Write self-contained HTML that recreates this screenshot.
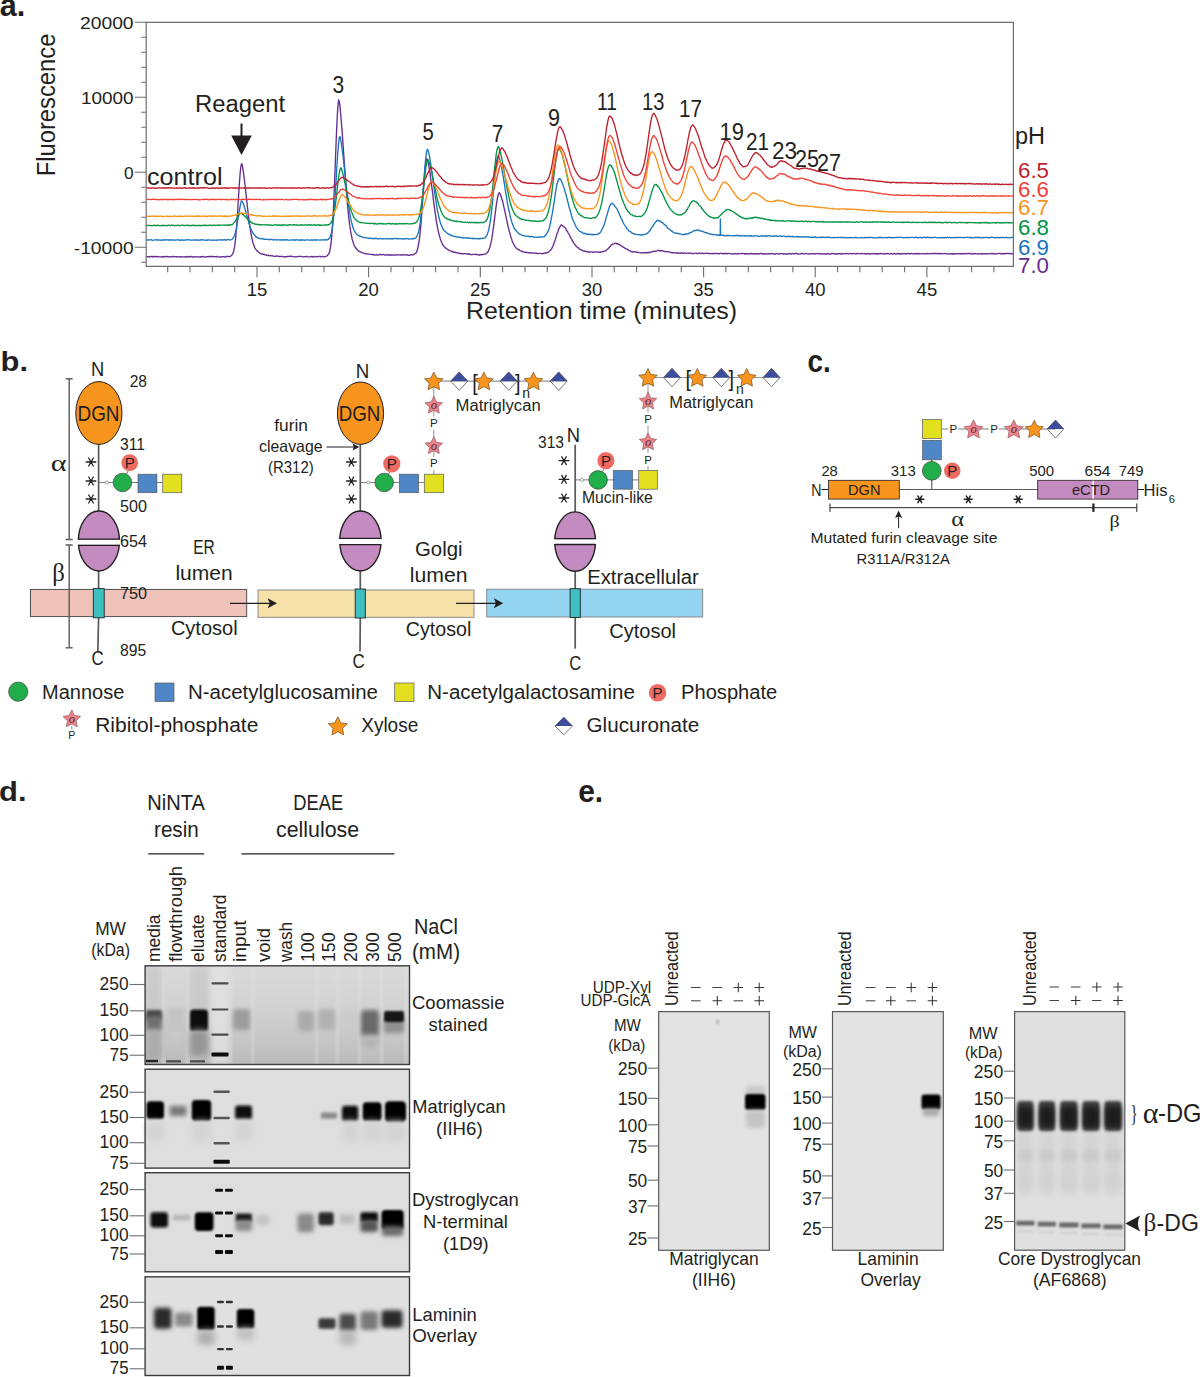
<!DOCTYPE html>
<html><head><meta charset="utf-8"><title>Figure</title>
<style>
html,body{margin:0;padding:0;background:#fff;}
body{width:1200px;height:1377px;overflow:hidden;}
svg{display:block;font-family:"Liberation Sans",sans-serif;}
</style></head><body>
<svg width="1200" height="1377" viewBox="0 0 1200 1377">
<path d="M146.2 22.3H1013.4V266.3H146.2Z" fill="none" stroke="#6d6e71" stroke-width="1.2"/>
<path d="M141.2 262.3H146.2 M134.7 247.3H146.2 M141.2 232.3H146.2 M141.2 217.3H146.2 M141.2 202.3H146.2 M141.2 187.3H146.2 M134.7 172.3H146.2 M141.2 157.3H146.2 M141.2 142.3H146.2 M141.2 127.3H146.2 M141.2 112.3H146.2 M134.7 97.3H146.2 M141.2 82.3H146.2 M141.2 67.3H146.2 M141.2 52.3H146.2 M141.2 37.3H146.2 M134.7 22.3H146.2 M167.7 266.3V272.3 M190 266.3V272.3 M212.3 266.3V272.3 M234.7 266.3V272.3 M257 266.3V277.3 M279.3 266.3V272.3 M301.7 266.3V272.3 M324 266.3V272.3 M346.3 266.3V272.3 M368.6 266.3V277.3 M391 266.3V272.3 M413.3 266.3V272.3 M435.6 266.3V272.3 M458 266.3V272.3 M480.3 266.3V277.3 M502.6 266.3V272.3 M525 266.3V272.3 M547.3 266.3V272.3 M569.6 266.3V272.3 M592 266.3V277.3 M614.3 266.3V272.3 M636.6 266.3V272.3 M658.9 266.3V272.3 M681.3 266.3V272.3 M703.6 266.3V277.3 M725.9 266.3V272.3 M748.3 266.3V272.3 M770.6 266.3V272.3 M792.9 266.3V272.3 M815.2 266.3V277.3 M837.6 266.3V272.3 M859.9 266.3V272.3 M882.2 266.3V272.3 M904.6 266.3V272.3 M926.9 266.3V277.3 M949.2 266.3V272.3 M971.6 266.3V272.3 M993.9 266.3V272.3" stroke="#6d6e71" stroke-width="1.1" fill="none"/>
<text x="80.0" y="28.5" font-size="17.3" fill="#231f20" textLength="53.6" lengthAdjust="spacingAndGlyphs">20000</text>
<text x="81.0" y="103.5" font-size="17.3" fill="#231f20" textLength="52.6" lengthAdjust="spacingAndGlyphs">10000</text>
<text x="124.0" y="178.5" font-size="17.3" fill="#231f20" textLength="9.6" lengthAdjust="spacingAndGlyphs">0</text>
<text x="73.8" y="253.5" font-size="17.3" fill="#231f20" textLength="59.8" lengthAdjust="spacingAndGlyphs">-10000</text>
<text x="246.7" y="295.5" font-size="17.8" fill="#231f20" textLength="20.6" lengthAdjust="spacingAndGlyphs">15</text>
<text x="358.3" y="295.5" font-size="17.8" fill="#231f20" textLength="20.6" lengthAdjust="spacingAndGlyphs">20</text>
<text x="470" y="295.5" font-size="17.8" fill="#231f20" textLength="20.6" lengthAdjust="spacingAndGlyphs">25</text>
<text x="581.7" y="295.5" font-size="17.8" fill="#231f20" textLength="20.6" lengthAdjust="spacingAndGlyphs">30</text>
<text x="693.3" y="295.5" font-size="17.8" fill="#231f20" textLength="20.6" lengthAdjust="spacingAndGlyphs">35</text>
<text x="805" y="295.5" font-size="17.8" fill="#231f20" textLength="20.6" lengthAdjust="spacingAndGlyphs">40</text>
<text x="916.6" y="295.5" font-size="17.8" fill="#231f20" textLength="20.6" lengthAdjust="spacingAndGlyphs">45</text>
<text x="466" y="318.8" font-size="23.5" fill="#231f20" textLength="271" lengthAdjust="spacingAndGlyphs">Retention time (minutes)</text>
<text transform="translate(55.3 176.3) rotate(-90)" font-size="25" fill="#231f20" textLength="142.7" lengthAdjust="spacingAndGlyphs">Fluorescence</text>
<path d="M146.6 256.7 L147.4 256.6 L148.2 256.9 L149.0 256.5 L149.8 256.8 L150.6 256.7 L151.4 256.5 L152.2 256.8 L153.0 256.5 L153.8 256.8 L154.6 256.5 L155.4 256.5 L156.2 256.7 L157.0 257.0 L157.8 256.5 L158.6 256.6 L159.4 256.9 L160.2 257.1 L161.0 256.9 L161.8 256.7 L162.6 257.1 L163.4 256.5 L164.2 257.0 L165.0 256.6 L165.8 256.5 L166.6 256.5 L167.4 256.7 L168.2 257.0 L169.0 256.6 L169.8 256.8 L170.6 256.9 L171.4 256.7 L172.2 256.8 L173.0 256.5 L173.8 256.5 L174.6 256.6 L175.4 256.9 L176.2 256.7 L177.0 256.7 L177.8 256.8 L178.6 256.8 L179.4 256.6 L180.2 257.0 L181.0 256.9 L181.8 256.6 L182.6 256.8 L183.4 256.8 L184.2 257.0 L185.0 256.9 L185.8 256.6 L186.6 257.1 L187.4 256.5 L188.2 256.7 L189.0 257.0 L189.8 256.5 L190.6 256.8 L191.4 256.4 L192.2 256.9 L193.0 257.0 L193.8 256.8 L194.6 257.0 L195.4 256.6 L196.2 256.9 L197.0 256.8 L197.8 256.8 L198.6 256.7 L199.4 257.0 L200.2 257.1 L201.0 256.7 L201.8 256.9 L202.6 256.4 L203.4 256.9 L204.2 256.9 L205.0 257.1 L205.8 257.0 L206.6 256.6 L207.4 256.7 L208.2 256.9 L209.0 256.4 L209.8 256.7 L210.6 256.5 L211.4 256.5 L212.2 256.4 L213.0 256.9 L213.8 256.5 L214.6 256.6 L215.4 256.7 L216.2 257.0 L217.0 256.4 L217.8 256.7 L218.6 256.8 L219.4 257.0 L220.2 257.0 L221.0 257.0 L221.8 256.6 L222.6 256.7 L223.4 256.6 L224.2 257.0 L225.0 257.0 L225.8 256.5 L226.6 256.5 L227.4 256.5 L228.2 256.5 L229.0 256.6 L229.8 256.6 L230.6 256.1 L231.4 255.5 L232.2 254.8 L233.0 253.2 L233.8 250.7 L234.6 246.8 L235.4 240.5 L236.2 232.0 L237.0 221.5 L237.8 209.2 L238.6 195.5 L239.4 183.3 L240.2 172.6 L241.0 165.7 L241.8 163.6 L242.6 167.2 L243.4 172.2 L244.2 177.9 L245.0 185.0 L245.8 191.8 L246.6 199.2 L247.4 206.7 L248.2 213.7 L249.0 220.4 L249.8 226.1 L250.6 231.2 L251.4 235.8 L252.2 239.5 L253.0 242.7 L253.8 244.9 L254.6 247.5 L255.4 248.9 L256.2 249.8 L257.0 250.8 L257.8 251.6 L258.6 252.3 L259.4 252.6 L260.2 253.5 L261.0 254.0 L261.8 253.9 L262.6 254.2 L263.4 254.2 L264.2 254.4 L265.0 254.8 L265.8 254.9 L266.6 255.4 L267.4 255.1 L268.2 255.1 L269.0 255.9 L269.8 255.7 L270.6 255.5 L271.4 255.9 L272.2 255.6 L273.0 256.0 L273.8 256.4 L274.6 256.4 L275.4 256.3 L276.2 256.0 L277.0 256.1 L277.8 256.0 L278.6 256.5 L279.4 256.4 L280.2 256.6 L281.0 256.3 L281.8 256.2 L282.6 256.7 L283.4 256.8 L284.2 256.7 L285.0 256.7 L285.8 256.7 L286.6 256.7 L287.4 256.3 L288.2 256.5 L289.0 256.4 L289.8 256.2 L290.6 256.2 L291.4 256.4 L292.2 256.4 L293.0 256.7 L293.8 256.9 L294.6 256.5 L295.4 256.9 L296.2 256.9 L297.0 256.9 L297.8 256.5 L298.6 256.4 L299.4 256.4 L300.2 256.4 L301.0 256.4 L301.8 256.7 L302.6 256.9 L303.4 256.8 L304.2 256.6 L305.0 256.7 L305.8 256.8 L306.6 256.3 L307.4 256.7 L308.2 256.9 L309.0 256.8 L309.8 256.8 L310.6 256.6 L311.4 256.4 L312.2 256.8 L313.0 256.5 L313.8 256.8 L314.6 256.9 L315.4 256.5 L316.2 256.5 L317.0 256.9 L317.8 256.8 L318.6 256.4 L319.4 256.3 L320.2 256.4 L321.0 256.9 L321.8 256.8 L322.6 256.3 L323.4 256.8 L324.2 256.9 L325.0 256.6 L325.8 256.3 L326.6 256.2 L327.4 255.5 L328.2 254.5 L329.0 253.6 L329.8 250.7 L330.6 246.3 L331.4 239.9 L332.2 230.1 L333.0 217.6 L333.8 201.3 L334.6 181.7 L335.4 160.9 L336.2 140.0 L337.0 121.4 L337.8 107.6 L338.6 99.8 L339.4 101.9 L340.2 108.7 L341.0 117.8 L341.8 127.1 L342.6 138.0 L343.4 149.5 L344.2 161.4 L345.0 172.6 L345.8 184.1 L346.6 194.2 L347.4 203.8 L348.2 212.3 L349.0 219.3 L349.8 225.9 L350.6 231.0 L351.4 235.3 L352.2 239.4 L353.0 241.8 L353.8 244.2 L354.6 246.2 L355.4 247.5 L356.2 248.5 L357.0 249.5 L357.8 250.3 L358.6 251.1 L359.4 251.1 L360.2 251.9 L361.0 252.0 L361.8 252.4 L362.6 253.0 L363.4 253.1 L364.2 253.3 L365.0 253.6 L365.8 253.9 L366.6 253.8 L367.4 254.0 L368.2 254.1 L369.0 254.2 L369.8 254.4 L370.6 254.3 L371.4 254.4 L372.2 254.5 L373.0 254.8 L373.8 254.7 L374.6 254.9 L375.4 255.0 L376.2 254.5 L377.0 254.8 L377.8 255.1 L378.6 255.0 L379.4 254.5 L380.2 254.5 L381.0 254.8 L381.8 254.5 L382.6 254.6 L383.4 254.5 L384.2 255.0 L385.0 255.1 L385.8 255.1 L386.6 254.6 L387.4 255.0 L388.2 255.0 L389.0 254.6 L389.8 255.2 L390.6 255.2 L391.4 254.7 L392.2 255.2 L393.0 254.9 L393.8 254.9 L394.6 255.3 L395.4 255.2 L396.2 254.7 L397.0 254.9 L397.8 255.0 L398.6 254.9 L399.4 254.8 L400.2 254.8 L401.0 255.1 L401.8 254.6 L402.6 255.0 L403.4 254.9 L404.2 254.6 L405.0 254.9 L405.8 255.1 L406.6 255.0 L407.4 254.7 L408.2 255.3 L409.0 255.2 L409.8 255.3 L410.6 254.7 L411.4 254.8 L412.2 254.6 L413.0 255.0 L413.8 254.4 L414.6 253.9 L415.4 253.5 L416.2 252.8 L417.0 251.0 L417.8 247.9 L418.6 244.1 L419.4 239.3 L420.2 232.2 L421.0 223.6 L421.8 213.0 L422.6 201.7 L423.4 190.4 L424.2 179.0 L425.0 169.1 L425.8 162.6 L426.6 158.6 L427.4 159.6 L428.2 162.4 L429.0 167.2 L429.8 171.6 L430.6 177.8 L431.4 183.6 L432.2 189.9 L433.0 196.5 L433.8 203.1 L434.6 208.8 L435.4 214.5 L436.2 220.1 L437.0 224.7 L437.8 228.9 L438.6 232.6 L439.4 235.7 L440.2 238.5 L441.0 240.8 L441.8 242.7 L442.6 244.6 L443.4 245.5 L444.2 246.7 L445.0 247.4 L445.8 248.2 L446.6 248.6 L447.4 249.3 L448.2 249.6 L449.0 250.5 L449.8 250.7 L450.6 250.8 L451.4 251.3 L452.2 251.9 L453.0 251.5 L453.8 252.2 L454.6 252.2 L455.4 252.4 L456.2 252.8 L457.0 252.7 L457.8 252.9 L458.6 253.2 L459.4 253.6 L460.2 253.2 L461.0 253.7 L461.8 253.7 L462.6 253.8 L463.4 253.7 L464.2 253.7 L465.0 253.6 L465.8 253.7 L466.6 253.8 L467.4 254.3 L468.2 254.0 L469.0 254.0 L469.8 254.0 L470.6 254.6 L471.4 254.7 L472.2 254.6 L473.0 254.3 L473.8 254.3 L474.6 254.4 L475.4 254.5 L476.2 254.3 L477.0 254.6 L477.8 254.5 L478.6 255.0 L479.4 255.0 L480.2 254.7 L481.0 254.5 L481.8 255.0 L482.6 254.5 L483.4 254.4 L484.2 254.1 L485.0 254.1 L485.8 253.9 L486.6 253.4 L487.4 252.4 L488.2 251.5 L489.0 249.5 L489.8 247.4 L490.6 244.4 L491.4 240.9 L492.2 236.1 L493.0 230.7 L493.8 224.9 L494.6 218.4 L495.4 212.1 L496.2 205.9 L497.0 200.6 L497.8 196.3 L498.6 193.6 L499.4 192.7 L500.2 194.0 L501.0 196.0 L501.8 199.0 L502.6 201.3 L503.4 204.9 L504.2 208.4 L505.0 211.6 L505.8 215.9 L506.6 219.7 L507.4 223.2 L508.2 226.8 L509.0 230.2 L509.8 232.8 L510.6 235.9 L511.4 238.4 L512.2 240.9 L513.0 242.8 L513.8 244.5 L514.6 245.7 L515.4 247.1 L516.2 248.0 L517.0 248.8 L517.8 249.2 L518.6 249.6 L519.4 250.1 L520.2 250.7 L521.0 250.8 L521.8 251.6 L522.6 251.7 L523.4 251.9 L524.2 252.1 L525.0 252.3 L525.8 252.3 L526.6 252.1 L527.4 252.7 L528.2 252.8 L529.0 252.7 L529.8 252.8 L530.6 253.0 L531.4 252.7 L532.2 253.2 L533.0 252.9 L533.8 252.9 L534.6 253.1 L535.4 253.4 L536.2 253.1 L537.0 253.5 L537.8 253.7 L538.6 253.4 L539.4 253.3 L540.2 253.4 L541.0 253.6 L541.8 253.6 L542.6 253.5 L543.4 253.5 L544.2 253.0 L545.0 253.0 L545.8 253.0 L546.6 253.1 L547.4 252.5 L548.2 252.4 L549.0 251.4 L549.8 250.8 L550.6 250.0 L551.4 249.1 L552.2 247.7 L553.0 246.0 L553.8 243.7 L554.6 241.6 L555.4 239.2 L556.2 236.6 L557.0 233.8 L557.8 231.9 L558.6 229.2 L559.4 227.8 L560.2 226.4 L561.0 225.0 L561.8 225.2 L562.6 225.8 L563.4 226.5 L564.2 226.9 L565.0 227.7 L565.8 228.7 L566.6 230.5 L567.4 231.3 L568.2 233.0 L569.0 234.2 L569.8 235.9 L570.6 237.7 L571.4 238.6 L572.2 240.5 L573.0 241.6 L573.8 243.2 L574.6 244.2 L575.4 245.0 L576.2 246.4 L577.0 247.0 L577.8 247.5 L578.6 248.1 L579.4 249.0 L580.2 249.5 L581.0 249.8 L581.8 250.1 L582.6 250.5 L583.4 250.8 L584.2 251.3 L585.0 250.9 L585.8 251.6 L586.6 251.8 L587.4 251.4 L588.2 252.0 L589.0 251.9 L589.8 252.1 L590.6 251.8 L591.4 251.9 L592.2 251.9 L593.0 252.4 L593.8 252.1 L594.6 252.0 L595.4 252.1 L596.2 252.0 L597.0 251.8 L597.8 251.9 L598.6 252.4 L599.4 252.0 L600.2 252.4 L601.0 251.9 L601.8 251.8 L602.6 251.8 L603.4 251.3 L604.2 251.1 L605.0 251.2 L605.8 250.6 L606.6 250.0 L607.4 249.2 L608.2 248.6 L609.0 247.8 L609.8 246.7 L610.6 246.0 L611.4 244.7 L612.2 244.5 L613.0 243.8 L613.8 243.6 L614.6 243.3 L615.4 243.1 L616.2 243.1 L617.0 244.0 L617.8 243.7 L618.6 244.3 L619.4 244.6 L620.2 245.0 L621.0 245.8 L621.8 246.5 L622.6 246.5 L623.4 247.3 L624.2 247.6 L625.0 248.3 L625.8 248.7 L626.6 249.0 L627.4 249.4 L628.2 249.9 L629.0 250.7 L629.8 250.8 L630.6 250.9 L631.4 251.7 L632.2 252.0 L633.0 251.8 L633.8 251.7 L634.6 251.9 L635.4 252.0 L636.2 252.2 L637.0 252.2 L637.8 252.3 L638.6 252.4 L639.4 252.7 L640.2 252.9 L641.0 252.9 L641.8 252.7 L642.6 252.7 L643.4 252.8 L644.2 252.7 L645.0 252.7 L645.8 252.4 L646.6 252.6 L647.4 253.0 L648.2 252.3 L649.0 252.5 L649.8 252.5 L650.6 252.5 L651.4 251.9 L652.2 251.7 L653.0 251.5 L653.8 251.4 L654.6 251.2 L655.4 251.4 L656.2 251.1 L657.0 251.0 L657.8 250.3 L658.6 250.3 L659.4 250.8 L660.2 251.0 L661.0 250.7 L661.8 250.9 L662.6 250.6 L663.4 251.0 L664.2 251.5 L665.0 251.5 L665.8 251.7 L666.6 251.9 L667.4 251.6 L668.2 251.6 L669.0 251.8 L669.8 252.2 L670.6 252.4 L671.4 252.7 L672.2 252.7 L673.0 252.7 L673.8 252.9 L674.6 252.8 L675.4 252.9 L676.2 252.6 L677.0 253.2 L677.8 252.8 L678.6 253.4 L679.4 253.2 L680.2 253.0 L681.0 252.9 L681.8 253.0 L682.6 253.3 L683.4 253.3 L684.2 252.9 L685.0 252.9 L685.8 253.3 L686.6 253.3 L687.4 253.2 L688.2 253.1 L689.0 253.3 L689.8 252.9 L690.6 253.2 L691.4 253.3 L692.2 253.6 L693.0 253.4 L693.8 253.6 L694.6 253.3 L695.4 253.1 L696.2 253.2 L697.0 253.7 L697.8 253.5 L698.6 253.2 L699.4 253.0 L700.2 253.4 L701.0 253.5 L701.8 253.3 L702.6 253.2 L703.4 253.5 L704.2 253.7 L705.0 253.2 L705.8 253.1 L706.6 253.3 L707.4 253.4 L708.2 253.6 L709.0 253.2 L709.8 253.7 L710.6 253.6 L711.4 253.5 L712.2 253.3 L713.0 253.8 L713.8 253.4 L714.6 253.7 L715.4 253.3 L716.2 253.3 L717.0 253.7 L717.8 253.4 L718.6 253.9 L719.4 253.6 L720.2 253.3 L721.0 253.4 L721.8 253.5 L722.6 253.7 L723.4 253.9 L724.2 253.4 L725.0 253.5 L725.8 253.4 L726.6 254.0 L727.4 253.4 L728.2 253.3 L729.0 253.3 L729.8 253.6 L730.6 253.9 L731.4 253.9 L732.2 253.8 L733.0 254.0 L733.8 254.0 L734.6 253.6 L735.4 253.5 L736.2 254.0 L737.0 253.9 L737.8 253.4 L738.6 253.8 L739.4 253.6 L740.2 253.6 L741.0 253.6 L741.8 253.5 L742.6 253.4 L743.4 253.6 L744.2 253.6 L745.0 254.1 L745.8 253.5 L746.6 254.1 L747.4 253.6 L748.2 253.7 L749.0 254.0 L749.8 254.0 L750.6 253.7 L751.4 253.5 L752.2 253.8 L753.0 253.7 L753.8 254.1 L754.6 253.6 L755.4 253.7 L756.2 254.1 L757.0 253.5 L757.8 253.7 L758.6 254.0 L759.4 254.0 L760.2 253.5 L761.0 253.5 L761.8 253.5 L762.6 254.1 L763.4 253.6 L764.2 254.0 L765.0 254.1 L765.8 253.7 L766.6 253.6 L767.4 254.1 L768.2 253.9 L769.0 253.6 L769.8 254.0 L770.6 253.7 L771.4 253.6 L772.2 253.5 L773.0 254.0 L773.8 254.1 L774.6 253.9 L775.4 254.1 L776.2 253.5 L777.0 253.6 L777.8 253.8 L778.6 254.1 L779.4 254.1 L780.2 253.7 L781.0 253.6 L781.8 253.7 L782.6 253.8 L783.4 254.1 L784.2 253.6 L785.0 254.0 L785.8 254.0 L786.6 254.0 L787.4 254.0 L788.2 253.9 L789.0 253.7 L789.8 253.7 L790.6 253.7 L791.4 254.0 L792.2 253.5 L793.0 253.6 L793.8 254.0 L794.6 253.6 L795.4 253.5 L796.2 253.5 L797.0 253.8 L797.8 253.7 L798.6 254.1 L799.4 254.1 L800.2 254.1 L801.0 253.6 L801.8 253.5 L802.6 253.5 L803.4 253.8 L804.2 253.9 L805.0 253.8 L805.8 253.6 L806.6 253.7 L807.4 253.9 L808.2 253.9 L809.0 254.0 L809.8 254.0 L810.6 253.9 L811.4 253.5 L812.2 254.0 L813.0 253.6 L813.8 253.8 L814.6 253.7 L815.4 254.0 L816.2 253.6 L817.0 253.6 L817.8 253.6 L818.6 253.5 L819.4 254.1 L820.2 253.8 L821.0 253.7 L821.8 253.7 L822.6 254.1 L823.4 253.8 L824.2 253.6 L825.0 254.0 L825.8 253.9 L826.6 254.1 L827.4 253.5 L828.2 253.8 L829.0 254.0 L829.8 254.0 L830.6 254.1 L831.4 253.5 L832.2 253.6 L833.0 253.5 L833.8 253.6 L834.6 254.1 L835.4 253.8 L836.2 254.1 L837.0 253.7 L837.8 254.0 L838.6 253.7 L839.4 253.6 L840.2 254.0 L841.0 254.1 L841.8 253.5 L842.6 253.8 L843.4 253.9 L844.2 253.6 L845.0 253.7 L845.8 253.5 L846.6 253.6 L847.4 253.6 L848.2 253.8 L849.0 253.9 L849.8 253.6 L850.6 253.4 L851.4 253.6 L852.2 253.9 L853.0 253.5 L853.8 253.6 L854.6 253.6 L855.4 254.0 L856.2 253.8 L857.0 253.5 L857.8 253.5 L858.6 253.7 L859.4 253.8 L860.2 253.9 L861.0 253.5 L861.8 253.5 L862.6 253.9 L863.4 253.7 L864.2 253.6 L865.0 253.6 L865.8 254.1 L866.6 253.6 L867.4 253.8 L868.2 253.7 L869.0 253.7 L869.8 254.0 L870.6 254.1 L871.4 253.7 L872.2 253.5 L873.0 253.9 L873.8 253.6 L874.6 253.4 L875.4 254.0 L876.2 253.7 L877.0 254.0 L877.8 253.7 L878.6 254.0 L879.4 253.7 L880.2 253.5 L881.0 253.4 L881.8 253.8 L882.6 253.9 L883.4 254.0 L884.2 253.5 L885.0 253.8 L885.8 253.7 L886.6 253.8 L887.4 253.5 L888.2 253.6 L889.0 253.8 L889.8 254.0 L890.6 253.5 L891.4 253.7 L892.2 254.0 L893.0 254.1 L893.8 253.5 L894.6 253.5 L895.4 254.1 L896.2 254.1 L897.0 253.7 L897.8 253.4 L898.6 254.0 L899.4 253.7 L900.2 254.0 L901.0 253.8 L901.8 254.0 L902.6 253.5 L903.4 253.9 L904.2 253.5 L905.0 253.7 L905.8 254.0 L906.6 254.0 L907.4 253.5 L908.2 253.5 L909.0 253.7 L909.8 253.7 L910.6 253.7 L911.4 253.5 L912.2 253.6 L913.0 253.9 L913.8 254.0 L914.6 253.4 L915.4 253.8 L916.2 253.9 L917.0 253.4 L917.8 254.0 L918.6 253.5 L919.4 253.8 L920.2 253.8 L921.0 253.8 L921.8 253.6 L922.6 253.7 L923.4 253.8 L924.2 253.7 L925.0 253.8 L925.8 253.7 L926.6 253.7 L927.4 253.4 L928.2 253.8 L929.0 253.7 L929.8 253.5 L930.6 253.9 L931.4 253.9 L932.2 253.7 L933.0 253.5 L933.8 253.7 L934.6 253.4 L935.4 253.5 L936.2 253.7 L937.0 253.4 L937.8 253.7 L938.6 253.7 L939.4 253.4 L940.2 253.8 L941.0 253.4 L941.8 253.9 L942.6 253.9 L943.4 253.7 L944.2 253.4 L945.0 253.7 L945.8 253.6 L946.6 254.0 L947.4 253.5 L948.2 254.0 L949.0 254.1 L949.8 253.9 L950.6 253.9 L951.4 253.5 L952.2 254.1 L953.0 253.7 L953.8 254.0 L954.6 254.0 L955.4 253.5 L956.2 253.9 L957.0 254.0 L957.8 253.4 L958.6 253.6 L959.4 253.9 L960.2 253.5 L961.0 254.0 L961.8 253.6 L962.6 253.9 L963.4 253.5 L964.2 253.7 L965.0 254.0 L965.8 253.5 L966.6 253.5 L967.4 253.7 L968.2 253.6 L969.0 253.4 L969.8 253.5 L970.6 253.5 L971.4 254.0 L972.2 253.8 L973.0 254.0 L973.8 253.5 L974.6 253.9 L975.4 253.4 L976.2 253.7 L977.0 253.8 L977.8 253.6 L978.6 254.0 L979.4 253.7 L980.2 253.8 L981.0 254.0 L981.8 253.4 L982.6 254.0 L983.4 253.8 L984.2 253.6 L985.0 253.9 L985.8 253.5 L986.6 254.0 L987.4 253.8 L988.2 253.6 L989.0 253.9 L989.8 253.7 L990.6 253.5 L991.4 253.9 L992.2 253.4 L993.0 253.9 L993.8 253.5 L994.6 253.8 L995.4 254.0 L996.2 253.8 L997.0 253.8 L997.8 253.6 L998.6 253.4 L999.4 253.4 L1000.2 253.5 L1001.0 253.8 L1001.8 253.7 L1002.6 253.7 L1003.4 254.0 L1004.2 253.4 L1005.0 253.5 L1005.8 253.8 L1006.6 253.4 L1007.4 253.4 L1008.2 253.6 L1009.0 253.4 L1009.8 253.6 L1010.6 253.5 L1011.4 253.8 L1012.2 253.8 L1013.0 253.5" fill="none" stroke="#662d91" stroke-width="1.35" stroke-linejoin="round"/>
<path d="M146.6 240.1 L147.4 240.0 L148.2 239.7 L149.0 240.3 L149.8 239.8 L150.6 239.8 L151.4 239.7 L152.2 240.1 L153.0 240.3 L153.8 240.2 L154.6 239.9 L155.4 239.8 L156.2 239.7 L157.0 240.1 L157.8 240.0 L158.6 239.9 L159.4 240.1 L160.2 240.0 L161.0 240.3 L161.8 240.2 L162.6 239.8 L163.4 240.3 L164.2 239.7 L165.0 240.0 L165.8 239.9 L166.6 239.8 L167.4 239.7 L168.2 240.2 L169.0 239.7 L169.8 240.0 L170.6 240.3 L171.4 239.7 L172.2 239.8 L173.0 240.1 L173.8 240.0 L174.6 240.1 L175.4 240.2 L176.2 239.8 L177.0 239.9 L177.8 239.9 L178.6 239.7 L179.4 240.3 L180.2 240.2 L181.0 240.2 L181.8 239.7 L182.6 240.2 L183.4 240.2 L184.2 240.0 L185.0 240.2 L185.8 240.0 L186.6 239.8 L187.4 239.7 L188.2 239.8 L189.0 239.7 L189.8 239.9 L190.6 240.2 L191.4 240.1 L192.2 240.2 L193.0 240.1 L193.8 239.8 L194.6 240.0 L195.4 240.0 L196.2 240.2 L197.0 240.0 L197.8 239.8 L198.6 240.1 L199.4 240.3 L200.2 239.8 L201.0 240.3 L201.8 239.7 L202.6 239.8 L203.4 239.8 L204.2 240.2 L205.0 240.3 L205.8 240.2 L206.6 239.9 L207.4 240.3 L208.2 239.9 L209.0 239.8 L209.8 240.3 L210.6 240.1 L211.4 240.1 L212.2 240.1 L213.0 240.3 L213.8 240.0 L214.6 240.2 L215.4 240.1 L216.2 240.3 L217.0 240.0 L217.8 240.2 L218.6 240.0 L219.4 239.9 L220.2 239.8 L221.0 240.1 L221.8 239.7 L222.6 240.3 L223.4 239.8 L224.2 239.7 L225.0 239.7 L225.8 240.3 L226.6 239.9 L227.4 239.7 L228.2 239.6 L229.0 239.6 L229.8 240.0 L230.6 239.8 L231.4 239.6 L232.2 239.2 L233.0 238.0 L233.8 237.1 L234.6 235.2 L235.4 233.0 L236.2 229.6 L237.0 225.4 L237.8 219.9 L238.6 215.3 L239.4 210.2 L240.2 205.9 L241.0 202.2 L241.8 200.9 L242.6 201.9 L243.4 203.7 L244.2 206.5 L245.0 209.1 L245.8 211.8 L246.6 214.9 L247.4 217.8 L248.2 220.4 L249.0 223.1 L249.8 225.6 L250.6 228.4 L251.4 230.0 L252.2 231.8 L253.0 233.3 L253.8 234.2 L254.6 235.3 L255.4 236.1 L256.2 237.0 L257.0 237.3 L257.8 237.6 L258.6 238.4 L259.4 238.3 L260.2 238.8 L261.0 238.8 L261.8 238.5 L262.6 238.9 L263.4 239.0 L264.2 239.3 L265.0 239.1 L265.8 239.4 L266.6 239.4 L267.4 239.2 L268.2 239.7 L269.0 239.2 L269.8 239.8 L270.6 239.4 L271.4 239.3 L272.2 239.5 L273.0 239.9 L273.8 240.1 L274.6 239.4 L275.4 239.8 L276.2 239.8 L277.0 240.0 L277.8 239.6 L278.6 239.9 L279.4 239.8 L280.2 240.1 L281.0 239.7 L281.8 240.2 L282.6 239.8 L283.4 239.7 L284.2 240.1 L285.0 239.9 L285.8 239.7 L286.6 240.0 L287.4 239.7 L288.2 240.2 L289.0 240.1 L289.8 240.2 L290.6 240.1 L291.4 239.9 L292.2 239.9 L293.0 239.9 L293.8 240.3 L294.6 239.7 L295.4 240.3 L296.2 239.7 L297.0 239.8 L297.8 239.8 L298.6 240.3 L299.4 240.0 L300.2 239.9 L301.0 240.3 L301.8 239.8 L302.6 240.0 L303.4 240.0 L304.2 240.2 L305.0 240.2 L305.8 240.1 L306.6 239.9 L307.4 239.9 L308.2 239.8 L309.0 240.2 L309.8 240.1 L310.6 240.2 L311.4 239.8 L312.2 240.0 L313.0 240.2 L313.8 240.1 L314.6 239.7 L315.4 240.0 L316.2 240.3 L317.0 239.8 L317.8 239.8 L318.6 239.9 L319.4 240.1 L320.2 240.2 L321.0 239.8 L321.8 239.8 L322.6 239.8 L323.4 239.9 L324.2 240.0 L325.0 239.7 L325.8 239.8 L326.6 239.6 L327.4 240.0 L328.2 239.5 L329.0 238.5 L329.8 238.0 L330.6 235.6 L331.4 232.9 L332.2 229.1 L333.0 222.8 L333.8 214.6 L334.6 204.1 L335.4 191.7 L336.2 178.7 L337.0 164.8 L337.8 152.6 L338.6 143.0 L339.4 137.0 L340.2 136.8 L341.0 141.4 L341.8 146.6 L342.6 152.6 L343.4 159.6 L344.2 166.7 L345.0 174.1 L345.8 182.0 L346.6 189.2 L347.4 196.4 L348.2 202.9 L349.0 208.4 L349.8 213.6 L350.6 218.2 L351.4 221.7 L352.2 224.7 L353.0 227.6 L353.8 229.8 L354.6 231.3 L355.4 232.6 L356.2 233.8 L357.0 234.5 L357.8 235.1 L358.6 235.5 L359.4 235.9 L360.2 236.4 L361.0 236.4 L361.8 236.9 L362.6 237.3 L363.4 237.5 L364.2 237.6 L365.0 237.5 L365.8 237.7 L366.6 237.9 L367.4 238.1 L368.2 238.0 L369.0 238.3 L369.8 238.5 L370.6 238.1 L371.4 238.5 L372.2 238.6 L373.0 238.4 L373.8 238.5 L374.6 238.8 L375.4 238.2 L376.2 238.6 L377.0 238.4 L377.8 238.8 L378.6 238.9 L379.4 238.6 L380.2 238.4 L381.0 238.7 L381.8 238.7 L382.6 238.8 L383.4 238.7 L384.2 238.8 L385.0 238.9 L385.8 238.7 L386.6 238.6 L387.4 239.0 L388.2 238.5 L389.0 238.9 L389.8 238.7 L390.6 238.9 L391.4 238.5 L392.2 239.1 L393.0 238.7 L393.8 238.4 L394.6 238.6 L395.4 238.7 L396.2 238.4 L397.0 238.7 L397.8 238.7 L398.6 238.9 L399.4 238.7 L400.2 238.6 L401.0 238.6 L401.8 239.0 L402.6 239.1 L403.4 238.8 L404.2 238.6 L405.0 239.0 L405.8 238.7 L406.6 238.6 L407.4 238.6 L408.2 239.0 L409.0 239.0 L409.8 238.9 L410.6 238.8 L411.4 238.8 L412.2 238.6 L413.0 239.0 L413.8 238.5 L414.6 238.5 L415.4 238.2 L416.2 237.5 L417.0 236.1 L417.8 234.2 L418.6 231.7 L419.4 227.6 L420.2 222.8 L421.0 215.7 L421.8 207.7 L422.6 197.5 L423.4 186.9 L424.2 176.0 L425.0 166.0 L425.8 157.3 L426.6 151.3 L427.4 149.2 L428.2 150.7 L429.0 154.0 L429.8 158.2 L430.6 163.1 L431.4 168.4 L432.2 174.2 L433.0 180.2 L433.8 186.0 L434.6 192.3 L435.4 197.8 L436.2 202.5 L437.0 207.9 L437.8 212.3 L438.6 216.0 L439.4 218.9 L440.2 222.2 L441.0 224.5 L441.8 226.0 L442.6 227.7 L443.4 229.7 L444.2 230.7 L445.0 231.3 L445.8 232.0 L446.6 232.7 L447.4 233.3 L448.2 234.1 L449.0 234.2 L449.8 234.5 L450.6 235.3 L451.4 235.5 L452.2 235.4 L453.0 236.1 L453.8 236.1 L454.6 236.5 L455.4 236.6 L456.2 236.9 L457.0 237.0 L457.8 237.2 L458.6 236.9 L459.4 237.4 L460.2 237.4 L461.0 237.7 L461.8 237.5 L462.6 238.0 L463.4 237.8 L464.2 237.7 L465.0 237.8 L465.8 237.8 L466.6 238.1 L467.4 237.8 L468.2 238.2 L469.0 238.0 L469.8 238.3 L470.6 238.4 L471.4 238.4 L472.2 238.7 L473.0 238.1 L473.8 238.8 L474.6 238.5 L475.4 238.6 L476.2 238.7 L477.0 238.8 L477.8 238.5 L478.6 238.6 L479.4 239.0 L480.2 238.3 L481.0 238.7 L481.8 238.6 L482.6 238.1 L483.4 238.3 L484.2 238.1 L485.0 237.8 L485.8 236.6 L486.6 235.9 L487.4 233.9 L488.2 231.5 L489.0 228.6 L489.8 223.9 L490.6 219.1 L491.4 212.6 L492.2 205.0 L493.0 197.2 L493.8 188.1 L494.6 179.5 L495.4 171.5 L496.2 164.7 L497.0 159.1 L497.8 156.2 L498.6 155.9 L499.4 158.3 L500.2 161.4 L501.0 164.5 L501.8 168.9 L502.6 173.1 L503.4 177.9 L504.2 182.7 L505.0 187.9 L505.8 193.3 L506.6 197.9 L507.4 202.7 L508.2 206.8 L509.0 210.8 L509.8 214.4 L510.6 217.9 L511.4 220.8 L512.2 223.4 L513.0 225.1 L513.8 227.4 L514.6 229.0 L515.4 230.1 L516.2 230.8 L517.0 231.8 L517.8 232.4 L518.6 233.1 L519.4 234.1 L520.2 234.3 L521.0 234.7 L521.8 235.1 L522.6 235.4 L523.4 235.5 L524.2 235.7 L525.0 235.9 L525.8 236.1 L526.6 236.1 L527.4 236.3 L528.2 236.1 L529.0 236.6 L529.8 236.5 L530.6 236.8 L531.4 236.5 L532.2 236.6 L533.0 236.6 L533.8 237.2 L534.6 237.3 L535.4 237.2 L536.2 237.0 L537.0 237.4 L537.8 237.4 L538.6 237.2 L539.4 237.0 L540.2 237.0 L541.0 237.1 L541.8 236.9 L542.6 236.8 L543.4 236.8 L544.2 236.6 L545.0 235.5 L545.8 235.1 L546.6 233.8 L547.4 232.5 L548.2 231.2 L549.0 228.8 L549.8 226.2 L550.6 222.4 L551.4 218.2 L552.2 213.9 L553.0 209.1 L553.8 204.1 L554.6 198.8 L555.4 193.3 L556.2 188.5 L557.0 184.2 L557.8 181.5 L558.6 179.2 L559.4 178.4 L560.2 179.0 L561.0 180.1 L561.8 182.1 L562.6 183.6 L563.4 186.4 L564.2 188.3 L565.0 191.5 L565.8 193.9 L566.6 196.9 L567.4 200.5 L568.2 203.3 L569.0 206.7 L569.8 209.3 L570.6 212.0 L571.4 215.2 L572.2 217.7 L573.0 220.0 L573.8 222.0 L574.6 223.4 L575.4 225.5 L576.2 227.0 L577.0 228.1 L577.8 229.5 L578.6 229.9 L579.4 231.2 L580.2 231.7 L581.0 231.8 L581.8 232.2 L582.6 233.0 L583.4 233.5 L584.2 233.2 L585.0 233.6 L585.8 234.1 L586.6 233.8 L587.4 234.4 L588.2 234.3 L589.0 234.0 L589.8 234.3 L590.6 234.6 L591.4 234.5 L592.2 234.7 L593.0 234.4 L593.8 234.9 L594.6 234.5 L595.4 234.7 L596.2 234.6 L597.0 234.3 L597.8 234.0 L598.6 233.9 L599.4 233.4 L600.2 232.6 L601.0 231.4 L601.8 229.9 L602.6 228.2 L603.4 226.9 L604.2 224.5 L605.0 222.0 L605.8 218.9 L606.6 216.3 L607.4 213.6 L608.2 210.8 L609.0 208.1 L609.8 205.8 L610.6 204.4 L611.4 203.8 L612.2 203.3 L613.0 204.0 L613.8 204.7 L614.6 205.8 L615.4 206.8 L616.2 207.8 L617.0 209.0 L617.8 210.8 L618.6 212.6 L619.4 214.4 L620.2 216.3 L621.0 218.1 L621.8 219.2 L622.6 221.4 L623.4 223.0 L624.2 224.5 L625.0 225.7 L625.8 226.7 L626.6 228.3 L627.4 229.3 L628.2 230.1 L629.0 231.1 L629.8 231.4 L630.6 231.8 L631.4 232.6 L632.2 233.2 L633.0 233.2 L633.8 233.9 L634.6 234.2 L635.4 234.0 L636.2 234.4 L637.0 234.6 L637.8 234.6 L638.6 234.5 L639.4 234.6 L640.2 235.0 L641.0 235.0 L641.8 234.8 L642.6 234.5 L643.4 234.9 L644.2 234.7 L645.0 234.1 L645.8 234.1 L646.6 233.9 L647.4 233.4 L648.2 232.5 L649.0 231.6 L649.8 230.8 L650.6 229.4 L651.4 228.2 L652.2 226.9 L653.0 225.9 L653.8 224.4 L654.6 223.3 L655.4 222.2 L656.2 221.4 L657.0 220.6 L657.8 220.3 L658.6 221.0 L659.4 220.8 L660.2 221.0 L661.0 221.8 L661.8 222.5 L662.6 222.6 L663.4 223.6 L664.2 224.2 L665.0 225.1 L665.8 225.5 L666.6 226.3 L667.4 227.7 L668.2 228.4 L669.0 228.8 L669.8 229.6 L670.6 230.0 L671.4 231.0 L672.2 231.3 L673.0 232.1 L673.8 232.4 L674.6 232.8 L675.4 233.3 L676.2 233.1 L677.0 233.2 L677.8 233.5 L678.6 233.7 L679.4 233.7 L680.2 233.8 L681.0 234.3 L681.8 234.6 L682.6 234.3 L683.4 234.7 L684.2 234.6 L685.0 234.0 L685.8 234.3 L686.6 234.0 L687.4 233.6 L688.2 233.9 L689.0 233.1 L689.8 233.0 L690.6 232.6 L691.4 232.4 L692.2 231.8 L693.0 231.2 L693.8 230.9 L694.6 230.3 L695.4 230.7 L696.2 230.5 L697.0 230.0 L697.8 229.9 L698.6 230.2 L699.4 230.4 L700.2 231.0 L701.0 231.2 L701.8 231.4 L702.6 231.1 L703.4 231.9 L704.2 232.1 L705.0 232.4 L705.8 232.9 L706.6 232.5 L707.4 232.9 L708.2 233.6 L709.0 233.9 L709.8 234.0 L710.6 233.9 L711.4 234.3 L712.2 234.6 L713.0 234.3 L713.8 234.6 L714.6 234.6 L715.4 234.6 L716.2 235.0 L717.0 234.8 L717.8 235.0 L718.6 234.9 L719.4 235.4 L720.2 234.9 L720.4 219.0 L720.6 234.9 L721.0 235.5 L721.8 235.1 L722.6 235.1 L723.4 235.7 L724.2 235.2 L725.0 235.8 L725.8 235.7 L726.6 235.8 L727.4 235.3 L728.2 235.5 L729.0 235.3 L729.8 235.9 L730.6 235.8 L731.4 235.7 L732.2 235.6 L733.0 235.5 L733.8 235.9 L734.6 235.7 L735.4 235.8 L736.2 235.4 L737.0 235.5 L737.8 235.4 L738.6 235.9 L739.4 235.8 L740.2 235.5 L741.0 236.0 L741.8 235.6 L742.6 235.8 L743.4 235.6 L744.2 235.7 L745.0 236.1 L745.8 235.8 L746.6 235.6 L747.4 235.9 L748.2 235.8 L749.0 236.2 L749.8 235.7 L750.6 236.3 L751.4 235.6 L752.2 236.2 L753.0 236.1 L753.8 235.8 L754.6 236.0 L755.4 235.8 L756.2 235.8 L757.0 235.8 L757.8 235.9 L758.6 236.3 L759.4 236.3 L760.2 236.3 L761.0 235.7 L761.8 235.8 L762.6 236.3 L763.4 235.7 L764.2 236.2 L765.0 235.9 L765.8 236.4 L766.6 235.7 L767.4 236.2 L768.2 235.9 L769.0 235.8 L769.8 235.7 L770.6 236.3 L771.4 236.1 L772.2 235.9 L773.0 236.1 L773.8 236.4 L774.6 235.9 L775.4 236.2 L776.2 235.9 L777.0 236.0 L777.8 236.4 L778.6 236.4 L779.4 236.0 L780.2 236.0 L781.0 236.0 L781.8 236.4 L782.6 236.3 L783.4 236.2 L784.2 236.1 L785.0 236.4 L785.8 236.5 L786.6 236.6 L787.4 236.5 L788.2 236.2 L789.0 236.2 L789.8 236.7 L790.6 236.5 L791.4 236.7 L792.2 236.3 L793.0 236.8 L793.8 236.5 L794.6 236.9 L795.4 236.9 L796.2 236.7 L797.0 236.4 L797.8 237.0 L798.6 236.7 L799.4 237.0 L800.2 236.6 L801.0 236.6 L801.8 237.1 L802.6 236.8 L803.4 236.7 L804.2 236.8 L805.0 237.0 L805.8 236.6 L806.6 237.0 L807.4 237.0 L808.2 237.1 L809.0 236.8 L809.8 237.2 L810.6 237.3 L811.4 237.4 L812.2 237.0 L813.0 237.3 L813.8 237.1 L814.6 237.4 L815.4 236.9 L816.2 237.5 L817.0 237.6 L817.8 237.3 L818.6 237.3 L819.4 237.4 L820.2 237.4 L821.0 237.0 L821.8 237.7 L822.6 237.2 L823.4 237.2 L824.2 237.2 L825.0 237.3 L825.8 237.7 L826.6 237.2 L827.4 237.2 L828.2 237.6 L829.0 237.3 L829.8 237.2 L830.6 237.6 L831.4 237.6 L832.2 237.6 L833.0 237.7 L833.8 237.3 L834.6 237.8 L835.4 237.7 L836.2 237.3 L837.0 237.3 L837.8 237.6 L838.6 237.6 L839.4 237.4 L840.2 237.3 L841.0 237.5 L841.8 237.3 L842.6 237.7 L843.4 237.9 L844.2 237.4 L845.0 237.7 L845.8 237.8 L846.6 237.4 L847.4 237.8 L848.2 237.9 L849.0 237.5 L849.8 237.5 L850.6 237.8 L851.4 237.6 L852.2 237.5 L853.0 237.9 L853.8 237.8 L854.6 237.5 L855.4 237.4 L856.2 237.5 L857.0 237.6 L857.8 237.9 L858.6 237.8 L859.4 237.9 L860.2 237.8 L861.0 237.8 L861.8 237.3 L862.6 237.6 L863.4 237.9 L864.2 237.9 L865.0 237.4 L865.8 237.5 L866.6 237.7 L867.4 237.5 L868.2 237.6 L869.0 237.3 L869.8 237.5 L870.6 237.6 L871.4 237.3 L872.2 237.3 L873.0 237.9 L873.8 237.8 L874.6 237.9 L875.4 237.7 L876.2 237.8 L877.0 237.9 L877.8 237.9 L878.6 237.3 L879.4 237.7 L880.2 237.4 L881.0 237.7 L881.8 237.4 L882.6 237.6 L883.4 237.9 L884.2 237.7 L885.0 237.4 L885.8 237.6 L886.6 237.5 L887.4 237.9 L888.2 237.4 L889.0 237.4 L889.8 237.7 L890.6 237.3 L891.4 237.6 L892.2 237.9 L893.0 237.6 L893.8 237.4 L894.6 237.6 L895.4 237.6 L896.2 237.3 L897.0 237.3 L897.8 237.3 L898.6 237.4 L899.4 237.5 L900.2 237.4 L901.0 237.4 L901.8 237.3 L902.6 237.6 L903.4 237.8 L904.2 237.6 L905.0 237.6 L905.8 237.7 L906.6 237.4 L907.4 237.7 L908.2 237.5 L909.0 237.6 L909.8 237.6 L910.6 237.5 L911.4 237.4 L912.2 237.4 L913.0 237.4 L913.8 237.6 L914.6 237.5 L915.4 237.6 L916.2 237.2 L917.0 237.5 L917.8 237.8 L918.6 237.4 L919.4 237.6 L920.2 237.5 L921.0 237.4 L921.8 237.9 L922.6 237.4 L923.4 237.7 L924.2 237.3 L925.0 237.2 L925.8 237.8 L926.6 237.5 L927.4 237.2 L928.2 237.5 L929.0 237.5 L929.8 237.7 L930.6 237.3 L931.4 237.4 L932.2 237.9 L933.0 237.7 L933.8 237.3 L934.6 237.4 L935.4 237.4 L936.2 237.7 L937.0 237.6 L937.8 237.8 L938.6 237.8 L939.4 237.6 L940.2 237.7 L941.0 237.7 L941.8 237.7 L942.6 237.5 L943.4 237.7 L944.2 237.7 L945.0 237.8 L945.8 237.3 L946.6 237.8 L947.4 237.2 L948.2 237.7 L949.0 237.6 L949.8 237.5 L950.6 237.9 L951.4 237.6 L952.2 237.5 L953.0 237.7 L953.8 237.8 L954.6 237.6 L955.4 237.4 L956.2 237.5 L957.0 237.5 L957.8 237.7 L958.6 237.4 L959.4 237.4 L960.2 237.6 L961.0 237.4 L961.8 237.4 L962.6 237.7 L963.4 237.8 L964.2 237.5 L965.0 237.5 L965.8 237.3 L966.6 237.4 L967.4 237.3 L968.2 237.6 L969.0 237.6 L969.8 237.2 L970.6 237.8 L971.4 237.4 L972.2 237.8 L973.0 237.8 L973.8 237.8 L974.6 237.3 L975.4 237.5 L976.2 237.8 L977.0 237.2 L977.8 237.2 L978.6 237.6 L979.4 237.5 L980.2 237.8 L981.0 237.7 L981.8 237.5 L982.6 237.9 L983.4 237.5 L984.2 237.5 L985.0 237.6 L985.8 237.4 L986.6 237.4 L987.4 237.6 L988.2 237.4 L989.0 237.8 L989.8 237.6 L990.6 237.5 L991.4 237.2 L992.2 237.4 L993.0 237.4 L993.8 237.5 L994.6 237.6 L995.4 237.8 L996.2 237.8 L997.0 237.5 L997.8 237.5 L998.6 237.6 L999.4 237.8 L1000.2 237.4 L1001.0 237.5 L1001.8 237.7 L1002.6 237.3 L1003.4 237.4 L1004.2 237.8 L1005.0 237.7 L1005.8 237.5 L1006.6 237.2 L1007.4 237.8 L1008.2 237.6 L1009.0 237.7 L1009.8 237.8 L1010.6 237.8 L1011.4 237.4 L1012.2 237.3 L1013.0 237.4" fill="none" stroke="#1c75bc" stroke-width="1.35" stroke-linejoin="round"/>
<path d="M146.6 225.5 L147.4 225.5 L148.2 225.3 L149.0 225.3 L149.8 225.6 L150.6 225.6 L151.4 225.4 L152.2 225.8 L153.0 225.6 L153.8 225.2 L154.6 225.4 L155.4 225.7 L156.2 225.4 L157.0 225.6 L157.8 225.1 L158.6 225.4 L159.4 225.7 L160.2 225.6 L161.0 225.6 L161.8 225.3 L162.6 225.5 L163.4 225.5 L164.2 225.3 L165.0 225.6 L165.8 225.5 L166.6 225.8 L167.4 225.5 L168.2 225.4 L169.0 225.2 L169.8 225.2 L170.6 225.7 L171.4 225.2 L172.2 225.2 L173.0 225.2 L173.8 225.5 L174.6 225.7 L175.4 225.5 L176.2 225.7 L177.0 225.2 L177.8 225.1 L178.6 225.6 L179.4 225.3 L180.2 225.6 L181.0 225.4 L181.8 225.2 L182.6 225.3 L183.4 225.2 L184.2 225.7 L185.0 225.5 L185.8 225.3 L186.6 225.4 L187.4 225.4 L188.2 225.1 L189.0 225.7 L189.8 225.5 L190.6 225.7 L191.4 225.4 L192.2 225.5 L193.0 225.2 L193.8 225.1 L194.6 225.7 L195.4 225.7 L196.2 225.3 L197.0 225.7 L197.8 225.6 L198.6 225.3 L199.4 225.5 L200.2 225.7 L201.0 225.4 L201.8 225.7 L202.6 225.2 L203.4 225.3 L204.2 225.5 L205.0 225.2 L205.8 225.2 L206.6 225.6 L207.4 225.4 L208.2 225.6 L209.0 225.2 L209.8 225.1 L210.6 225.3 L211.4 225.1 L212.2 225.7 L213.0 225.2 L213.8 225.4 L214.6 225.1 L215.4 225.4 L216.2 225.3 L217.0 225.3 L217.8 225.0 L218.6 225.1 L219.4 225.6 L220.2 225.2 L221.0 225.1 L221.8 225.1 L222.6 225.2 L223.4 225.1 L224.2 225.0 L225.0 225.4 L225.8 225.2 L226.6 225.0 L227.4 225.4 L228.2 224.9 L229.0 225.0 L229.8 225.3 L230.6 224.7 L231.4 224.7 L232.2 224.6 L233.0 224.0 L233.8 222.8 L234.6 222.0 L235.4 221.1 L236.2 219.5 L237.0 218.5 L237.8 216.5 L238.6 215.6 L239.4 214.2 L240.2 213.3 L241.0 213.2 L241.8 213.4 L242.6 214.3 L243.4 214.7 L244.2 215.8 L245.0 216.4 L245.8 217.1 L246.6 217.9 L247.4 219.0 L248.2 219.6 L249.0 220.8 L249.8 221.0 L250.6 221.9 L251.4 222.5 L252.2 222.8 L253.0 223.5 L253.8 223.6 L254.6 224.0 L255.4 224.2 L256.2 224.2 L257.0 224.4 L257.8 224.3 L258.6 224.4 L259.4 225.0 L260.2 224.7 L261.0 224.9 L261.8 224.6 L262.6 224.9 L263.4 224.8 L264.2 224.9 L265.0 224.8 L265.8 224.7 L266.6 224.9 L267.4 224.8 L268.2 224.7 L269.0 225.2 L269.8 224.9 L270.6 225.0 L271.4 225.3 L272.2 225.2 L273.0 225.3 L273.8 225.3 L274.6 224.8 L275.4 224.9 L276.2 224.7 L277.0 225.2 L277.8 225.2 L278.6 225.0 L279.4 225.0 L280.2 225.2 L281.0 225.2 L281.8 224.9 L282.6 225.3 L283.4 225.0 L284.2 225.2 L285.0 224.8 L285.8 224.8 L286.6 225.3 L287.4 225.2 L288.2 225.2 L289.0 224.7 L289.8 224.7 L290.6 224.8 L291.4 224.8 L292.2 224.9 L293.0 225.0 L293.8 224.7 L294.6 224.9 L295.4 225.1 L296.2 224.8 L297.0 225.3 L297.8 225.1 L298.6 225.2 L299.4 224.9 L300.2 225.0 L301.0 225.2 L301.8 224.9 L302.6 224.7 L303.4 225.3 L304.2 225.2 L305.0 224.9 L305.8 224.7 L306.6 225.3 L307.4 225.1 L308.2 224.7 L309.0 224.8 L309.8 224.7 L310.6 225.2 L311.4 224.8 L312.2 225.3 L313.0 225.2 L313.8 224.7 L314.6 225.1 L315.4 224.9 L316.2 225.2 L317.0 225.2 L317.8 224.9 L318.6 224.7 L319.4 225.3 L320.2 225.0 L321.0 225.3 L321.8 225.1 L322.6 225.2 L323.4 225.2 L324.2 225.1 L325.0 225.0 L325.8 224.7 L326.6 225.1 L327.4 224.8 L328.2 224.7 L329.0 224.8 L329.8 223.8 L330.6 223.6 L331.4 221.9 L332.2 220.7 L333.0 218.3 L333.8 214.4 L334.6 210.2 L335.4 205.0 L336.2 198.3 L337.0 191.3 L337.8 184.1 L338.6 177.5 L339.4 172.4 L340.2 169.0 L341.0 167.7 L341.8 170.0 L342.6 172.6 L343.4 176.1 L344.2 179.6 L345.0 183.1 L345.8 187.1 L346.6 191.3 L347.4 195.2 L348.2 199.3 L349.0 202.5 L349.8 205.7 L350.6 209.1 L351.4 211.1 L352.2 213.6 L353.0 215.4 L353.8 217.3 L354.6 218.3 L355.4 219.5 L356.2 220.0 L357.0 221.0 L357.8 221.4 L358.6 221.8 L359.4 222.3 L360.2 222.6 L361.0 222.3 L361.8 222.6 L362.6 222.8 L363.4 222.9 L364.2 222.9 L365.0 223.1 L365.8 223.1 L366.6 223.5 L367.4 223.4 L368.2 223.2 L369.0 223.4 L369.8 223.5 L370.6 223.5 L371.4 223.4 L372.2 223.4 L373.0 223.3 L373.8 224.0 L374.6 223.9 L375.4 223.4 L376.2 223.9 L377.0 224.1 L377.8 223.8 L378.6 223.5 L379.4 223.7 L380.2 223.7 L381.0 223.5 L381.8 223.8 L382.6 223.4 L383.4 224.0 L384.2 223.8 L385.0 223.8 L385.8 224.0 L386.6 223.9 L387.4 223.6 L388.2 223.6 L389.0 223.5 L389.8 223.4 L390.6 224.0 L391.4 224.0 L392.2 223.6 L393.0 223.5 L393.8 223.9 L394.6 224.0 L395.4 224.1 L396.2 223.5 L397.0 224.0 L397.8 224.0 L398.6 223.9 L399.4 223.6 L400.2 223.5 L401.0 224.0 L401.8 223.6 L402.6 223.6 L403.4 223.8 L404.2 223.6 L405.0 224.0 L405.8 223.5 L406.6 223.4 L407.4 223.7 L408.2 223.8 L409.0 223.9 L409.8 223.8 L410.6 223.9 L411.4 223.9 L412.2 223.6 L413.0 223.5 L413.8 223.2 L414.6 223.1 L415.4 223.0 L416.2 222.1 L417.0 221.6 L417.8 220.0 L418.6 218.3 L419.4 216.0 L420.2 211.8 L421.0 207.3 L421.8 202.0 L422.6 195.3 L423.4 188.5 L424.2 180.6 L425.0 174.1 L425.8 167.9 L426.6 163.1 L427.4 160.0 L428.2 159.7 L429.0 162.0 L429.8 164.4 L430.6 167.3 L431.4 170.7 L432.2 174.5 L433.0 178.6 L433.8 182.8 L434.6 186.9 L435.4 190.3 L436.2 194.2 L437.0 197.9 L437.8 201.3 L438.6 204.1 L439.4 206.6 L440.2 208.8 L441.0 211.0 L441.8 212.7 L442.6 214.5 L443.4 215.7 L444.2 216.6 L445.0 217.5 L445.8 218.2 L446.6 218.5 L447.4 219.1 L448.2 219.0 L449.0 219.7 L449.8 220.0 L450.6 220.0 L451.4 220.4 L452.2 220.9 L453.0 220.8 L453.8 221.0 L454.6 220.9 L455.4 221.1 L456.2 221.6 L457.0 221.1 L457.8 221.3 L458.6 221.8 L459.4 221.7 L460.2 221.5 L461.0 222.0 L461.8 221.9 L462.6 222.1 L463.4 222.1 L464.2 222.2 L465.0 222.3 L465.8 222.2 L466.6 222.1 L467.4 222.2 L468.2 222.7 L469.0 222.5 L469.8 222.2 L470.6 222.8 L471.4 222.4 L472.2 222.3 L473.0 222.6 L473.8 222.5 L474.6 222.7 L475.4 222.7 L476.2 222.5 L477.0 222.8 L477.8 222.4 L478.6 222.7 L479.4 222.8 L480.2 222.4 L481.0 222.6 L481.8 222.3 L482.6 222.5 L483.4 222.6 L484.2 222.1 L485.0 221.8 L485.8 221.1 L486.6 219.6 L487.4 218.7 L488.2 216.3 L489.0 213.0 L489.8 209.7 L490.6 204.5 L491.4 198.5 L492.2 192.3 L493.0 184.5 L493.8 176.7 L494.6 168.3 L495.4 161.3 L496.2 154.5 L497.0 149.8 L497.8 147.1 L498.6 146.6 L499.4 149.1 L500.2 151.5 L501.0 154.8 L501.8 158.7 L502.6 162.6 L503.4 167.3 L504.2 171.6 L505.0 176.4 L505.8 180.8 L506.6 185.5 L507.4 189.8 L508.2 193.3 L509.0 197.4 L509.8 200.5 L510.6 203.8 L511.4 206.3 L512.2 208.7 L513.0 210.2 L513.8 212.1 L514.6 213.7 L515.4 215.0 L516.2 215.9 L517.0 216.2 L517.8 217.2 L518.6 217.4 L519.4 218.2 L520.2 218.8 L521.0 218.6 L521.8 219.5 L522.6 219.5 L523.4 219.4 L524.2 219.6 L525.0 219.9 L525.8 220.3 L526.6 220.3 L527.4 220.1 L528.2 220.1 L529.0 220.3 L529.8 220.9 L530.6 220.6 L531.4 220.9 L532.2 220.8 L533.0 221.1 L533.8 221.0 L534.6 220.9 L535.4 221.4 L536.2 221.2 L537.0 221.3 L537.8 221.4 L538.6 221.5 L539.4 220.9 L540.2 221.1 L541.0 220.8 L541.8 220.9 L542.6 221.0 L543.4 220.6 L544.2 219.5 L545.0 218.9 L545.8 218.2 L546.6 216.7 L547.4 214.6 L548.2 212.2 L549.0 208.8 L549.8 205.4 L550.6 200.5 L551.4 195.6 L552.2 189.5 L553.0 182.8 L553.8 176.4 L554.6 169.7 L555.4 164.0 L556.2 158.3 L557.0 153.5 L557.8 150.4 L558.6 148.8 L559.4 149.1 L560.2 150.2 L561.0 151.7 L561.8 153.8 L562.6 156.1 L563.4 159.5 L564.2 162.6 L565.0 165.9 L565.8 169.9 L566.6 174.1 L567.4 177.3 L568.2 181.3 L569.0 185.4 L569.8 188.7 L570.6 192.2 L571.4 195.5 L572.2 198.3 L573.0 201.3 L573.8 203.7 L574.6 206.2 L575.4 208.2 L576.2 209.2 L577.0 211.0 L577.8 212.4 L578.6 213.6 L579.4 214.4 L580.2 215.0 L581.0 215.7 L581.8 216.0 L582.6 216.4 L583.4 217.1 L584.2 217.4 L585.0 217.7 L585.8 217.7 L586.6 217.6 L587.4 218.1 L588.2 218.2 L589.0 218.1 L589.8 218.3 L590.6 218.1 L591.4 218.3 L592.2 218.2 L593.0 217.9 L593.8 217.9 L594.6 217.7 L595.4 217.8 L596.2 216.8 L597.0 215.9 L597.8 214.7 L598.6 213.2 L599.4 211.3 L600.2 208.7 L601.0 205.6 L601.8 202.7 L602.6 198.3 L603.4 193.8 L604.2 189.1 L605.0 184.0 L605.8 179.0 L606.6 174.4 L607.4 170.7 L608.2 167.6 L609.0 165.8 L609.8 164.7 L610.6 165.4 L611.4 165.9 L612.2 167.6 L613.0 169.0 L613.8 170.7 L614.6 173.0 L615.4 175.8 L616.2 178.8 L617.0 181.2 L617.8 184.4 L618.6 187.1 L619.4 190.2 L620.2 192.5 L621.0 195.5 L621.8 198.3 L622.6 200.2 L623.4 202.4 L624.2 204.2 L625.0 206.1 L625.8 207.8 L626.6 209.5 L627.4 210.4 L628.2 211.6 L629.0 212.4 L629.8 213.4 L630.6 214.3 L631.4 214.7 L632.2 214.8 L633.0 215.6 L633.8 216.0 L634.6 216.0 L635.4 215.9 L636.2 216.6 L637.0 216.7 L637.8 216.4 L638.6 216.3 L639.4 216.3 L640.2 216.5 L641.0 216.5 L641.8 216.0 L642.6 215.7 L643.4 214.6 L644.2 213.8 L645.0 212.9 L645.8 211.3 L646.6 209.4 L647.4 207.4 L648.2 204.7 L649.0 201.8 L649.8 199.2 L650.6 195.9 L651.4 193.4 L652.2 190.5 L653.0 188.2 L653.8 186.4 L654.6 184.9 L655.4 184.5 L656.2 184.4 L657.0 185.6 L657.8 186.1 L658.6 187.4 L659.4 187.9 L660.2 189.7 L661.0 191.2 L661.8 192.6 L662.6 194.1 L663.4 195.9 L664.2 197.6 L665.0 199.8 L665.8 201.0 L666.6 203.1 L667.4 204.3 L668.2 205.8 L669.0 207.2 L669.8 208.4 L670.6 209.5 L671.4 210.4 L672.2 211.1 L673.0 212.1 L673.8 212.4 L674.6 213.3 L675.4 213.8 L676.2 214.2 L677.0 214.2 L677.8 214.7 L678.6 215.0 L679.4 214.8 L680.2 214.7 L681.0 214.8 L681.8 214.9 L682.6 214.0 L683.4 213.4 L684.2 213.1 L685.0 212.4 L685.8 211.6 L686.6 210.1 L687.4 209.3 L688.2 207.4 L689.0 206.3 L689.8 204.5 L690.6 203.2 L691.4 202.1 L692.2 201.3 L693.0 201.0 L693.8 200.9 L694.6 200.9 L695.4 201.9 L696.2 202.1 L697.0 202.6 L697.8 203.4 L698.6 204.6 L699.4 205.7 L700.2 206.1 L701.0 207.0 L701.8 208.6 L702.6 209.2 L703.4 210.8 L704.2 211.4 L705.0 212.4 L705.8 213.1 L706.6 214.3 L707.4 214.8 L708.2 215.4 L709.0 216.4 L709.8 216.4 L710.6 217.2 L711.4 217.1 L712.2 217.8 L713.0 217.9 L713.8 218.3 L714.6 217.8 L715.4 218.2 L716.2 217.9 L717.0 218.0 L717.8 217.7 L718.6 217.0 L719.4 216.2 L720.2 215.5 L721.0 214.8 L721.8 214.1 L722.6 213.1 L723.4 212.2 L724.2 211.7 L725.0 210.9 L725.8 210.1 L726.6 210.1 L727.4 209.4 L728.2 209.6 L729.0 209.5 L729.8 210.2 L730.6 210.5 L731.4 210.5 L732.2 211.3 L733.0 211.8 L733.8 212.0 L734.6 212.6 L735.4 213.3 L736.2 214.1 L737.0 214.2 L737.8 215.1 L738.6 215.6 L739.4 216.1 L740.2 216.6 L741.0 217.3 L741.8 217.2 L742.6 218.1 L743.4 218.0 L744.2 218.5 L745.0 218.8 L745.8 218.4 L746.6 218.9 L747.4 219.0 L748.2 218.5 L749.0 218.2 L749.8 218.1 L750.6 218.6 L751.4 217.7 L752.2 218.2 L753.0 217.5 L753.8 217.8 L754.6 217.2 L755.4 217.2 L756.2 217.6 L757.0 217.3 L757.8 217.5 L758.6 218.1 L759.4 218.0 L760.2 218.3 L761.0 218.5 L761.8 218.0 L762.6 218.4 L763.4 218.9 L764.2 219.0 L765.0 218.8 L765.8 219.3 L766.6 219.3 L767.4 219.6 L768.2 219.5 L769.0 219.6 L769.8 220.4 L770.6 220.0 L771.4 220.6 L772.2 220.1 L773.0 220.5 L773.8 220.3 L774.6 220.6 L775.4 220.5 L776.2 220.9 L777.0 220.5 L777.8 221.0 L778.6 220.9 L779.4 220.6 L780.2 220.8 L781.0 220.9 L781.8 221.2 L782.6 220.8 L783.4 220.7 L784.2 221.3 L785.0 221.2 L785.8 221.1 L786.6 220.8 L787.4 220.8 L788.2 220.9 L789.0 220.7 L789.8 220.7 L790.6 221.1 L791.4 221.0 L792.2 221.1 L793.0 221.0 L793.8 220.8 L794.6 221.3 L795.4 221.3 L796.2 221.2 L797.0 221.2 L797.8 221.3 L798.6 221.6 L799.4 221.5 L800.2 221.4 L801.0 221.2 L801.8 221.2 L802.6 221.3 L803.4 221.7 L804.2 221.3 L805.0 221.3 L805.8 221.3 L806.6 221.2 L807.4 221.8 L808.2 221.1 L809.0 221.5 L809.8 221.8 L810.6 221.3 L811.4 221.6 L812.2 221.5 L813.0 221.4 L813.8 221.4 L814.6 221.3 L815.4 221.9 L816.2 221.8 L817.0 222.0 L817.8 221.4 L818.6 221.8 L819.4 221.6 L820.2 221.8 L821.0 221.8 L821.8 221.6 L822.6 222.1 L823.4 221.5 L824.2 222.0 L825.0 222.1 L825.8 221.9 L826.6 221.9 L827.4 222.2 L828.2 221.7 L829.0 222.0 L829.8 222.1 L830.6 221.8 L831.4 222.1 L832.2 221.9 L833.0 222.0 L833.8 222.0 L834.6 222.1 L835.4 221.9 L836.2 222.1 L837.0 222.0 L837.8 221.8 L838.6 222.1 L839.4 221.8 L840.2 222.3 L841.0 222.0 L841.8 222.2 L842.6 222.0 L843.4 222.0 L844.2 221.8 L845.0 221.8 L845.8 222.3 L846.6 222.0 L847.4 222.0 L848.2 222.0 L849.0 222.2 L849.8 221.8 L850.6 221.8 L851.4 222.2 L852.2 222.0 L853.0 222.1 L853.8 222.2 L854.6 222.3 L855.4 222.3 L856.2 221.7 L857.0 221.9 L857.8 222.3 L858.6 222.2 L859.4 221.8 L860.2 221.8 L861.0 221.9 L861.8 221.8 L862.6 221.9 L863.4 222.3 L864.2 222.1 L865.0 222.0 L865.8 221.8 L866.6 222.0 L867.4 222.4 L868.2 222.2 L869.0 222.0 L869.8 222.0 L870.6 222.3 L871.4 222.3 L872.2 221.8 L873.0 222.2 L873.8 222.0 L874.6 222.1 L875.4 221.9 L876.2 222.0 L877.0 222.0 L877.8 222.0 L878.6 221.8 L879.4 221.9 L880.2 222.2 L881.0 221.8 L881.8 221.9 L882.6 222.3 L883.4 222.0 L884.2 222.0 L885.0 222.0 L885.8 222.4 L886.6 221.9 L887.4 222.2 L888.2 222.4 L889.0 221.9 L889.8 222.1 L890.6 222.4 L891.4 222.3 L892.2 222.1 L893.0 221.9 L893.8 222.1 L894.6 222.1 L895.4 222.3 L896.2 222.1 L897.0 222.1 L897.8 222.3 L898.6 222.4 L899.4 222.1 L900.2 222.1 L901.0 222.3 L901.8 222.5 L902.6 222.0 L903.4 222.6 L904.2 222.4 L905.0 222.2 L905.8 222.4 L906.6 222.1 L907.4 222.0 L908.2 222.5 L909.0 222.2 L909.8 222.3 L910.6 222.3 L911.4 222.6 L912.2 222.5 L913.0 222.0 L913.8 222.4 L914.6 222.3 L915.4 222.3 L916.2 222.6 L917.0 222.3 L917.8 222.3 L918.6 222.6 L919.4 222.3 L920.2 222.4 L921.0 222.4 L921.8 222.6 L922.6 222.5 L923.4 222.5 L924.2 222.3 L925.0 222.1 L925.8 222.5 L926.6 222.4 L927.4 222.6 L928.2 222.6 L929.0 222.2 L929.8 222.2 L930.6 222.1 L931.4 222.7 L932.2 222.2 L933.0 222.2 L933.8 222.6 L934.6 222.5 L935.4 222.2 L936.2 222.6 L937.0 222.6 L937.8 222.5 L938.6 222.2 L939.4 222.6 L940.2 222.4 L941.0 222.6 L941.8 222.9 L942.6 222.7 L943.4 222.8 L944.2 222.3 L945.0 222.4 L945.8 222.5 L946.6 222.2 L947.4 222.9 L948.2 222.4 L949.0 222.4 L949.8 222.4 L950.6 222.4 L951.4 222.8 L952.2 222.6 L953.0 222.6 L953.8 222.5 L954.6 222.3 L955.4 222.5 L956.2 222.9 L957.0 222.8 L957.8 222.9 L958.6 222.4 L959.4 222.4 L960.2 222.3 L961.0 222.7 L961.8 222.5 L962.6 222.6 L963.4 222.6 L964.2 222.7 L965.0 222.6 L965.8 222.9 L966.6 222.4 L967.4 223.0 L968.2 222.7 L969.0 222.4 L969.8 222.5 L970.6 222.7 L971.4 222.6 L972.2 222.7 L973.0 222.6 L973.8 222.5 L974.6 222.9 L975.4 222.6 L976.2 222.9 L977.0 222.9 L977.8 222.8 L978.6 222.7 L979.4 223.0 L980.2 222.7 L981.0 223.0 L981.8 222.4 L982.6 222.7 L983.4 222.8 L984.2 222.4 L985.0 223.0 L985.8 222.4 L986.6 222.8 L987.4 222.5 L988.2 223.1 L989.0 222.8 L989.8 223.0 L990.6 222.8 L991.4 222.9 L992.2 222.9 L993.0 222.6 L993.8 222.6 L994.6 223.0 L995.4 222.5 L996.2 223.1 L997.0 222.6 L997.8 222.5 L998.6 222.5 L999.4 223.0 L1000.2 223.1 L1001.0 222.7 L1001.8 222.9 L1002.6 222.6 L1003.4 223.1 L1004.2 222.9 L1005.0 222.6 L1005.8 222.5 L1006.6 222.9 L1007.4 222.5 L1008.2 223.0 L1009.0 222.7 L1009.8 222.6 L1010.6 222.9 L1011.4 222.7 L1012.2 222.8 L1013.0 222.6" fill="none" stroke="#009444" stroke-width="1.35" stroke-linejoin="round"/>
<path d="M146.6 216.6 L147.4 216.2 L148.2 216.5 L149.0 216.1 L149.8 216.5 L150.6 216.6 L151.4 216.2 L152.2 216.0 L153.0 216.2 L153.8 216.4 L154.6 216.1 L155.4 216.3 L156.2 216.0 L157.0 216.3 L157.8 216.5 L158.6 216.2 L159.4 216.4 L160.2 216.0 L161.0 216.5 L161.8 216.0 L162.6 216.6 L163.4 216.6 L164.2 216.6 L165.0 216.3 L165.8 216.1 L166.6 216.2 L167.4 216.5 L168.2 216.3 L169.0 216.6 L169.8 216.0 L170.6 216.3 L171.4 216.5 L172.2 216.4 L173.0 216.3 L173.8 216.0 L174.6 216.0 L175.4 216.1 L176.2 216.6 L177.0 216.5 L177.8 216.1 L178.6 216.6 L179.4 215.9 L180.2 216.3 L181.0 216.6 L181.8 216.2 L182.6 216.6 L183.4 216.4 L184.2 216.0 L185.0 216.1 L185.8 216.2 L186.6 216.1 L187.4 216.4 L188.2 216.0 L189.0 216.5 L189.8 216.1 L190.6 216.0 L191.4 216.3 L192.2 216.0 L193.0 216.3 L193.8 216.5 L194.6 216.3 L195.4 216.2 L196.2 215.9 L197.0 216.3 L197.8 216.0 L198.6 216.3 L199.4 216.0 L200.2 216.3 L201.0 216.1 L201.8 216.1 L202.6 216.3 L203.4 216.0 L204.2 216.0 L205.0 216.5 L205.8 216.1 L206.6 216.5 L207.4 216.5 L208.2 216.2 L209.0 216.0 L209.8 215.9 L210.6 216.5 L211.4 215.9 L212.2 216.2 L213.0 216.2 L213.8 215.9 L214.6 216.2 L215.4 216.0 L216.2 216.2 L217.0 216.2 L217.8 216.1 L218.6 216.0 L219.4 216.1 L220.2 216.0 L221.0 215.9 L221.8 216.0 L222.6 216.4 L223.4 216.2 L224.2 216.5 L225.0 215.8 L225.8 216.5 L226.6 216.2 L227.4 216.4 L228.2 216.2 L229.0 216.3 L229.8 215.9 L230.6 216.2 L231.4 215.8 L232.2 215.7 L233.0 215.5 L233.8 215.6 L234.6 215.4 L235.4 215.0 L236.2 215.2 L237.0 214.3 L237.8 214.3 L238.6 213.7 L239.4 213.7 L240.2 213.6 L241.0 213.4 L241.8 212.8 L242.6 213.0 L243.4 213.3 L244.2 213.6 L245.0 213.1 L245.8 213.6 L246.6 213.9 L247.4 214.1 L248.2 214.0 L249.0 214.5 L249.8 214.5 L250.6 215.0 L251.4 214.6 L252.2 215.4 L253.0 215.2 L253.8 215.4 L254.6 215.3 L255.4 215.5 L256.2 215.9 L257.0 215.9 L257.8 215.6 L258.6 215.8 L259.4 215.7 L260.2 215.8 L261.0 215.8 L261.8 215.9 L262.6 216.4 L263.4 216.4 L264.2 216.3 L265.0 216.1 L265.8 216.1 L266.6 216.3 L267.4 216.4 L268.2 216.3 L269.0 216.2 L269.8 215.9 L270.6 216.2 L271.4 216.3 L272.2 216.3 L273.0 215.8 L273.8 216.2 L274.6 216.0 L275.4 215.8 L276.2 216.4 L277.0 216.2 L277.8 216.2 L278.6 215.8 L279.4 216.3 L280.2 216.4 L281.0 216.3 L281.8 216.2 L282.6 216.3 L283.4 216.3 L284.2 216.1 L285.0 216.0 L285.8 216.3 L286.6 216.2 L287.4 216.3 L288.2 215.9 L289.0 216.4 L289.8 216.1 L290.6 216.3 L291.4 215.8 L292.2 216.4 L293.0 216.2 L293.8 215.9 L294.6 216.3 L295.4 215.8 L296.2 215.8 L297.0 216.0 L297.8 215.8 L298.6 216.0 L299.4 216.3 L300.2 216.2 L301.0 216.2 L301.8 215.9 L302.6 216.2 L303.4 216.2 L304.2 216.1 L305.0 216.3 L305.8 216.2 L306.6 215.9 L307.4 215.7 L308.2 216.1 L309.0 216.2 L309.8 215.9 L310.6 216.1 L311.4 216.2 L312.2 216.2 L313.0 215.7 L313.8 216.0 L314.6 215.7 L315.4 215.7 L316.2 216.2 L317.0 215.9 L317.8 216.1 L318.6 216.0 L319.4 215.9 L320.2 215.8 L321.0 215.9 L321.8 216.2 L322.6 216.1 L323.4 215.9 L324.2 215.7 L325.0 215.8 L325.8 216.1 L326.6 215.9 L327.4 216.1 L328.2 216.1 L329.0 215.5 L329.8 215.8 L330.6 215.1 L331.4 215.3 L332.2 214.4 L333.0 213.7 L333.8 213.3 L334.6 211.6 L335.4 209.9 L336.2 208.5 L337.0 206.2 L337.8 204.1 L338.6 201.4 L339.4 199.2 L340.2 197.5 L341.0 195.6 L341.8 195.0 L342.6 194.3 L343.4 195.5 L344.2 196.0 L345.0 197.3 L345.8 198.0 L346.6 199.4 L347.4 201.2 L348.2 202.1 L349.0 203.7 L349.8 204.6 L350.6 205.9 L351.4 206.9 L352.2 208.3 L353.0 209.5 L353.8 210.2 L354.6 210.9 L355.4 212.0 L356.2 212.6 L357.0 212.9 L357.8 213.0 L358.6 213.7 L359.4 213.9 L360.2 214.5 L361.0 214.2 L361.8 214.6 L362.6 214.7 L363.4 214.6 L364.2 214.8 L365.0 215.0 L365.8 215.2 L366.6 214.9 L367.4 214.9 L368.2 215.3 L369.0 214.7 L369.8 215.2 L370.6 215.1 L371.4 215.1 L372.2 215.0 L373.0 215.2 L373.8 215.3 L374.6 215.2 L375.4 215.2 L376.2 214.7 L377.0 214.9 L377.8 214.8 L378.6 215.3 L379.4 215.3 L380.2 214.8 L381.0 215.1 L381.8 215.0 L382.6 214.7 L383.4 214.9 L384.2 215.2 L385.0 215.1 L385.8 214.8 L386.6 215.2 L387.4 214.8 L388.2 215.0 L389.0 214.9 L389.8 215.3 L390.6 215.1 L391.4 215.2 L392.2 215.1 L393.0 214.9 L393.8 215.3 L394.6 215.1 L395.4 215.1 L396.2 214.8 L397.0 214.7 L397.8 215.0 L398.6 215.2 L399.4 215.2 L400.2 214.8 L401.0 214.7 L401.8 214.9 L402.6 215.2 L403.4 214.7 L404.2 215.1 L405.0 214.7 L405.8 214.7 L406.6 214.6 L407.4 214.7 L408.2 214.8 L409.0 215.2 L409.8 215.1 L410.6 214.6 L411.4 214.6 L412.2 215.1 L413.0 214.5 L413.8 214.6 L414.6 214.6 L415.4 214.3 L416.2 214.3 L417.0 214.3 L417.8 214.1 L418.6 214.2 L419.4 213.3 L420.2 212.6 L421.0 212.2 L421.8 210.8 L422.6 209.6 L423.4 207.6 L424.2 205.4 L425.0 202.5 L425.8 199.4 L426.6 196.7 L427.4 193.2 L428.2 190.1 L429.0 187.2 L429.8 184.7 L430.6 182.5 L431.4 181.5 L432.2 181.8 L433.0 182.5 L433.8 183.4 L434.6 185.1 L435.4 186.4 L436.2 188.5 L437.0 189.9 L437.8 192.4 L438.6 194.2 L439.4 196.0 L440.2 198.4 L441.0 199.8 L441.8 201.5 L442.6 202.9 L443.4 204.7 L444.2 206.2 L445.0 207.3 L445.8 208.1 L446.6 209.2 L447.4 209.4 L448.2 210.1 L449.0 210.9 L449.8 211.5 L450.6 211.6 L451.4 212.0 L452.2 212.2 L453.0 212.2 L453.8 212.7 L454.6 212.7 L455.4 212.5 L456.2 212.7 L457.0 213.0 L457.8 212.8 L458.6 212.8 L459.4 213.3 L460.2 213.1 L461.0 213.1 L461.8 213.3 L462.6 213.5 L463.4 213.0 L464.2 213.2 L465.0 213.0 L465.8 213.3 L466.6 213.4 L467.4 213.7 L468.2 213.6 L469.0 213.5 L469.8 213.4 L470.6 213.6 L471.4 213.4 L472.2 213.8 L473.0 213.8 L473.8 213.8 L474.6 213.3 L475.4 213.7 L476.2 213.7 L477.0 213.6 L477.8 213.8 L478.6 213.8 L479.4 213.7 L480.2 213.7 L481.0 213.6 L481.8 213.7 L482.6 213.1 L483.4 213.4 L484.2 213.2 L485.0 212.8 L485.8 212.2 L486.6 211.4 L487.4 210.8 L488.2 209.8 L489.0 207.7 L489.8 205.5 L490.6 202.7 L491.4 199.2 L492.2 195.7 L493.0 191.3 L493.8 186.3 L494.6 180.8 L495.4 175.9 L496.2 170.7 L497.0 167.1 L497.8 163.6 L498.6 161.3 L499.4 161.0 L500.2 161.9 L501.0 163.6 L501.8 165.4 L502.6 167.9 L503.4 170.5 L504.2 173.3 L505.0 175.6 L505.8 179.1 L506.6 181.5 L507.4 184.5 L508.2 187.7 L509.0 190.2 L509.8 192.7 L510.6 195.3 L511.4 197.2 L512.2 199.6 L513.0 200.9 L513.8 202.9 L514.6 204.2 L515.4 205.1 L516.2 205.8 L517.0 207.1 L517.8 207.3 L518.6 208.2 L519.4 208.6 L520.2 208.8 L521.0 209.5 L521.8 209.8 L522.6 210.0 L523.4 210.0 L524.2 210.3 L525.0 210.5 L525.8 210.4 L526.6 210.9 L527.4 211.1 L528.2 211.1 L529.0 211.3 L529.8 210.9 L530.6 211.4 L531.4 210.8 L532.2 211.2 L533.0 211.0 L533.8 211.3 L534.6 211.5 L535.4 211.5 L536.2 211.3 L537.0 211.3 L537.8 211.2 L538.6 211.3 L539.4 211.2 L540.2 211.0 L541.0 211.2 L541.8 210.9 L542.6 210.5 L543.4 209.8 L544.2 209.4 L545.0 208.0 L545.8 206.6 L546.6 204.9 L547.4 202.6 L548.2 199.8 L549.0 195.9 L549.8 191.7 L550.6 186.7 L551.4 181.0 L552.2 175.1 L553.0 168.6 L553.8 162.8 L554.6 157.1 L555.4 152.9 L556.2 149.0 L557.0 146.3 L557.8 144.9 L558.6 145.5 L559.4 146.5 L560.2 148.4 L561.0 150.7 L561.8 152.7 L562.6 155.3 L563.4 158.4 L564.2 161.8 L565.0 165.7 L565.8 169.1 L566.6 172.5 L567.4 175.7 L568.2 179.2 L569.0 182.5 L569.8 186.0 L570.6 188.7 L571.4 191.7 L572.2 194.1 L573.0 196.2 L573.8 198.0 L574.6 199.9 L575.4 200.9 L576.2 202.2 L577.0 203.6 L577.8 204.5 L578.6 205.1 L579.4 205.8 L580.2 206.2 L581.0 207.3 L581.8 207.5 L582.6 208.0 L583.4 208.3 L584.2 208.1 L585.0 208.5 L585.8 208.4 L586.6 208.8 L587.4 208.9 L588.2 208.5 L589.0 208.5 L589.8 208.6 L590.6 208.9 L591.4 208.7 L592.2 208.3 L593.0 208.7 L593.8 208.3 L594.6 207.5 L595.4 206.3 L596.2 205.8 L597.0 204.0 L597.8 201.6 L598.6 199.1 L599.4 196.1 L600.2 192.3 L601.0 187.3 L601.8 182.1 L602.6 176.0 L603.4 169.9 L604.2 164.1 L605.0 157.7 L605.8 151.9 L606.6 147.5 L607.4 143.5 L608.2 141.2 L609.0 140.6 L609.8 141.5 L610.6 142.8 L611.4 144.6 L612.2 146.6 L613.0 148.9 L613.8 152.3 L614.6 155.0 L615.4 158.7 L616.2 162.2 L617.0 166.0 L617.8 169.7 L618.6 172.9 L619.4 176.7 L620.2 180.0 L621.0 183.0 L621.8 185.6 L622.6 188.8 L623.4 191.0 L624.2 192.8 L625.0 194.9 L625.8 197.1 L626.6 198.1 L627.4 199.4 L628.2 200.8 L629.0 201.7 L629.8 202.4 L630.6 203.1 L631.4 203.1 L632.2 203.6 L633.0 204.5 L633.8 204.6 L634.6 204.3 L635.4 204.3 L636.2 204.4 L637.0 204.7 L637.8 203.8 L638.6 203.5 L639.4 202.8 L640.2 201.3 L641.0 199.8 L641.8 197.1 L642.6 194.3 L643.4 191.0 L644.2 187.7 L645.0 182.9 L645.8 178.8 L646.6 173.7 L647.4 168.4 L648.2 164.0 L649.0 159.3 L649.8 155.9 L650.6 153.0 L651.4 151.9 L652.2 151.7 L653.0 152.4 L653.8 152.8 L654.6 154.8 L655.4 156.4 L656.2 158.7 L657.0 160.8 L657.8 163.5 L658.6 166.2 L659.4 169.1 L660.2 171.5 L661.0 174.3 L661.8 177.4 L662.6 179.9 L663.4 182.6 L664.2 184.7 L665.0 187.5 L665.8 189.0 L666.6 191.4 L667.4 193.1 L668.2 194.3 L669.0 195.3 L669.8 196.8 L670.6 197.4 L671.4 198.4 L672.2 198.8 L673.0 200.0 L673.8 200.1 L674.6 200.3 L675.4 200.3 L676.2 200.7 L677.0 200.7 L677.8 200.4 L678.6 199.3 L679.4 198.7 L680.2 197.5 L681.0 196.3 L681.8 194.0 L682.6 192.1 L683.4 189.8 L684.2 186.7 L685.0 183.0 L685.8 179.7 L686.6 176.5 L687.4 173.8 L688.2 171.0 L689.0 168.7 L689.8 167.2 L690.6 166.4 L691.4 166.6 L692.2 167.3 L693.0 168.4 L693.8 169.5 L694.6 170.9 L695.4 172.6 L696.2 174.3 L697.0 176.1 L697.8 177.6 L698.6 180.1 L699.4 182.3 L700.2 184.0 L701.0 186.3 L701.8 187.8 L702.6 190.1 L703.4 191.5 L704.2 193.3 L705.0 194.4 L705.8 195.7 L706.6 196.8 L707.4 197.8 L708.2 198.4 L709.0 199.3 L709.8 200.2 L710.6 200.2 L711.4 200.5 L712.2 200.3 L713.0 200.0 L713.8 199.5 L714.6 198.5 L715.4 197.1 L716.2 195.8 L717.0 194.4 L717.8 192.4 L718.6 190.7 L719.4 189.3 L720.2 187.5 L721.0 185.4 L721.8 184.3 L722.6 183.2 L723.4 182.5 L724.2 182.1 L725.0 182.1 L725.8 182.2 L726.6 183.3 L727.4 183.6 L728.2 184.6 L729.0 185.4 L729.8 186.6 L730.6 188.0 L731.4 188.6 L732.2 190.1 L733.0 191.4 L733.8 192.5 L734.6 193.9 L735.4 194.7 L736.2 196.1 L737.0 196.9 L737.8 198.0 L738.6 198.2 L739.4 199.0 L740.2 199.6 L741.0 200.4 L741.8 200.1 L742.6 200.4 L743.4 200.6 L744.2 200.6 L745.0 199.7 L745.8 199.4 L746.6 198.9 L747.4 198.2 L748.2 197.4 L749.0 196.5 L749.8 195.3 L750.6 194.5 L751.4 193.6 L752.2 193.5 L753.0 192.8 L753.8 192.7 L754.6 193.4 L755.4 193.4 L756.2 193.6 L757.0 194.1 L757.8 194.5 L758.6 195.1 L759.4 195.3 L760.2 195.8 L761.0 196.4 L761.8 197.0 L762.6 197.9 L763.4 198.3 L764.2 198.9 L765.0 199.7 L765.8 200.6 L766.6 200.8 L767.4 200.9 L768.2 201.5 L769.0 201.3 L769.8 201.4 L770.6 201.6 L771.4 201.6 L772.2 201.7 L773.0 201.4 L773.8 201.4 L774.6 200.7 L775.4 201.1 L776.2 200.5 L777.0 200.7 L777.8 200.0 L778.6 200.6 L779.4 200.3 L780.2 200.9 L781.0 201.0 L781.8 201.1 L782.6 201.0 L783.4 201.1 L784.2 201.5 L785.0 202.2 L785.8 202.0 L786.6 202.6 L787.4 202.9 L788.2 203.2 L789.0 203.2 L789.8 203.4 L790.6 203.6 L791.4 204.5 L792.2 204.3 L793.0 204.7 L793.8 204.9 L794.6 204.8 L795.4 204.8 L796.2 204.9 L797.0 205.6 L797.8 205.2 L798.6 205.9 L799.4 205.6 L800.2 205.9 L801.0 205.5 L801.8 206.0 L802.6 205.7 L803.4 205.8 L804.2 206.0 L805.0 205.7 L805.8 205.9 L806.6 206.3 L807.4 206.0 L808.2 206.2 L809.0 206.5 L809.8 206.2 L810.6 206.3 L811.4 206.4 L812.2 206.5 L813.0 206.6 L813.8 206.9 L814.6 206.9 L815.4 207.2 L816.2 206.7 L817.0 207.3 L817.8 207.5 L818.6 207.1 L819.4 207.1 L820.2 207.5 L821.0 207.3 L821.8 207.7 L822.6 207.9 L823.4 207.6 L824.2 207.7 L825.0 208.0 L825.8 207.9 L826.6 208.0 L827.4 208.2 L828.2 208.1 L829.0 208.1 L829.8 208.4 L830.6 208.6 L831.4 208.9 L832.2 208.7 L833.0 208.4 L833.8 208.6 L834.6 209.0 L835.4 208.9 L836.2 209.2 L837.0 209.3 L837.8 209.2 L838.6 208.7 L839.4 209.3 L840.2 209.0 L841.0 208.8 L841.8 208.8 L842.6 209.3 L843.4 208.8 L844.2 208.7 L845.0 208.9 L845.8 209.4 L846.6 209.1 L847.4 209.3 L848.2 208.9 L849.0 209.1 L849.8 209.1 L850.6 209.0 L851.4 209.4 L852.2 209.2 L853.0 209.1 L853.8 209.7 L854.6 209.4 L855.4 209.3 L856.2 209.2 L857.0 209.7 L857.8 209.6 L858.6 209.4 L859.4 209.7 L860.2 210.0 L861.0 209.9 L861.8 209.7 L862.6 210.0 L863.4 210.1 L864.2 210.2 L865.0 209.9 L865.8 210.4 L866.6 210.6 L867.4 210.5 L868.2 210.6 L869.0 210.3 L869.8 210.8 L870.6 210.3 L871.4 210.4 L872.2 210.7 L873.0 211.0 L873.8 210.5 L874.6 210.6 L875.4 210.6 L876.2 210.9 L877.0 210.8 L877.8 210.9 L878.6 211.3 L879.4 211.2 L880.2 211.5 L881.0 211.2 L881.8 211.5 L882.6 211.0 L883.4 211.8 L884.2 211.3 L885.0 211.5 L885.8 211.6 L886.6 211.9 L887.4 211.7 L888.2 212.0 L889.0 211.8 L889.8 211.6 L890.6 212.0 L891.4 211.6 L892.2 212.2 L893.0 211.9 L893.8 211.7 L894.6 212.3 L895.4 211.8 L896.2 211.9 L897.0 211.9 L897.8 212.1 L898.6 211.7 L899.4 211.9 L900.2 211.8 L901.0 212.2 L901.8 211.7 L902.6 212.1 L903.4 211.8 L904.2 212.0 L905.0 212.0 L905.8 212.2 L906.6 211.8 L907.4 211.8 L908.2 211.7 L909.0 212.3 L909.8 211.8 L910.6 211.8 L911.4 212.0 L912.2 212.1 L913.0 212.3 L913.8 211.7 L914.6 211.9 L915.4 211.8 L916.2 212.1 L917.0 212.0 L917.8 212.0 L918.6 212.3 L919.4 212.2 L920.2 212.3 L921.0 212.4 L921.8 211.9 L922.6 212.4 L923.4 212.0 L924.2 211.8 L925.0 212.4 L925.8 211.8 L926.6 211.8 L927.4 212.0 L928.2 212.0 L929.0 212.5 L929.8 212.4 L930.6 212.1 L931.4 212.2 L932.2 212.4 L933.0 212.4 L933.8 212.3 L934.6 212.2 L935.4 211.9 L936.2 212.0 L937.0 212.3 L937.8 212.3 L938.6 212.4 L939.4 212.5 L940.2 212.6 L941.0 212.0 L941.8 212.0 L942.6 212.5 L943.4 212.3 L944.2 212.0 L945.0 212.4 L945.8 212.1 L946.6 212.1 L947.4 212.2 L948.2 212.3 L949.0 212.4 L949.8 212.0 L950.6 212.5 L951.4 212.4 L952.2 212.3 L953.0 212.5 L953.8 212.6 L954.6 212.0 L955.4 212.4 L956.2 212.5 L957.0 212.6 L957.8 212.5 L958.6 212.2 L959.4 212.8 L960.2 212.6 L961.0 212.3 L961.8 212.4 L962.6 212.8 L963.4 212.3 L964.2 212.4 L965.0 212.8 L965.8 212.8 L966.6 212.3 L967.4 212.7 L968.2 212.4 L969.0 212.6 L969.8 212.7 L970.6 212.3 L971.4 212.4 L972.2 212.4 L973.0 212.4 L973.8 212.3 L974.6 212.3 L975.4 212.5 L976.2 212.5 L977.0 212.3 L977.8 212.7 L978.6 212.9 L979.4 212.7 L980.2 212.5 L981.0 212.8 L981.8 212.6 L982.6 212.4 L983.4 212.7 L984.2 212.3 L985.0 212.8 L985.8 212.4 L986.6 212.6 L987.4 213.0 L988.2 212.9 L989.0 212.9 L989.8 212.8 L990.6 212.8 L991.4 212.9 L992.2 213.1 L993.0 212.5 L993.8 212.9 L994.6 212.6 L995.4 212.6 L996.2 213.0 L997.0 212.8 L997.8 213.0 L998.6 213.0 L999.4 212.8 L1000.2 212.6 L1001.0 212.4 L1001.8 212.8 L1002.6 212.9 L1003.4 212.6 L1004.2 212.5 L1005.0 212.4 L1005.8 212.6 L1006.6 212.9 L1007.4 212.4 L1008.2 212.6 L1009.0 212.6 L1009.8 212.9 L1010.6 213.1 L1011.4 212.5 L1012.2 212.5 L1013.0 213.1" fill="none" stroke="#f7941d" stroke-width="1.35" stroke-linejoin="round"/>
<path d="M146.6 199.8 L147.4 199.3 L148.2 199.4 L149.0 199.5 L149.8 199.4 L150.6 199.4 L151.4 199.5 L152.2 199.3 L153.0 199.2 L153.8 199.2 L154.6 199.3 L155.4 199.2 L156.2 199.6 L157.0 199.6 L157.8 199.3 L158.6 199.7 L159.4 199.7 L160.2 199.4 L161.0 199.5 L161.8 199.3 L162.6 199.8 L163.4 199.5 L164.2 199.2 L165.0 199.3 L165.8 199.6 L166.6 199.4 L167.4 199.7 L168.2 199.3 L169.0 199.7 L169.8 199.7 L170.6 199.2 L171.4 199.6 L172.2 199.3 L173.0 199.6 L173.8 199.7 L174.6 199.7 L175.4 199.3 L176.2 199.2 L177.0 199.6 L177.8 199.5 L178.6 199.2 L179.4 199.3 L180.2 199.6 L181.0 199.2 L181.8 199.6 L182.6 199.3 L183.4 199.3 L184.2 199.4 L185.0 199.5 L185.8 199.7 L186.6 199.2 L187.4 199.7 L188.2 199.3 L189.0 199.4 L189.8 199.6 L190.6 199.6 L191.4 199.6 L192.2 199.8 L193.0 199.3 L193.8 199.4 L194.6 199.6 L195.4 199.3 L196.2 199.3 L197.0 199.3 L197.8 199.7 L198.6 199.7 L199.4 199.7 L200.2 199.8 L201.0 199.7 L201.8 199.4 L202.6 199.4 L203.4 199.7 L204.2 199.2 L205.0 199.6 L205.8 199.2 L206.6 199.2 L207.4 199.5 L208.2 199.3 L209.0 199.8 L209.8 199.8 L210.6 199.5 L211.4 199.3 L212.2 199.2 L213.0 199.5 L213.8 199.5 L214.6 199.4 L215.4 199.7 L216.2 199.5 L217.0 199.7 L217.8 199.2 L218.6 199.2 L219.4 199.4 L220.2 199.5 L221.0 199.3 L221.8 199.6 L222.6 199.3 L223.4 199.4 L224.2 199.5 L225.0 199.6 L225.8 199.7 L226.6 199.4 L227.4 199.5 L228.2 199.8 L229.0 199.8 L229.8 199.6 L230.6 199.2 L231.4 199.5 L232.2 199.6 L233.0 199.3 L233.8 199.2 L234.6 199.8 L235.4 199.8 L236.2 199.2 L237.0 199.5 L237.8 199.6 L238.6 199.4 L239.4 199.2 L240.2 199.7 L241.0 199.7 L241.8 199.5 L242.6 199.2 L243.4 199.4 L244.2 199.2 L245.0 199.8 L245.8 199.2 L246.6 199.4 L247.4 199.7 L248.2 199.2 L249.0 199.2 L249.8 199.2 L250.6 199.3 L251.4 199.5 L252.2 199.7 L253.0 199.3 L253.8 199.3 L254.6 199.7 L255.4 199.4 L256.2 199.4 L257.0 199.2 L257.8 199.3 L258.6 199.8 L259.4 199.2 L260.2 199.3 L261.0 199.7 L261.8 199.8 L262.6 199.8 L263.4 199.5 L264.2 199.8 L265.0 199.6 L265.8 199.4 L266.6 199.5 L267.4 199.7 L268.2 199.7 L269.0 199.2 L269.8 199.3 L270.6 199.8 L271.4 199.2 L272.2 199.7 L273.0 199.4 L273.8 199.3 L274.6 199.3 L275.4 199.5 L276.2 199.8 L277.0 199.3 L277.8 199.7 L278.6 199.4 L279.4 199.3 L280.2 199.7 L281.0 199.4 L281.8 199.3 L282.6 199.4 L283.4 199.7 L284.2 199.8 L285.0 199.6 L285.8 199.2 L286.6 199.7 L287.4 199.6 L288.2 199.8 L289.0 199.8 L289.8 199.4 L290.6 199.7 L291.4 199.7 L292.2 199.3 L293.0 199.4 L293.8 199.4 L294.6 199.4 L295.4 199.4 L296.2 199.2 L297.0 199.3 L297.8 199.8 L298.6 199.4 L299.4 199.6 L300.2 199.8 L301.0 199.7 L301.8 199.3 L302.6 199.8 L303.4 199.7 L304.2 199.8 L305.0 199.7 L305.8 199.7 L306.6 199.7 L307.4 199.3 L308.2 199.6 L309.0 199.4 L309.8 199.7 L310.6 199.2 L311.4 199.5 L312.2 199.4 L313.0 199.7 L313.8 199.4 L314.6 199.7 L315.4 199.7 L316.2 199.8 L317.0 199.2 L317.8 199.8 L318.6 199.7 L319.4 199.6 L320.2 199.6 L321.0 199.2 L321.8 199.8 L322.6 199.5 L323.4 199.5 L324.2 199.4 L325.0 199.7 L325.8 199.7 L326.6 199.7 L327.4 199.3 L328.2 199.3 L329.0 199.2 L329.8 199.1 L330.6 199.1 L331.4 198.7 L332.2 199.0 L333.0 198.3 L333.8 197.7 L334.6 197.1 L335.4 196.8 L336.2 195.5 L337.0 194.6 L337.8 193.4 L338.6 192.6 L339.4 191.6 L340.2 190.1 L341.0 189.6 L341.8 189.3 L342.6 188.9 L343.4 189.5 L344.2 189.8 L345.0 190.0 L345.8 190.9 L346.6 191.3 L347.4 191.6 L348.2 192.6 L349.0 193.4 L349.8 193.8 L350.6 194.4 L351.4 194.9 L352.2 195.8 L353.0 196.1 L353.8 196.3 L354.6 196.8 L355.4 197.1 L356.2 197.8 L357.0 197.9 L357.8 197.7 L358.6 198.4 L359.4 197.9 L360.2 198.4 L361.0 198.4 L361.8 198.7 L362.6 198.5 L363.4 198.3 L364.2 198.7 L365.0 198.9 L365.8 198.9 L366.6 198.6 L367.4 198.5 L368.2 198.8 L369.0 198.9 L369.8 198.5 L370.6 198.9 L371.4 199.0 L372.2 198.6 L373.0 198.5 L373.8 198.8 L374.6 198.9 L375.4 198.4 L376.2 198.4 L377.0 198.5 L377.8 198.7 L378.6 198.3 L379.4 198.6 L380.2 198.5 L381.0 198.7 L381.8 198.3 L382.6 198.8 L383.4 198.9 L384.2 198.6 L385.0 198.7 L385.8 198.3 L386.6 198.8 L387.4 198.5 L388.2 198.7 L389.0 198.7 L389.8 198.4 L390.6 198.8 L391.4 198.3 L392.2 198.2 L393.0 198.5 L393.8 198.8 L394.6 198.8 L395.4 198.8 L396.2 198.5 L397.0 198.8 L397.8 198.5 L398.6 198.2 L399.4 198.6 L400.2 198.7 L401.0 198.4 L401.8 198.5 L402.6 198.3 L403.4 198.3 L404.2 198.4 L405.0 198.4 L405.8 198.4 L406.6 198.1 L407.4 198.1 L408.2 198.3 L409.0 198.5 L409.8 198.5 L410.6 198.2 L411.4 198.2 L412.2 198.4 L413.0 198.1 L413.8 198.4 L414.6 198.6 L415.4 198.0 L416.2 198.3 L417.0 198.3 L417.8 198.2 L418.6 198.0 L419.4 197.8 L420.2 197.2 L421.0 197.2 L421.8 196.7 L422.6 195.4 L423.4 195.1 L424.2 193.6 L425.0 192.1 L425.8 190.7 L426.6 189.6 L427.4 188.0 L428.2 186.0 L429.0 184.8 L429.8 183.7 L430.6 183.1 L431.4 182.1 L432.2 182.3 L433.0 182.4 L433.8 182.9 L434.6 183.6 L435.4 184.5 L436.2 185.5 L437.0 186.2 L437.8 187.0 L438.6 188.1 L439.4 188.9 L440.2 189.9 L441.0 190.9 L441.8 191.9 L442.6 192.4 L443.4 193.3 L444.2 193.9 L445.0 194.8 L445.8 195.0 L446.6 195.7 L447.4 195.7 L448.2 195.8 L449.0 196.3 L449.8 196.2 L450.6 196.4 L451.4 196.5 L452.2 197.0 L453.0 197.3 L453.8 197.0 L454.6 197.0 L455.4 197.1 L456.2 197.1 L457.0 197.4 L457.8 197.2 L458.6 197.1 L459.4 197.6 L460.2 197.4 L461.0 197.0 L461.8 197.6 L462.6 197.6 L463.4 197.3 L464.2 197.5 L465.0 197.8 L465.8 197.4 L466.6 197.5 L467.4 197.4 L468.2 197.6 L469.0 197.6 L469.8 197.7 L470.6 197.9 L471.4 197.3 L472.2 197.5 L473.0 197.8 L473.8 197.8 L474.6 197.7 L475.4 197.7 L476.2 197.5 L477.0 197.9 L477.8 197.6 L478.6 197.5 L479.4 197.4 L480.2 197.3 L481.0 197.9 L481.8 197.8 L482.6 197.2 L483.4 197.4 L484.2 197.5 L485.0 197.5 L485.8 197.3 L486.6 197.6 L487.4 197.0 L488.2 196.9 L489.0 196.8 L489.8 196.1 L490.6 195.2 L491.4 194.1 L492.2 192.8 L493.0 191.2 L493.8 189.3 L494.6 186.4 L495.4 183.6 L496.2 180.4 L497.0 177.1 L497.8 174.1 L498.6 170.7 L499.4 167.7 L500.2 165.4 L501.0 164.2 L501.8 163.1 L502.6 164.0 L503.4 164.4 L504.2 165.7 L505.0 167.0 L505.8 169.1 L506.6 170.4 L507.4 172.3 L508.2 174.1 L509.0 176.2 L509.8 178.5 L510.6 180.5 L511.4 182.4 L512.2 184.2 L513.0 185.6 L513.8 187.4 L514.6 188.1 L515.4 189.9 L516.2 190.7 L517.0 191.4 L517.8 192.6 L518.6 193.4 L519.4 193.6 L520.2 193.9 L521.0 194.8 L521.8 195.1 L522.6 195.3 L523.4 195.8 L524.2 195.3 L525.0 195.4 L525.8 195.6 L526.6 195.7 L527.4 196.2 L528.2 196.3 L529.0 196.0 L529.8 196.1 L530.6 196.1 L531.4 196.5 L532.2 196.6 L533.0 196.8 L533.8 196.4 L534.6 196.8 L535.4 196.5 L536.2 196.5 L537.0 196.4 L537.8 196.3 L538.6 196.8 L539.4 196.8 L540.2 196.6 L541.0 196.2 L541.8 196.1 L542.6 196.0 L543.4 196.0 L544.2 196.0 L545.0 195.2 L545.8 195.0 L546.6 194.4 L547.4 193.0 L548.2 192.1 L549.0 190.7 L549.8 188.5 L550.6 185.9 L551.4 183.2 L552.2 179.5 L553.0 175.3 L553.8 171.1 L554.6 167.0 L555.4 162.4 L556.2 158.1 L557.0 154.0 L557.8 150.4 L558.6 148.0 L559.4 146.7 L560.2 146.7 L561.0 146.8 L561.8 148.4 L562.6 149.7 L563.4 151.2 L564.2 152.7 L565.0 155.4 L565.8 157.5 L566.6 160.2 L567.4 162.7 L568.2 165.4 L569.0 167.8 L569.8 170.7 L570.6 173.2 L571.4 175.5 L572.2 177.5 L573.0 179.3 L573.8 181.2 L574.6 182.9 L575.4 184.8 L576.2 186.1 L577.0 187.3 L577.8 188.3 L578.6 189.3 L579.4 189.8 L580.2 190.2 L581.0 191.0 L581.8 191.1 L582.6 191.7 L583.4 191.7 L584.2 192.4 L585.0 192.4 L585.8 192.4 L586.6 193.0 L587.4 192.5 L588.2 193.2 L589.0 193.1 L589.8 192.8 L590.6 193.2 L591.4 193.1 L592.2 193.3 L593.0 193.0 L593.8 192.7 L594.6 192.7 L595.4 191.7 L596.2 191.5 L597.0 190.1 L597.8 189.0 L598.6 187.3 L599.4 185.7 L600.2 182.7 L601.0 179.7 L601.8 175.6 L602.6 171.6 L603.4 166.7 L604.2 161.2 L605.0 156.2 L605.8 151.1 L606.6 146.0 L607.4 142.0 L608.2 138.4 L609.0 136.2 L609.8 135.5 L610.6 135.9 L611.4 136.9 L612.2 137.8 L613.0 139.6 L613.8 141.8 L614.6 144.1 L615.4 146.5 L616.2 149.6 L617.0 152.2 L617.8 155.5 L618.6 158.2 L619.4 160.9 L620.2 164.3 L621.0 166.6 L621.8 169.6 L622.6 171.6 L623.4 174.6 L624.2 176.3 L625.0 178.3 L625.8 179.5 L626.6 181.3 L627.4 182.4 L628.2 183.4 L629.0 184.7 L629.8 184.9 L630.6 185.9 L631.4 186.2 L632.2 187.2 L633.0 187.6 L633.8 187.3 L634.6 187.8 L635.4 188.0 L636.2 188.2 L637.0 188.2 L637.8 187.9 L638.6 188.0 L639.4 187.1 L640.2 186.4 L641.0 185.9 L641.8 184.2 L642.6 182.5 L643.4 180.6 L644.2 177.8 L645.0 174.4 L645.8 171.2 L646.6 166.7 L647.4 162.3 L648.2 157.0 L649.0 152.6 L649.8 147.5 L650.6 143.7 L651.4 140.0 L652.2 137.6 L653.0 136.0 L653.8 135.6 L654.6 136.2 L655.4 137.5 L656.2 138.6 L657.0 140.1 L657.8 142.8 L658.6 145.0 L659.4 147.4 L660.2 150.2 L661.0 152.6 L661.8 155.5 L662.6 158.6 L663.4 161.5 L664.2 164.1 L665.0 166.1 L665.8 168.8 L666.6 170.9 L667.4 172.9 L668.2 174.5 L669.0 176.2 L669.8 177.8 L670.6 179.1 L671.4 180.1 L672.2 181.1 L673.0 182.0 L673.8 182.8 L674.6 183.2 L675.4 183.3 L676.2 184.0 L677.0 183.7 L677.8 184.0 L678.6 183.6 L679.4 182.4 L680.2 181.8 L681.0 180.8 L681.8 178.7 L682.6 176.6 L683.4 173.8 L684.2 170.6 L685.0 167.2 L685.8 163.4 L686.6 159.5 L687.4 155.8 L688.2 151.9 L689.0 148.7 L689.8 145.6 L690.6 143.3 L691.4 142.4 L692.2 142.0 L693.0 142.6 L693.8 143.7 L694.6 144.8 L695.4 146.1 L696.2 148.0 L697.0 149.7 L697.8 152.3 L698.6 154.1 L699.4 156.9 L700.2 158.6 L701.0 161.0 L701.8 163.7 L702.6 165.6 L703.4 168.0 L704.2 169.7 L705.0 172.1 L705.8 173.6 L706.6 175.2 L707.4 176.7 L708.2 177.9 L709.0 178.6 L709.8 179.5 L710.6 179.5 L711.4 179.9 L712.2 180.4 L713.0 180.6 L713.8 179.8 L714.6 179.3 L715.4 178.0 L716.2 177.0 L717.0 175.7 L717.8 173.6 L718.6 171.6 L719.4 168.7 L720.2 166.4 L721.0 164.0 L721.8 162.1 L722.6 159.5 L723.4 158.4 L724.2 156.6 L725.0 156.3 L725.8 156.0 L726.6 156.2 L727.4 157.2 L728.2 157.5 L729.0 158.7 L729.8 159.3 L730.6 161.1 L731.4 162.6 L732.2 163.4 L733.0 165.4 L733.8 166.6 L734.6 168.0 L735.4 169.7 L736.2 171.4 L737.0 173.0 L737.8 174.3 L738.6 175.5 L739.4 176.3 L740.2 177.3 L741.0 177.7 L741.8 178.7 L742.6 179.0 L743.4 179.1 L744.2 179.5 L745.0 178.9 L745.8 178.3 L746.6 177.7 L747.4 176.8 L748.2 176.0 L749.0 175.0 L749.8 173.2 L750.6 172.1 L751.4 170.8 L752.2 169.6 L753.0 168.5 L753.8 167.8 L754.6 166.9 L755.4 166.8 L756.2 167.3 L757.0 167.5 L757.8 168.3 L758.6 168.5 L759.4 169.6 L760.2 169.9 L761.0 170.6 L761.8 171.7 L762.6 172.6 L763.4 173.5 L764.2 174.7 L765.0 175.2 L765.8 176.3 L766.6 177.2 L767.4 177.6 L768.2 178.2 L769.0 179.0 L769.8 179.1 L770.6 178.9 L771.4 178.9 L772.2 178.7 L773.0 178.6 L773.8 178.0 L774.6 177.8 L775.4 177.0 L776.2 176.2 L777.0 175.7 L777.8 175.3 L778.6 174.3 L779.4 173.8 L780.2 173.6 L781.0 173.5 L781.8 174.0 L782.6 174.0 L783.4 174.1 L784.2 174.2 L785.0 174.4 L785.8 174.9 L786.6 175.8 L787.4 176.1 L788.2 176.2 L789.0 177.0 L789.8 177.0 L790.6 177.7 L791.4 178.0 L792.2 178.1 L793.0 178.8 L793.8 179.0 L794.6 179.0 L795.4 178.8 L796.2 179.2 L797.0 178.9 L797.8 179.0 L798.6 178.5 L799.4 178.9 L800.2 178.2 L801.0 178.3 L801.8 178.4 L802.6 178.3 L803.4 178.4 L804.2 179.0 L805.0 179.4 L805.8 179.1 L806.6 179.3 L807.4 179.9 L808.2 179.8 L809.0 180.3 L809.8 180.8 L810.6 180.9 L811.4 181.0 L812.2 181.3 L813.0 181.9 L813.8 182.5 L814.6 182.7 L815.4 182.4 L816.2 183.0 L817.0 183.2 L817.8 183.2 L818.6 183.7 L819.4 183.7 L820.2 184.1 L821.0 183.8 L821.8 184.4 L822.6 184.4 L823.4 184.2 L824.2 184.1 L825.0 184.4 L825.8 184.3 L826.6 184.9 L827.4 185.0 L828.2 185.1 L829.0 185.6 L829.8 185.1 L830.6 185.8 L831.4 186.1 L832.2 185.8 L833.0 186.2 L833.8 186.2 L834.6 186.9 L835.4 187.2 L836.2 187.2 L837.0 187.6 L837.8 187.7 L838.6 188.1 L839.4 188.0 L840.2 188.8 L841.0 188.6 L841.8 188.5 L842.6 188.7 L843.4 189.4 L844.2 189.6 L845.0 189.6 L845.8 189.4 L846.6 190.0 L847.4 190.0 L848.2 189.7 L849.0 189.9 L849.8 190.1 L850.6 189.6 L851.4 189.7 L852.2 189.9 L853.0 190.3 L853.8 190.4 L854.6 190.0 L855.4 190.4 L856.2 190.4 L857.0 190.5 L857.8 190.4 L858.6 190.7 L859.4 190.6 L860.2 190.9 L861.0 190.7 L861.8 190.5 L862.6 190.8 L863.4 190.9 L864.2 190.9 L865.0 191.0 L865.8 191.2 L866.6 191.4 L867.4 191.3 L868.2 191.4 L869.0 191.7 L869.8 191.8 L870.6 191.9 L871.4 192.2 L872.2 191.9 L873.0 192.3 L873.8 192.3 L874.6 192.7 L875.4 192.8 L876.2 193.0 L877.0 192.9 L877.8 192.9 L878.6 193.5 L879.4 193.3 L880.2 193.3 L881.0 193.4 L881.8 193.6 L882.6 193.9 L883.4 194.1 L884.2 194.0 L885.0 194.2 L885.8 194.0 L886.6 194.2 L887.4 194.3 L888.2 194.3 L889.0 194.5 L889.8 194.8 L890.6 194.9 L891.4 194.6 L892.2 194.7 L893.0 195.1 L893.8 195.1 L894.6 195.2 L895.4 195.2 L896.2 195.2 L897.0 195.0 L897.8 194.9 L898.6 195.1 L899.4 194.9 L900.2 195.5 L901.0 195.2 L901.8 195.3 L902.6 195.5 L903.4 195.4 L904.2 195.0 L905.0 195.1 L905.8 195.0 L906.6 195.4 L907.4 195.4 L908.2 195.2 L909.0 195.2 L909.8 195.1 L910.6 195.3 L911.4 195.5 L912.2 195.6 L913.0 195.6 L913.8 195.6 L914.6 195.3 L915.4 195.3 L916.2 195.3 L917.0 195.7 L917.8 195.2 L918.6 195.2 L919.4 195.3 L920.2 195.8 L921.0 195.8 L921.8 195.4 L922.6 195.8 L923.4 195.8 L924.2 195.5 L925.0 195.4 L925.8 195.8 L926.6 195.6 L927.4 195.4 L928.2 196.0 L929.0 195.7 L929.8 195.6 L930.6 195.8 L931.4 195.6 L932.2 195.4 L933.0 195.7 L933.8 195.7 L934.6 195.5 L935.4 195.7 L936.2 196.0 L937.0 195.7 L937.8 196.0 L938.6 196.0 L939.4 195.7 L940.2 195.6 L941.0 196.1 L941.8 196.0 L942.6 195.8 L943.4 195.8 L944.2 196.2 L945.0 196.3 L945.8 195.8 L946.6 196.0 L947.4 196.0 L948.2 195.9 L949.0 195.7 L949.8 195.9 L950.6 196.1 L951.4 196.1 L952.2 196.0 L953.0 195.7 L953.8 195.8 L954.6 195.9 L955.4 195.9 L956.2 195.9 L957.0 196.3 L957.8 195.7 L958.6 196.3 L959.4 195.8 L960.2 196.2 L961.0 195.8 L961.8 196.1 L962.6 195.9 L963.4 195.7 L964.2 196.2 L965.0 196.2 L965.8 195.8 L966.6 196.2 L967.4 196.0 L968.2 196.3 L969.0 195.7 L969.8 195.9 L970.6 195.8 L971.4 196.1 L972.2 196.2 L973.0 196.2 L973.8 196.0 L974.6 195.9 L975.4 196.2 L976.2 195.7 L977.0 195.8 L977.8 196.2 L978.6 196.0 L979.4 196.3 L980.2 195.7 L981.0 196.0 L981.8 195.8 L982.6 195.7 L983.4 195.7 L984.2 195.7 L985.0 195.9 L985.8 196.0 L986.6 196.0 L987.4 195.9 L988.2 196.1 L989.0 196.0 L989.8 196.3 L990.6 195.8 L991.4 196.0 L992.2 196.0 L993.0 195.9 L993.8 196.3 L994.6 195.8 L995.4 196.3 L996.2 195.9 L997.0 195.9 L997.8 196.1 L998.6 196.0 L999.4 195.8 L1000.2 195.7 L1001.0 196.3 L1001.8 195.9 L1002.6 195.7 L1003.4 196.1 L1004.2 196.0 L1005.0 195.9 L1005.8 195.9 L1006.6 196.2 L1007.4 195.9 L1008.2 195.9 L1009.0 196.3 L1009.8 195.9 L1010.6 195.9 L1011.4 195.8 L1012.2 196.1 L1013.0 196.1" fill="none" stroke="#ef4136" stroke-width="1.35" stroke-linejoin="round"/>
<path d="M146.6 188.0 L147.4 187.9 L148.2 187.8 L149.0 188.2 L149.8 188.0 L150.6 188.2 L151.4 187.9 L152.2 188.2 L153.0 187.7 L153.8 187.8 L154.6 188.3 L155.4 188.1 L156.2 188.1 L157.0 188.0 L157.8 188.0 L158.6 187.8 L159.4 187.8 L160.2 188.1 L161.0 188.1 L161.8 187.8 L162.6 188.1 L163.4 187.7 L164.2 188.1 L165.0 187.8 L165.8 188.0 L166.6 187.9 L167.4 188.0 L168.2 187.7 L169.0 188.0 L169.8 188.1 L170.6 187.7 L171.4 187.9 L172.2 188.1 L173.0 188.0 L173.8 188.1 L174.6 188.2 L175.4 188.1 L176.2 187.8 L177.0 188.0 L177.8 188.2 L178.6 188.0 L179.4 188.2 L180.2 187.9 L181.0 188.0 L181.8 188.3 L182.6 188.2 L183.4 188.1 L184.2 187.7 L185.0 188.1 L185.8 187.7 L186.6 188.3 L187.4 188.3 L188.2 188.2 L189.0 187.8 L189.8 188.2 L190.6 187.8 L191.4 188.2 L192.2 188.0 L193.0 187.7 L193.8 188.3 L194.6 188.0 L195.4 188.2 L196.2 188.1 L197.0 188.0 L197.8 188.3 L198.6 187.8 L199.4 188.3 L200.2 187.9 L201.0 187.7 L201.8 187.9 L202.6 187.7 L203.4 187.7 L204.2 188.1 L205.0 187.7 L205.8 187.8 L206.6 187.9 L207.4 187.8 L208.2 188.3 L209.0 188.3 L209.8 188.3 L210.6 188.3 L211.4 188.0 L212.2 188.2 L213.0 187.8 L213.8 188.3 L214.6 188.2 L215.4 188.2 L216.2 187.8 L217.0 187.7 L217.8 188.3 L218.6 188.0 L219.4 188.1 L220.2 188.3 L221.0 187.8 L221.8 188.1 L222.6 188.0 L223.4 188.2 L224.2 188.0 L225.0 187.8 L225.8 188.3 L226.6 187.8 L227.4 188.2 L228.2 188.2 L229.0 187.8 L229.8 188.1 L230.6 187.9 L231.4 187.8 L232.2 187.8 L233.0 188.3 L233.8 187.9 L234.6 188.0 L235.4 188.0 L236.2 187.7 L237.0 188.2 L237.8 188.2 L238.6 188.3 L239.4 187.9 L240.2 187.8 L241.0 187.9 L241.8 188.2 L242.6 188.1 L243.4 187.9 L244.2 188.0 L245.0 187.8 L245.8 188.3 L246.6 188.0 L247.4 188.0 L248.2 188.2 L249.0 187.8 L249.8 188.2 L250.6 187.9 L251.4 188.2 L252.2 187.7 L253.0 187.8 L253.8 188.1 L254.6 188.0 L255.4 187.9 L256.2 188.1 L257.0 187.8 L257.8 188.0 L258.6 187.7 L259.4 188.2 L260.2 187.8 L261.0 188.2 L261.8 188.0 L262.6 188.1 L263.4 188.1 L264.2 187.7 L265.0 188.2 L265.8 187.9 L266.6 188.3 L267.4 188.2 L268.2 188.1 L269.0 188.2 L269.8 188.0 L270.6 188.1 L271.4 188.3 L272.2 187.8 L273.0 187.7 L273.8 187.9 L274.6 188.0 L275.4 187.8 L276.2 187.8 L277.0 188.3 L277.8 187.9 L278.6 187.8 L279.4 187.8 L280.2 188.1 L281.0 187.8 L281.8 188.0 L282.6 188.0 L283.4 188.0 L284.2 188.0 L285.0 188.2 L285.8 187.7 L286.6 188.3 L287.4 187.8 L288.2 187.7 L289.0 188.2 L289.8 188.0 L290.6 188.0 L291.4 187.8 L292.2 188.2 L293.0 187.9 L293.8 188.2 L294.6 187.8 L295.4 188.1 L296.2 188.1 L297.0 187.9 L297.8 188.0 L298.6 187.7 L299.4 188.1 L300.2 188.1 L301.0 187.8 L301.8 188.0 L302.6 188.2 L303.4 187.7 L304.2 188.2 L305.0 188.3 L305.8 187.7 L306.6 187.8 L307.4 187.7 L308.2 187.8 L309.0 187.7 L309.8 188.0 L310.6 187.8 L311.4 187.9 L312.2 188.0 L313.0 187.9 L313.8 188.2 L314.6 188.2 L315.4 187.7 L316.2 187.8 L317.0 187.7 L317.8 187.9 L318.6 187.7 L319.4 188.1 L320.2 188.2 L321.0 188.3 L321.8 187.8 L322.6 187.7 L323.4 188.2 L324.2 187.9 L325.0 188.3 L325.8 187.9 L326.6 187.9 L327.4 187.7 L328.2 188.3 L329.0 187.9 L329.8 187.8 L330.6 187.7 L331.4 187.7 L332.2 187.5 L333.0 187.0 L333.8 186.3 L334.6 185.8 L335.4 185.4 L336.2 184.1 L337.0 183.2 L337.8 182.0 L338.6 180.8 L339.4 179.8 L340.2 178.5 L341.0 178.0 L341.8 177.7 L342.6 177.1 L343.4 177.6 L344.2 178.4 L345.0 178.9 L345.8 178.8 L346.6 179.8 L347.4 180.4 L348.2 181.1 L349.0 181.5 L349.8 181.9 L350.6 182.6 L351.4 183.5 L352.2 184.0 L353.0 184.1 L353.8 184.9 L354.6 185.3 L355.4 185.6 L356.2 185.5 L357.0 186.0 L357.8 186.1 L358.6 186.5 L359.4 186.4 L360.2 186.4 L361.0 186.8 L361.8 186.6 L362.6 187.0 L363.4 186.7 L364.2 186.9 L365.0 187.1 L365.8 186.6 L366.6 187.0 L367.4 186.5 L368.2 187.1 L369.0 186.5 L369.8 186.9 L370.6 186.7 L371.4 186.5 L372.2 186.7 L373.0 186.7 L373.8 186.6 L374.6 186.4 L375.4 186.7 L376.2 186.5 L377.0 187.0 L377.8 186.5 L378.6 186.6 L379.4 186.4 L380.2 186.9 L381.0 186.4 L381.8 186.7 L382.6 186.8 L383.4 186.5 L384.2 186.7 L385.0 186.4 L385.8 186.2 L386.6 186.2 L387.4 186.5 L388.2 186.8 L389.0 186.3 L389.8 186.4 L390.6 186.7 L391.4 186.3 L392.2 186.2 L393.0 186.5 L393.8 186.4 L394.6 186.8 L395.4 186.8 L396.2 186.3 L397.0 186.5 L397.8 186.4 L398.6 186.1 L399.4 186.4 L400.2 186.7 L401.0 186.3 L401.8 186.5 L402.6 186.5 L403.4 186.1 L404.2 186.7 L405.0 186.1 L405.8 186.2 L406.6 186.5 L407.4 186.0 L408.2 186.2 L409.0 186.0 L409.8 186.2 L410.6 185.9 L411.4 186.0 L412.2 186.0 L413.0 185.9 L413.8 185.9 L414.6 185.9 L415.4 186.1 L416.2 185.8 L417.0 186.2 L417.8 185.8 L418.6 185.5 L419.4 185.2 L420.2 185.3 L421.0 184.2 L421.8 184.1 L422.6 182.8 L423.4 182.4 L424.2 180.8 L425.0 179.5 L425.8 178.0 L426.6 175.8 L427.4 173.9 L428.2 172.6 L429.0 170.9 L429.8 169.6 L430.6 168.3 L431.4 167.8 L432.2 167.6 L433.0 168.2 L433.8 168.7 L434.6 169.7 L435.4 170.3 L436.2 171.3 L437.0 172.5 L437.8 173.2 L438.6 174.8 L439.4 175.6 L440.2 176.5 L441.0 177.4 L441.8 178.6 L442.6 179.5 L443.4 180.4 L444.2 180.9 L445.0 181.5 L445.8 182.4 L446.6 182.4 L447.4 183.3 L448.2 183.5 L449.0 183.8 L449.8 184.0 L450.6 183.7 L451.4 184.3 L452.2 184.2 L453.0 184.0 L453.8 184.7 L454.6 184.5 L455.4 184.7 L456.2 184.5 L457.0 184.2 L457.8 184.8 L458.6 184.4 L459.4 184.5 L460.2 184.7 L461.0 184.4 L461.8 184.7 L462.6 184.9 L463.4 184.4 L464.2 184.8 L465.0 184.5 L465.8 184.7 L466.6 184.9 L467.4 184.9 L468.2 184.5 L469.0 184.6 L469.8 185.1 L470.6 184.8 L471.4 184.8 L472.2 184.8 L473.0 185.0 L473.8 185.0 L474.6 185.0 L475.4 184.8 L476.2 184.9 L477.0 184.9 L477.8 184.7 L478.6 185.2 L479.4 185.2 L480.2 185.0 L481.0 185.2 L481.8 184.8 L482.6 185.1 L483.4 184.6 L484.2 184.9 L485.0 184.9 L485.8 184.9 L486.6 184.7 L487.4 184.6 L488.2 183.9 L489.0 183.8 L489.8 183.1 L490.6 182.1 L491.4 181.1 L492.2 179.9 L493.0 178.1 L493.8 175.9 L494.6 173.0 L495.4 169.6 L496.2 166.2 L497.0 162.9 L497.8 159.0 L498.6 155.6 L499.4 152.4 L500.2 150.0 L501.0 148.8 L501.8 147.7 L502.6 148.6 L503.4 149.3 L504.2 150.9 L505.0 152.0 L505.8 153.7 L506.6 155.6 L507.4 157.3 L508.2 159.7 L509.0 161.8 L509.8 163.7 L510.6 166.3 L511.4 168.0 L512.2 169.6 L513.0 172.1 L513.8 173.2 L514.6 174.6 L515.4 175.8 L516.2 177.0 L517.0 178.4 L517.8 179.2 L518.6 179.9 L519.4 180.3 L520.2 180.8 L521.0 181.7 L521.8 181.7 L522.6 182.4 L523.4 182.6 L524.2 182.2 L525.0 182.9 L525.8 182.5 L526.6 183.1 L527.4 183.2 L528.2 183.2 L529.0 183.2 L529.8 183.5 L530.6 183.1 L531.4 183.4 L532.2 183.2 L533.0 183.4 L533.8 183.2 L534.6 183.6 L535.4 183.6 L536.2 183.7 L537.0 183.6 L537.8 183.6 L538.6 183.8 L539.4 183.7 L540.2 183.5 L541.0 183.3 L541.8 183.6 L542.6 183.1 L543.4 182.8 L544.2 182.7 L545.0 182.5 L545.8 182.2 L546.6 181.2 L547.4 180.1 L548.2 178.9 L549.0 177.0 L549.8 174.4 L550.6 171.6 L551.4 168.3 L552.2 164.0 L553.0 159.4 L553.8 154.9 L554.6 149.9 L555.4 144.4 L556.2 139.7 L557.0 135.4 L557.8 131.2 L558.6 128.4 L559.4 127.1 L560.2 126.7 L561.0 127.9 L561.8 129.1 L562.6 130.2 L563.4 132.4 L564.2 134.4 L565.0 136.6 L565.8 139.9 L566.6 142.2 L567.4 145.0 L568.2 148.3 L569.0 151.0 L569.8 154.2 L570.6 157.0 L571.4 160.1 L572.2 162.3 L573.0 164.9 L573.8 167.0 L574.6 168.9 L575.4 170.4 L576.2 172.0 L577.0 173.4 L577.8 174.6 L578.6 175.7 L579.4 176.5 L580.2 177.1 L581.0 177.9 L581.8 178.7 L582.6 178.5 L583.4 179.0 L584.2 179.0 L585.0 179.3 L585.8 179.5 L586.6 179.9 L587.4 180.3 L588.2 180.4 L589.0 180.6 L589.8 180.6 L590.6 180.5 L591.4 180.5 L592.2 180.0 L593.0 180.2 L593.8 179.9 L594.6 179.8 L595.4 178.9 L596.2 178.5 L597.0 177.4 L597.8 176.1 L598.6 174.2 L599.4 171.6 L600.2 169.1 L601.0 165.5 L601.8 161.2 L602.6 155.9 L603.4 150.9 L604.2 145.3 L605.0 139.5 L605.8 133.5 L606.6 127.6 L607.4 123.5 L608.2 119.5 L609.0 116.7 L609.8 116.0 L610.6 116.4 L611.4 117.5 L612.2 118.5 L613.0 120.7 L613.8 122.8 L614.6 125.4 L615.4 128.7 L616.2 131.7 L617.0 134.8 L617.8 138.3 L618.6 142.0 L619.4 145.1 L620.2 148.6 L621.0 151.5 L621.8 154.7 L622.6 156.8 L623.4 159.7 L624.2 162.0 L625.0 164.2 L625.8 166.3 L626.6 167.7 L627.4 169.0 L628.2 170.3 L629.0 171.3 L629.8 172.3 L630.6 173.2 L631.4 173.2 L632.2 173.9 L633.0 174.7 L633.8 174.5 L634.6 175.2 L635.4 174.9 L636.2 175.4 L637.0 175.5 L637.8 175.0 L638.6 174.8 L639.4 174.2 L640.2 173.8 L641.0 172.5 L641.8 171.1 L642.6 168.9 L643.4 166.5 L644.2 163.7 L645.0 159.7 L645.8 155.5 L646.6 150.0 L647.4 144.8 L648.2 139.0 L649.0 133.2 L649.8 128.1 L650.6 122.7 L651.4 118.8 L652.2 115.9 L653.0 114.2 L653.8 113.2 L654.6 114.2 L655.4 115.5 L656.2 117.5 L657.0 119.0 L657.8 121.9 L658.6 124.3 L659.4 127.3 L660.2 130.7 L661.0 133.3 L661.8 136.8 L662.6 139.9 L663.4 143.1 L664.2 146.3 L665.0 149.5 L665.8 152.2 L666.6 154.5 L667.4 157.3 L668.2 159.3 L669.0 160.9 L669.8 163.1 L670.6 164.6 L671.4 165.4 L672.2 167.0 L673.0 167.9 L673.8 168.2 L674.6 168.7 L675.4 169.8 L676.2 170.1 L677.0 169.8 L677.8 170.2 L678.6 170.0 L679.4 169.5 L680.2 168.9 L681.0 167.9 L681.8 165.9 L682.6 164.3 L683.4 161.9 L684.2 158.5 L685.0 155.4 L685.8 151.5 L686.6 147.5 L687.4 143.0 L688.2 138.5 L689.0 134.4 L689.8 131.0 L690.6 127.8 L691.4 126.3 L692.2 125.3 L693.0 125.0 L693.8 126.1 L694.6 127.2 L695.4 128.3 L696.2 130.5 L697.0 132.5 L697.8 134.5 L698.6 136.7 L699.4 139.4 L700.2 142.3 L701.0 144.7 L701.8 147.6 L702.6 149.7 L703.4 152.1 L704.2 154.6 L705.0 157.2 L705.8 158.7 L706.6 160.4 L707.4 162.6 L708.2 163.5 L709.0 165.2 L709.8 165.8 L710.6 166.8 L711.4 167.7 L712.2 168.2 L713.0 168.0 L713.8 167.8 L714.6 167.1 L715.4 166.5 L716.2 165.3 L717.0 164.2 L717.8 162.3 L718.6 160.2 L719.4 157.6 L720.2 155.1 L721.0 151.9 L721.8 149.3 L722.6 146.6 L723.4 144.3 L724.2 142.6 L725.0 140.8 L725.8 140.1 L726.6 140.0 L727.4 140.8 L728.2 141.3 L729.0 142.1 L729.8 143.1 L730.6 144.7 L731.4 146.2 L732.2 147.4 L733.0 149.2 L733.8 151.1 L734.6 152.5 L735.4 154.3 L736.2 155.9 L737.0 157.9 L737.8 159.7 L738.6 160.7 L739.4 162.3 L740.2 163.9 L741.0 164.6 L741.8 165.4 L742.6 166.4 L743.4 166.9 L744.2 166.7 L745.0 166.5 L745.8 166.5 L746.6 166.0 L747.4 165.3 L748.2 164.0 L749.0 162.5 L749.8 161.2 L750.6 159.4 L751.4 158.0 L752.2 156.4 L753.0 155.4 L753.8 154.2 L754.6 153.4 L755.4 152.6 L756.2 152.9 L757.0 152.7 L757.8 153.6 L758.6 154.0 L759.4 154.8 L760.2 155.3 L761.0 156.6 L761.8 156.9 L762.6 158.5 L763.4 159.6 L764.2 160.4 L765.0 161.7 L765.8 162.3 L766.6 163.7 L767.4 164.4 L768.2 165.2 L769.0 165.7 L769.8 166.7 L770.6 167.0 L771.4 166.8 L772.2 167.4 L773.0 166.8 L773.8 166.6 L774.6 166.1 L775.4 165.6 L776.2 165.1 L777.0 164.4 L777.8 163.4 L778.6 162.4 L779.4 161.6 L780.2 161.0 L781.0 161.0 L781.8 160.9 L782.6 161.0 L783.4 161.6 L784.2 161.4 L785.0 161.8 L785.8 162.2 L786.6 162.5 L787.4 163.6 L788.2 163.9 L789.0 164.5 L789.8 165.0 L790.6 165.5 L791.4 166.1 L792.2 166.8 L793.0 167.2 L793.8 168.1 L794.6 168.2 L795.4 168.2 L796.2 168.4 L797.0 168.6 L797.8 168.9 L798.6 169.2 L799.4 169.2 L800.2 168.7 L801.0 168.9 L801.8 168.5 L802.6 168.4 L803.4 168.3 L804.2 167.9 L805.0 167.9 L805.8 168.3 L806.6 168.4 L807.4 168.3 L808.2 168.9 L809.0 169.0 L809.8 168.8 L810.6 168.9 L811.4 169.5 L812.2 169.8 L813.0 169.7 L813.8 169.8 L814.6 170.4 L815.4 170.3 L816.2 171.1 L817.0 171.2 L817.8 171.2 L818.6 171.5 L819.4 171.6 L820.2 171.7 L821.0 171.8 L821.8 172.4 L822.6 172.3 L823.4 172.6 L824.2 172.5 L825.0 173.1 L825.8 173.1 L826.6 173.4 L827.4 173.4 L828.2 173.8 L829.0 173.8 L829.8 174.6 L830.6 174.7 L831.4 174.9 L832.2 175.3 L833.0 175.2 L833.8 175.7 L834.6 175.9 L835.4 176.6 L836.2 176.3 L837.0 176.9 L837.8 177.4 L838.6 177.6 L839.4 177.8 L840.2 177.7 L841.0 177.8 L841.8 178.3 L842.6 178.2 L843.4 178.6 L844.2 178.4 L845.0 178.7 L845.8 178.5 L846.6 178.7 L847.4 178.8 L848.2 178.4 L849.0 178.9 L849.8 178.2 L850.6 178.9 L851.4 178.3 L852.2 178.7 L853.0 178.7 L853.8 179.0 L854.6 178.7 L855.4 178.7 L856.2 179.1 L857.0 179.0 L857.8 179.2 L858.6 179.1 L859.4 178.9 L860.2 179.5 L861.0 179.2 L861.8 179.4 L862.6 179.2 L863.4 179.4 L864.2 179.8 L865.0 179.9 L865.8 179.9 L866.6 179.9 L867.4 180.2 L868.2 180.2 L869.0 180.0 L869.8 180.3 L870.6 180.4 L871.4 180.6 L872.2 180.4 L873.0 180.5 L873.8 180.6 L874.6 180.6 L875.4 180.8 L876.2 181.2 L877.0 181.2 L877.8 181.0 L878.6 181.4 L879.4 181.1 L880.2 181.6 L881.0 181.3 L881.8 181.3 L882.6 181.5 L883.4 181.8 L884.2 181.7 L885.0 182.2 L885.8 182.3 L886.6 181.9 L887.4 182.3 L888.2 182.3 L889.0 182.3 L889.8 182.1 L890.6 182.7 L891.4 182.7 L892.2 182.1 L893.0 182.4 L893.8 182.4 L894.6 182.4 L895.4 182.6 L896.2 182.9 L897.0 182.3 L897.8 182.9 L898.6 182.6 L899.4 182.4 L900.2 183.0 L901.0 182.5 L901.8 182.5 L902.6 182.4 L903.4 182.6 L904.2 182.4 L905.0 182.5 L905.8 182.6 L906.6 182.8 L907.4 182.7 L908.2 182.6 L909.0 182.8 L909.8 183.0 L910.6 182.9 L911.4 182.7 L912.2 183.1 L913.0 183.0 L913.8 182.9 L914.6 182.8 L915.4 182.8 L916.2 182.6 L917.0 183.2 L917.8 183.0 L918.6 182.7 L919.4 183.3 L920.2 183.3 L921.0 182.7 L921.8 183.2 L922.6 182.9 L923.4 183.1 L924.2 183.3 L925.0 183.0 L925.8 183.1 L926.6 183.3 L927.4 182.9 L928.2 183.3 L929.0 183.1 L929.8 183.6 L930.6 183.0 L931.4 183.4 L932.2 182.9 L933.0 183.1 L933.8 183.0 L934.6 183.1 L935.4 183.4 L936.2 183.1 L937.0 183.6 L937.8 183.1 L938.6 183.5 L939.4 183.7 L940.2 183.2 L941.0 183.2 L941.8 183.6 L942.6 183.4 L943.4 183.8 L944.2 183.4 L945.0 183.4 L945.8 183.8 L946.6 183.4 L947.4 183.8 L948.2 183.8 L949.0 183.3 L949.8 183.5 L950.6 183.8 L951.4 183.2 L952.2 183.7 L953.0 183.7 L953.8 183.7 L954.6 183.6 L955.4 183.2 L956.2 183.8 L957.0 183.3 L957.8 183.7 L958.6 183.7 L959.4 183.4 L960.2 183.7 L961.0 183.5 L961.8 183.8 L962.6 183.3 L963.4 183.9 L964.2 183.5 L965.0 183.8 L965.8 183.6 L966.6 183.9 L967.4 183.5 L968.2 183.7 L969.0 183.4 L969.8 183.7 L970.6 183.4 L971.4 184.0 L972.2 183.9 L973.0 183.7 L973.8 184.1 L974.6 184.1 L975.4 184.1 L976.2 183.5 L977.0 184.0 L977.8 184.0 L978.6 184.0 L979.4 183.6 L980.2 184.2 L981.0 183.9 L981.8 184.0 L982.6 184.2 L983.4 183.8 L984.2 183.7 L985.0 184.3 L985.8 183.9 L986.6 183.7 L987.4 183.8 L988.2 184.4 L989.0 184.3 L989.8 183.9 L990.6 183.9 L991.4 184.4 L992.2 184.3 L993.0 184.2 L993.8 183.9 L994.6 184.2 L995.4 184.5 L996.2 183.9 L997.0 184.2 L997.8 184.0 L998.6 184.6 L999.4 184.0 L1000.2 184.6 L1001.0 184.6 L1001.8 184.5 L1002.6 184.0 L1003.4 184.5 L1004.2 184.3 L1005.0 184.4 L1005.8 184.1 L1006.6 184.4 L1007.4 184.6 L1008.2 184.1 L1009.0 184.7 L1009.8 184.3 L1010.6 184.2 L1011.4 184.2 L1012.2 184.4 L1013.0 184.5" fill="none" stroke="#be1e2d" stroke-width="1.35" stroke-linejoin="round"/>
<text x="-0.3" y="16.3" font-size="31" font-weight="bold" fill="#231f20" textLength="25.5" lengthAdjust="spacingAndGlyphs">a.</text>
<text x="195" y="111.8" font-size="23.5" fill="#231f20" textLength="90" lengthAdjust="spacingAndGlyphs">Reagent</text>
<path d="M241.5 123.5V140" stroke="#231f20" stroke-width="2"/>
<path d="M231.2 135.5L251.8 135.5L241.5 155Z" fill="#231f20"/>
<text x="147" y="185" font-size="23.5" fill="#231f20" textLength="75.5" lengthAdjust="spacingAndGlyphs">control</text>
<text x="332.5" y="92.5" font-size="23.5" fill="#231f20" textLength="11.7" lengthAdjust="spacingAndGlyphs">3</text>
<text x="422.5" y="140" font-size="23.5" fill="#231f20" textLength="11.3" lengthAdjust="spacingAndGlyphs">5</text>
<text x="491.7" y="142" font-size="23.5" fill="#231f20" textLength="11.6" lengthAdjust="spacingAndGlyphs">7</text>
<text x="548" y="126.4" font-size="23.5" fill="#231f20" textLength="12.0" lengthAdjust="spacingAndGlyphs">9</text>
<text x="597" y="110" font-size="23.5" fill="#231f20" textLength="20.0" lengthAdjust="spacingAndGlyphs">11</text>
<text x="642" y="110" font-size="23.5" fill="#231f20" textLength="22.4" lengthAdjust="spacingAndGlyphs">13</text>
<text x="679" y="117" font-size="23.5" fill="#231f20" textLength="23.0" lengthAdjust="spacingAndGlyphs">17</text>
<text x="719.6" y="140" font-size="23.5" fill="#231f20" textLength="24.4" lengthAdjust="spacingAndGlyphs">19</text>
<text x="746" y="150" font-size="23.5" fill="#231f20" textLength="23.0" lengthAdjust="spacingAndGlyphs">21</text>
<text x="772" y="159" font-size="23.5" fill="#231f20" textLength="25.0" lengthAdjust="spacingAndGlyphs">23</text>
<text x="795" y="167" font-size="23.5" fill="#231f20" textLength="24.0" lengthAdjust="spacingAndGlyphs">25</text>
<text x="817" y="171" font-size="23.5" fill="#231f20" textLength="24.0" lengthAdjust="spacingAndGlyphs">27</text>
<text x="1015" y="144" font-size="23.5" fill="#231f20" textLength="30" lengthAdjust="spacingAndGlyphs">pH</text>
<text x="1018" y="177.7" font-size="22.5" fill="#be1e2d" textLength="31" lengthAdjust="spacingAndGlyphs">6.5</text>
<text x="1018" y="197" font-size="22.5" fill="#ef4136" textLength="31" lengthAdjust="spacingAndGlyphs">6.6</text>
<text x="1018" y="215.3" font-size="22.5" fill="#f7941d" textLength="31" lengthAdjust="spacingAndGlyphs">6.7</text>
<text x="1018" y="234.5" font-size="22.5" fill="#009444" textLength="31" lengthAdjust="spacingAndGlyphs">6.8</text>
<text x="1018" y="254.6" font-size="22.5" fill="#1c75bc" textLength="31" lengthAdjust="spacingAndGlyphs">6.9</text>
<text x="1018" y="273" font-size="22.5" fill="#662d91" textLength="31" lengthAdjust="spacingAndGlyphs">7.0</text>
<text x="0.6" y="371.4" font-size="28" font-weight="bold" fill="#231f20" textLength="27.5" lengthAdjust="spacingAndGlyphs">b.</text>
<rect x="30.5" y="589.4" width="216.2" height="27.2" fill="#efc3b9" stroke="#414042" stroke-width="0.9"/>
<rect x="258" y="590" width="216" height="27.3" fill="#f6e2a9" stroke="#808285" stroke-width="0.9"/>
<rect x="486.7" y="589.2" width="216" height="27.8" fill="#93d4f0" stroke="#808285" stroke-width="0.9"/>
<path d="M230.0 603.3L271.0 603.3" stroke="#231f20" stroke-width="1.3" fill="none"/><path d="M277.0 603.3L267.7 598.3L269.7 603.3L267.7 608.3Z" fill="#231f20"/>
<path d="M456.0 603.3L497.2 603.3" stroke="#231f20" stroke-width="1.3" fill="none"/><path d="M503.2 603.3L493.9 598.3L495.9 603.3L493.9 608.3Z" fill="#231f20"/>
<path d="M98.6 444.0L98.6 511.5" stroke="#58595b" stroke-width="1.7" fill="none"/>
<path d="M98.6 571.0L98.6 589.0" stroke="#58595b" stroke-width="1.7" fill="none"/>
<path d="M98.6 617.8L97.8 651.5" stroke="#58595b" stroke-width="1.7" fill="none"/>
<ellipse cx="98.9" cy="413" rx="23.1" ry="31.4" fill="#f7941d" stroke="#231f20" stroke-width="1"/>
<text x="77.5" y="421.0" font-size="21.5" fill="#231f20" textLength="42.0" lengthAdjust="spacingAndGlyphs">DGN</text>
<text x="91.0" y="375.8" font-size="19.5" fill="#231f20" textLength="13.2" lengthAdjust="spacingAndGlyphs">N</text>
<text x="129.7" y="387.2" font-size="16.5" fill="#231f20" textLength="17.3" lengthAdjust="spacingAndGlyphs">28</text>
<text x="120.0" y="449.5" font-size="16.5" fill="#231f20" textLength="25.0" lengthAdjust="spacingAndGlyphs">311</text>
<text x="120.0" y="511.8" font-size="16.5" fill="#231f20" textLength="27.0" lengthAdjust="spacingAndGlyphs">500</text>
<text x="120.0" y="546.6" font-size="16.5" fill="#231f20" textLength="27.0" lengthAdjust="spacingAndGlyphs">654</text>
<text x="120.0" y="599.0" font-size="16.5" fill="#231f20" textLength="27.0" lengthAdjust="spacingAndGlyphs">750</text>
<text x="120.0" y="656.0" font-size="16.5" fill="#231f20" textLength="26.2" lengthAdjust="spacingAndGlyphs">895</text>
<text x="91.5" y="665.0" font-size="19.5" fill="#231f20" textLength="12.2" lengthAdjust="spacingAndGlyphs">C</text>
<path d="M86.17 462.00L95.83 462.00 M88.70 458.02L93.30 465.98 M93.30 458.02L88.70 465.98" stroke="#231f20" stroke-width="1.3" stroke-linecap="round"/>
<path d="M86.17 481.00L95.83 481.00 M88.70 477.02L93.30 484.98 M93.30 477.02L88.70 484.98" stroke="#231f20" stroke-width="1.3" stroke-linecap="round"/>
<path d="M86.17 499.00L95.83 499.00 M88.70 495.02L93.30 502.98 M93.30 495.02L88.70 502.98" stroke="#231f20" stroke-width="1.3" stroke-linecap="round"/>
<path d="M98.6 482.5L122.0 482.5" stroke="#6d6e71" stroke-width="0.9" fill="none"/>
<circle cx="106.8" cy="482.5" r="1.6" fill="#fff" stroke="#6d6e71" stroke-width="0.6"/>
<path d="M122.5 482.5L172.0 482.5" stroke="#6d6e71" stroke-width="0.9" fill="none"/>
<path d="M124.5 478.0L129.7 468.0" stroke="#6d6e71" stroke-width="0.9" fill="none"/>
<rect x="138.0" y="474.2" width="18.9" height="18.5" fill="#4f86c6" stroke="#58595b" stroke-width="0.7"/>
<rect x="162.7" y="474.2" width="19.1" height="18.5" fill="#e3e022" stroke="#58595b" stroke-width="0.7"/>
<circle cx="122.5" cy="482.5" r="9.3" fill="#20ad4a" stroke="#414042" stroke-width="0.7"/>
<circle cx="129.7" cy="462.7" r="8.4" fill="#ef6a61"/><text x="129.7" y="468.0" font-size="15" text-anchor="middle" fill="#231f20">P</text>
<clipPath id="pc98a"><rect x="76.3" y="509.0" width="45.2" height="30.8"/></clipPath><clipPath id="pc98b"><rect x="76.3" y="544.8" width="45.2" height="28.2"/></clipPath><ellipse cx="98.9" cy="541.0" rx="20.6" ry="30.0" fill="#c38bbf" stroke="#231f20" stroke-width="1.4" clip-path="url(#pc98a)"/><ellipse cx="98.9" cy="541.0" rx="20.6" ry="30.0" fill="#c38bbf" stroke="#231f20" stroke-width="1.4" clip-path="url(#pc98b)"/><path d="M78.5 539.2L119.3 539.2" stroke="#231f20" stroke-width="1.3" fill="none"/><path d="M78.5 545.4L119.3 545.4" stroke="#231f20" stroke-width="1.3" fill="none"/>
<rect x="93.3" y="588.6" width="10.9" height="29.2" fill="#3ebfc2" stroke="#231f20" stroke-width="0.9"/>
<path d="M69.2 378.8L69.2 539.5" stroke="#58595b" stroke-width="1.4" fill="none"/>
<path d="M65.6 378.8L72.7 378.8" stroke="#58595b" stroke-width="1.4" fill="none"/>
<path d="M65.6 539.5L72.7 539.5" stroke="#58595b" stroke-width="1.5" fill="none"/>
<path d="M69.2 545.0L69.2 647.8" stroke="#58595b" stroke-width="1.4" fill="none"/>
<path d="M65.6 545.0L72.7 545.0" stroke="#58595b" stroke-width="1.5" fill="none"/>
<path d="M65.6 647.8L72.7 647.8" stroke="#58595b" stroke-width="1.4" fill="none"/>
<text x="50.8" y="470.8" font-size="24" fill="#231f20" font-family="Liberation Serif" textLength="15.8" lengthAdjust="spacingAndGlyphs">α</text>
<text x="52.2" y="580.7" font-size="25.5" fill="#231f20" font-family="Liberation Serif" textLength="12.6" lengthAdjust="spacingAndGlyphs">β</text>
<text x="193.2" y="553.7" font-size="19.5" fill="#231f20" textLength="21.6" lengthAdjust="spacingAndGlyphs">ER</text>
<text x="175.4" y="580.4" font-size="19.5" fill="#231f20" textLength="57.2" lengthAdjust="spacingAndGlyphs">lumen</text>
<text x="170.9" y="634.5" font-size="19.5" fill="#231f20" textLength="66.8" lengthAdjust="spacingAndGlyphs">Cytosol</text>
<path d="M360.3 444.0L360.3 511.5" stroke="#58595b" stroke-width="1.7" fill="none"/>
<path d="M360.3 571.0L360.3 590.0" stroke="#58595b" stroke-width="1.7" fill="none"/>
<path d="M360.3 617.3L360.0 651.5" stroke="#58595b" stroke-width="1.7" fill="none"/>
<ellipse cx="360.5" cy="413.2" rx="23.1" ry="31.2" fill="#f7941d" stroke="#231f20" stroke-width="1"/>
<text x="338.7" y="421.0" font-size="21.5" fill="#231f20" textLength="41.6" lengthAdjust="spacingAndGlyphs">DGN</text>
<text x="355.7" y="377.8" font-size="19.5" fill="#231f20" textLength="13.5" lengthAdjust="spacingAndGlyphs">N</text>
<text x="352.4" y="668.0" font-size="19.5" fill="#231f20" textLength="12.2" lengthAdjust="spacingAndGlyphs">C</text>
<text x="274.3" y="431.2" font-size="16.5" fill="#231f20" textLength="33.7" lengthAdjust="spacingAndGlyphs">furin</text>
<text x="259.0" y="452.0" font-size="16.5" fill="#231f20" textLength="63.6" lengthAdjust="spacingAndGlyphs">cleavage</text>
<text x="268.0" y="472.5" font-size="16.5" fill="#231f20" textLength="45.7" lengthAdjust="spacingAndGlyphs">(R312)</text>
<path d="M326.4 447.0L354.0 447.0" stroke="#231f20" stroke-width="1" fill="none"/>
<path d="M359.3 447L352.5 443.6L353.8 447L352.5 450.4Z" fill="#231f20"/>
<path d="M346.57 462.00L356.23 462.00 M349.10 458.02L353.70 465.98 M353.70 458.02L349.10 465.98" stroke="#231f20" stroke-width="1.3" stroke-linecap="round"/>
<path d="M346.57 481.00L356.23 481.00 M349.10 477.02L353.70 484.98 M353.70 477.02L349.10 484.98" stroke="#231f20" stroke-width="1.3" stroke-linecap="round"/>
<path d="M346.57 499.00L356.23 499.00 M349.10 495.02L353.70 502.98 M353.70 495.02L349.10 502.98" stroke="#231f20" stroke-width="1.3" stroke-linecap="round"/>
<path d="M360.3 482.5L384.0 482.5" stroke="#6d6e71" stroke-width="0.9" fill="none"/>
<circle cx="368.4" cy="482.5" r="1.6" fill="#fff" stroke="#6d6e71" stroke-width="0.6"/>
<path d="M384.2 482.5L434.0 482.5" stroke="#6d6e71" stroke-width="0.9" fill="none"/>
<path d="M386.5 478.0L391.8 468.0" stroke="#6d6e71" stroke-width="0.9" fill="none"/>
<path d="M433.8 474.2L433.8 381.0" stroke="#939598" stroke-width="1.0" fill="none"/>
<rect x="399.4" y="474.2" width="19.1" height="18.5" fill="#4f86c6" stroke="#58595b" stroke-width="0.7"/>
<rect x="424.3" y="474.2" width="19.1" height="18.5" fill="#e3e022" stroke="#58595b" stroke-width="0.7"/>
<circle cx="384.2" cy="482.5" r="9.3" fill="#20ad4a" stroke="#414042" stroke-width="0.7"/>
<circle cx="391.8" cy="463.8" r="8.6" fill="#ef6a61"/><text x="391.8" y="469.1" font-size="15" text-anchor="middle" fill="#231f20">P</text>
<rect x="429" y="457" width="9.6" height="13" fill="#fff"/>
<text x="433.8" y="467.2" font-size="11.5" text-anchor="middle" fill="#231f20">P</text>
<polygon points="433.80,436.74 436.53,442.28 442.64,443.17 438.22,447.48 439.27,453.57 433.80,450.69 428.33,453.57 429.38,447.48 424.96,443.17 431.07,442.28" fill="#e8838b" stroke="#8a4b52" stroke-width="0.6" stroke-linejoin="miter"/><text x="433.8" y="449.5" font-size="12.5" font-style="italic" text-anchor="middle" fill="#5b2a2e" font-family="Liberation Serif">o</text>
<rect x="429" y="416.5" width="9.6" height="13" fill="#fff"/>
<text x="433.8" y="427.0" font-size="11.5" text-anchor="middle" fill="#231f20">P</text>
<polygon points="433.80,396.34 436.53,401.88 442.64,402.77 438.22,407.08 439.27,413.17 433.80,410.29 428.33,413.17 429.38,407.08 424.96,402.77 431.07,401.88" fill="#e8838b" stroke="#8a4b52" stroke-width="0.6" stroke-linejoin="miter"/><text x="433.8" y="409.1" font-size="12.5" font-style="italic" text-anchor="middle" fill="#5b2a2e" font-family="Liberation Serif">o</text>
<path d="M433.8 381.1L567.0 381.1" stroke="#939598" stroke-width="1.2" fill="none"/>
<polygon points="433.80,372.08 436.68,377.92 443.12,378.86 438.46,383.40 439.56,389.81 433.80,386.78 428.04,389.81 429.14,383.40 424.48,378.86 430.92,377.92" fill="#f7941d" stroke="#5a3a10" stroke-width="0.6" stroke-linejoin="miter"/>
<path d="M450.7 381.1L459.2 371.9L467.7 381.1Z" fill="#3c4da0"/><path d="M450.7 381.1L459.2 371.9L467.7 381.1L459.2 390.3Z" fill="none" stroke="#414042" stroke-width="0.7"/>
<text x="472.2" y="389.6" font-size="22" fill="#231f20" textLength="5.5" lengthAdjust="spacingAndGlyphs">[</text>
<polygon points="483.90,372.08 486.78,377.92 493.22,378.86 488.56,383.40 489.66,389.81 483.90,386.78 478.14,389.81 479.24,383.40 474.58,378.86 481.02,377.92" fill="#f7941d" stroke="#5a3a10" stroke-width="0.6" stroke-linejoin="miter"/>
<path d="M500.2 381.1L508.7 371.9L517.2 381.1Z" fill="#3c4da0"/><path d="M500.2 381.1L508.7 371.9L517.2 381.1L508.7 390.3Z" fill="none" stroke="#414042" stroke-width="0.7"/>
<text x="515.1" y="389.6" font-size="22" fill="#231f20" textLength="5.5" lengthAdjust="spacingAndGlyphs">]</text>
<text x="522.2" y="397.6" font-size="14" fill="#231f20">n</text>
<polygon points="533.40,372.08 536.28,377.92 542.72,378.86 538.06,383.40 539.16,389.81 533.40,386.78 527.64,389.81 528.74,383.40 524.08,378.86 530.52,377.92" fill="#f7941d" stroke="#5a3a10" stroke-width="0.6" stroke-linejoin="miter"/>
<path d="M550.2 381.1L558.7 371.9L567.2 381.1Z" fill="#3c4da0"/><path d="M550.2 381.1L558.7 371.9L567.2 381.1L558.7 390.3Z" fill="none" stroke="#414042" stroke-width="0.7"/>
<text x="455.5" y="411.3" font-size="17.3" fill="#231f20" textLength="85.2" lengthAdjust="spacingAndGlyphs">Matriglycan</text>
<clipPath id="pc360a"><rect x="337.7" y="509.0" width="45.4" height="30.0"/></clipPath><clipPath id="pc360b"><rect x="337.7" y="544.0" width="45.4" height="29.0"/></clipPath><ellipse cx="360.4" cy="541.0" rx="20.7" ry="30.0" fill="#c38bbf" stroke="#231f20" stroke-width="1.4" clip-path="url(#pc360a)"/><ellipse cx="360.4" cy="541.0" rx="20.7" ry="30.0" fill="#c38bbf" stroke="#231f20" stroke-width="1.4" clip-path="url(#pc360b)"/><path d="M339.9 538.4L380.9 538.4" stroke="#231f20" stroke-width="1.3" fill="none"/><path d="M339.9 544.6L380.9 544.6" stroke="#231f20" stroke-width="1.3" fill="none"/>
<rect x="355.2" y="589" width="10.1" height="29" fill="#3ebfc2" stroke="#231f20" stroke-width="0.9"/>
<text x="415.0" y="555.5" font-size="19.5" fill="#231f20" textLength="47.5" lengthAdjust="spacingAndGlyphs">Golgi</text>
<text x="409.8" y="581.7" font-size="19.5" fill="#231f20" textLength="57.8" lengthAdjust="spacingAndGlyphs">lumen</text>
<text x="405.8" y="636.0" font-size="19.5" fill="#231f20" textLength="65.6" lengthAdjust="spacingAndGlyphs">Cytosol</text>
<path d="M575.2 444.7L575.2 512.0" stroke="#58595b" stroke-width="1.7" fill="none"/>
<path d="M575.2 571.3L575.2 589.0" stroke="#58595b" stroke-width="1.7" fill="none"/>
<path d="M575.2 617.5L575.2 648.7" stroke="#58595b" stroke-width="1.7" fill="none"/>
<text x="566.7" y="442.0" font-size="19.5" fill="#231f20" textLength="13.3" lengthAdjust="spacingAndGlyphs">N</text>
<text x="538.0" y="447.9" font-size="16.5" fill="#231f20" textLength="26.0" lengthAdjust="spacingAndGlyphs">313</text>
<text x="569.3" y="670.0" font-size="19.5" fill="#231f20" textLength="12.0" lengthAdjust="spacingAndGlyphs">C</text>
<path d="M559.17 460.70L568.83 460.70 M561.70 456.72L566.30 464.68 M566.30 456.72L561.70 464.68" stroke="#231f20" stroke-width="1.3" stroke-linecap="round"/>
<path d="M559.17 479.30L568.83 479.30 M561.70 475.32L566.30 483.28 M566.30 475.32L561.70 483.28" stroke="#231f20" stroke-width="1.3" stroke-linecap="round"/>
<path d="M559.17 498.00L568.83 498.00 M561.70 494.02L566.30 501.98 M566.30 494.02L561.70 501.98" stroke="#231f20" stroke-width="1.3" stroke-linecap="round"/>
<path d="M575.2 479.9L598.0 479.9" stroke="#6d6e71" stroke-width="0.9" fill="none"/>
<circle cx="582.1" cy="479.9" r="1.6" fill="#fff" stroke="#6d6e71" stroke-width="0.6"/>
<path d="M598.1 479.9L648.0 479.9" stroke="#6d6e71" stroke-width="0.9" fill="none"/>
<path d="M600.5 475.0L605.9 466.0" stroke="#6d6e71" stroke-width="0.9" fill="none"/>
<path d="M648.0 470.5L648.0 377.5" stroke="#939598" stroke-width="1.0" fill="none"/>
<rect x="613.3" y="470.5" width="19.2" height="18.7" fill="#4f86c6" stroke="#58595b" stroke-width="0.7"/>
<rect x="638.7" y="470.5" width="18.6" height="18.7" fill="#e3e022" stroke="#58595b" stroke-width="0.7"/>
<circle cx="598.1" cy="479.9" r="9.3" fill="#20ad4a" stroke="#414042" stroke-width="0.7"/>
<circle cx="605.9" cy="460.7" r="8.6" fill="#ef6a61"/><text x="605.9" y="466.0" font-size="15" text-anchor="middle" fill="#231f20">P</text>
<text x="581.9" y="503.3" font-size="16.3" fill="#231f20" textLength="70.9" lengthAdjust="spacingAndGlyphs">Mucin-like</text>
<rect x="643.2" y="453" width="9.6" height="13" fill="#fff"/>
<text x="648.0" y="463.6" font-size="11.5" text-anchor="middle" fill="#231f20">P</text>
<polygon points="648.00,432.94 650.73,438.48 656.84,439.37 652.42,443.68 653.47,449.77 648.00,446.89 642.53,449.77 643.58,443.68 639.16,439.37 645.27,438.48" fill="#e8838b" stroke="#8a4b52" stroke-width="0.6" stroke-linejoin="miter"/><text x="648.0" y="445.7" font-size="12.5" font-style="italic" text-anchor="middle" fill="#5b2a2e" font-family="Liberation Serif">o</text>
<rect x="643.2" y="412.5" width="9.6" height="13" fill="#fff"/>
<text x="648.0" y="423.3" font-size="11.5" text-anchor="middle" fill="#231f20">P</text>
<polygon points="648.00,392.14 650.73,397.68 656.84,398.57 652.42,402.88 653.47,408.97 648.00,406.09 642.53,408.97 643.58,402.88 639.16,398.57 645.27,397.68" fill="#e8838b" stroke="#8a4b52" stroke-width="0.6" stroke-linejoin="miter"/><text x="648.0" y="404.9" font-size="12.5" font-style="italic" text-anchor="middle" fill="#5b2a2e" font-family="Liberation Serif">o</text>
<path d="M648.0 377.5L780.0 377.5" stroke="#939598" stroke-width="1.2" fill="none"/>
<polygon points="648.00,368.48 650.88,374.32 657.32,375.26 652.66,379.80 653.76,386.21 648.00,383.18 642.24,386.21 643.34,379.80 638.68,375.26 645.12,374.32" fill="#f7941d" stroke="#5a3a10" stroke-width="0.6" stroke-linejoin="miter"/>
<path d="M663.5 377.5L672.0 368.3L680.5 377.5Z" fill="#3c4da0"/><path d="M663.5 377.5L672.0 368.3L680.5 377.5L672.0 386.7Z" fill="none" stroke="#414042" stroke-width="0.7"/>
<text x="685.5" y="386.0" font-size="22" fill="#231f20" textLength="5.5" lengthAdjust="spacingAndGlyphs">[</text>
<polygon points="697.30,368.48 700.18,374.32 706.62,375.26 701.96,379.80 703.06,386.21 697.30,383.18 691.54,386.21 692.64,379.80 687.98,375.26 694.42,374.32" fill="#f7941d" stroke="#5a3a10" stroke-width="0.6" stroke-linejoin="miter"/>
<path d="M712.8 377.5L721.3 368.3L729.8 377.5Z" fill="#3c4da0"/><path d="M712.8 377.5L721.3 368.3L729.8 377.5L721.3 386.7Z" fill="none" stroke="#414042" stroke-width="0.7"/>
<text x="728.5" y="386.0" font-size="22" fill="#231f20" textLength="5.5" lengthAdjust="spacingAndGlyphs">]</text>
<text x="736.0" y="394.0" font-size="14" fill="#231f20">n</text>
<polygon points="746.70,368.48 749.58,374.32 756.02,375.26 751.36,379.80 752.46,386.21 746.70,383.18 740.94,386.21 742.04,379.80 737.38,375.26 743.82,374.32" fill="#f7941d" stroke="#5a3a10" stroke-width="0.6" stroke-linejoin="miter"/>
<path d="M763.0 377.5L771.5 368.3L780.0 377.5Z" fill="#3c4da0"/><path d="M763.0 377.5L771.5 368.3L780.0 377.5L771.5 386.7Z" fill="none" stroke="#414042" stroke-width="0.7"/>
<text x="669.3" y="407.5" font-size="17.3" fill="#231f20" textLength="84.0" lengthAdjust="spacingAndGlyphs">Matriglycan</text>
<clipPath id="pc575a"><rect x="552.7" y="509.9" width="44.8" height="29.4"/></clipPath><clipPath id="pc575b"><rect x="552.7" y="543.9" width="44.8" height="29.4"/></clipPath><ellipse cx="575.1" cy="541.6" rx="20.4" ry="29.7" fill="#c38bbf" stroke="#231f20" stroke-width="1.4" clip-path="url(#pc575a)"/><ellipse cx="575.1" cy="541.6" rx="20.4" ry="29.7" fill="#c38bbf" stroke="#231f20" stroke-width="1.4" clip-path="url(#pc575b)"/><path d="M554.9 538.7L595.3 538.7" stroke="#231f20" stroke-width="1.3" fill="none"/><path d="M554.9 544.5L595.3 544.5" stroke="#231f20" stroke-width="1.3" fill="none"/>
<rect x="570.1" y="588.7" width="10.2" height="28.8" fill="#3ebfc2" stroke="#231f20" stroke-width="0.9"/>
<text x="587.2" y="584.1" font-size="19.5" fill="#231f20" textLength="111.5" lengthAdjust="spacingAndGlyphs">Extracellular</text>
<text x="609.3" y="638.3" font-size="19.5" fill="#231f20" textLength="66.7" lengthAdjust="spacingAndGlyphs">Cytosol</text>
<text x="807.6" y="371.8" font-size="31" font-weight="bold" fill="#231f20" textLength="23.2" lengthAdjust="spacingAndGlyphs">c.</text>
<path d="M931.8 489.5L931.8 440.0" stroke="#414042" stroke-width="1.0" fill="none"/>
<path d="M941.3 429.0L1055.5 429.0" stroke="#6d6e71" stroke-width="0.9" fill="none"/>
<rect x="922.6" y="419.5" width="18.7" height="19.1" fill="#e3e022" stroke="#58595b" stroke-width="0.7"/>
<rect x="922.6" y="440.4" width="18.7" height="19.4" fill="#4f86c6" stroke="#58595b" stroke-width="0.7"/>
<circle cx="931.8" cy="470.8" r="9.4" fill="#20ad4a" stroke="#414042" stroke-width="0.7"/>
<circle cx="952.3" cy="470.8" r="8.2" fill="#ef6a61"/><text x="952.3" y="476.1" font-size="15" text-anchor="middle" fill="#231f20">P</text>
<rect x="948.3" y="422" width="10" height="14" fill="#fff"/>
<text x="953.3" y="433.0" font-size="11.5" text-anchor="middle" fill="#231f20">P</text>
<rect x="989.0" y="422" width="10" height="14" fill="#fff"/>
<text x="994.0" y="433.0" font-size="11.5" text-anchor="middle" fill="#231f20">P</text>
<polygon points="973.50,419.80 976.44,425.75 983.01,426.71 978.26,431.35 979.38,437.89 973.50,434.80 967.62,437.89 968.74,431.35 963.99,426.71 970.56,425.75" fill="#e8838b" stroke="#8a4b52" stroke-width="0.6" stroke-linejoin="miter"/><text x="973.5" y="433.2" font-size="12.5" font-style="italic" text-anchor="middle" fill="#5b2a2e" font-family="Liberation Serif">o</text>
<polygon points="1013.80,419.80 1016.74,425.75 1023.31,426.71 1018.56,431.35 1019.68,437.89 1013.80,434.80 1007.92,437.89 1009.04,431.35 1004.29,426.71 1010.86,425.75" fill="#e8838b" stroke="#8a4b52" stroke-width="0.6" stroke-linejoin="miter"/><text x="1013.8" y="433.2" font-size="12.5" font-style="italic" text-anchor="middle" fill="#5b2a2e" font-family="Liberation Serif">o</text>
<polygon points="1034.30,420.17 1037.12,425.88 1043.43,426.80 1038.87,431.25 1039.94,437.53 1034.30,434.57 1028.66,437.53 1029.73,431.25 1025.17,426.80 1031.48,425.88" fill="#f7941d" stroke="#5a3a10" stroke-width="0.6" stroke-linejoin="miter"/>
<path d="M1047.2 429.0L1055.5 420.0L1063.8 429.0Z" fill="#3c4da0"/><path d="M1047.2 429.0L1055.5 420.0L1063.8 429.0L1055.5 438.0Z" fill="none" stroke="#414042" stroke-width="0.7"/>
<text x="821.4" y="475.9" font-size="15.5" fill="#231f20" textLength="16.4" lengthAdjust="spacingAndGlyphs">28</text>
<text x="890.8" y="475.9" font-size="15.5" fill="#231f20" textLength="24.9" lengthAdjust="spacingAndGlyphs">313</text>
<text x="1029.2" y="475.9" font-size="15.5" fill="#231f20" textLength="24.9" lengthAdjust="spacingAndGlyphs">500</text>
<text x="1084.5" y="475.9" font-size="15.5" fill="#231f20" textLength="26.0" lengthAdjust="spacingAndGlyphs">654</text>
<text x="1118.7" y="475.9" font-size="15.5" fill="#231f20" textLength="24.9" lengthAdjust="spacingAndGlyphs">749</text>
<path d="M899.0 489.5L1038.0 489.5" stroke="#58595b" stroke-width="1.1" fill="none"/>
<text x="811.2" y="495.7" font-size="16.5" fill="#231f20" textLength="10.2" lengthAdjust="spacingAndGlyphs">N</text>
<path d="M821.4 489.5L828.6 489.5" stroke="#231f20" stroke-width="1" fill="none"/>
<rect x="828.6" y="480.3" width="70.7" height="18.8" fill="#f7941d" stroke="#231f20" stroke-width="0.8"/>
<text x="848.0" y="494.7" font-size="15.5" fill="#231f20" textLength="32.5" lengthAdjust="spacingAndGlyphs">DGN</text>
<rect x="1037.7" y="480.3" width="100.1" height="18.8" fill="#c38bbf" stroke="#231f20" stroke-width="0.8"/>
<path d="M1093.2 480.8L1093.2 498.6" stroke="#fff" stroke-width="1.6" fill="none"/>
<text x="1071.9" y="494.7" font-size="15.5" fill="#231f20" textLength="38.2" lengthAdjust="spacingAndGlyphs">eCTD</text>
<path d="M1137.8 489.5L1144.0 489.5" stroke="#231f20" stroke-width="1" fill="none"/>
<text x="1143.6" y="495.7" font-size="16.5" fill="#231f20" textLength="23.9" lengthAdjust="spacingAndGlyphs">His</text>
<text x="1168.8" y="502.8" font-size="11" fill="#231f20" textLength="6.2" lengthAdjust="spacingAndGlyphs">6</text>
<path d="M915.81 499.30L923.79 499.30 M917.90 496.01L921.70 502.59 M921.70 496.01L917.90 502.59" stroke="#231f20" stroke-width="1.5" stroke-linecap="round"/>
<path d="M964.31 499.30L972.29 499.30 M966.40 496.01L970.20 502.59 M970.20 496.01L966.40 502.59" stroke="#231f20" stroke-width="1.5" stroke-linecap="round"/>
<path d="M1014.21 499.30L1022.19 499.30 M1016.30 496.01L1020.10 502.59 M1020.10 496.01L1016.30 502.59" stroke="#231f20" stroke-width="1.5" stroke-linecap="round"/>
<path d="M830.0 507.7L1136.8 507.7" stroke="#231f20" stroke-width="1" fill="none"/>
<path d="M830.0 503.5L830.0 511.9" stroke="#231f20" stroke-width="1" fill="none"/>
<path d="M1136.8 503.5L1136.8 511.9" stroke="#231f20" stroke-width="1" fill="none"/>
<path d="M1093.4 503.5L1093.4 511.9" stroke="#231f20" stroke-width="2.2" fill="none"/>
<text x="951.3" y="526.3" font-size="21.5" fill="#231f20" font-family="Liberation Serif" textLength="12.8" lengthAdjust="spacingAndGlyphs">α</text>
<text x="1109.6" y="526.5" font-size="16.5" fill="#231f20" font-family="Liberation Serif" textLength="10.2" lengthAdjust="spacingAndGlyphs">β</text>
<path d="M898.6 528.2L898.6 514.0" stroke="#231f20" stroke-width="1" fill="none"/>
<path d="M898.6 510.5L895 518L898.6 516.5L902.2 518Z" fill="#231f20"/>
<text x="810.5" y="542.8" font-size="15.5" fill="#231f20" textLength="186.9" lengthAdjust="spacingAndGlyphs">Mutated furin cleavage site</text>
<text x="856.6" y="564.0" font-size="15.5" fill="#231f20" textLength="93.3" lengthAdjust="spacingAndGlyphs">R311A/R312A</text>
<circle cx="18.2" cy="691.7" r="9.6" fill="#20ad4a" stroke="#414042" stroke-width="0.7"/>
<text x="42.0" y="698.7" font-size="19.5" fill="#231f20" textLength="82.3" lengthAdjust="spacingAndGlyphs">Mannose</text>
<rect x="155.0" y="683.0" width="19.0" height="18.5" fill="#4f86c6" stroke="#58595b" stroke-width="0.7"/>
<text x="188.0" y="698.7" font-size="19.5" fill="#231f20" textLength="190.0" lengthAdjust="spacingAndGlyphs">N-acetylglucosamine</text>
<rect x="394.7" y="683.0" width="19.3" height="18.5" fill="#e3e022" stroke="#58595b" stroke-width="0.7"/>
<text x="427.3" y="698.7" font-size="19.5" fill="#231f20" textLength="207.5" lengthAdjust="spacingAndGlyphs">N-acetylgalactosamine</text>
<circle cx="657.6" cy="692.8" r="8.75" fill="#ef6a61"/><text x="657.6" y="698.1" font-size="15" text-anchor="middle" fill="#231f20">P</text>
<text x="681.0" y="698.7" font-size="19.5" fill="#231f20" textLength="96.3" lengthAdjust="spacingAndGlyphs">Phosphate</text>
<polygon points="71.80,709.94 74.53,715.48 80.64,716.37 76.22,720.68 77.27,726.77 71.80,723.89 66.33,726.77 67.38,720.68 62.96,716.37 69.07,715.48" fill="#e8838b" stroke="#8a4b52" stroke-width="0.6" stroke-linejoin="miter"/><text x="71.8" y="722.7" font-size="12.5" font-style="italic" text-anchor="middle" fill="#5b2a2e" font-family="Liberation Serif">o</text>
<path d="M71.8 726.0L71.8 729.5" stroke="#6d6e71" stroke-width="0.8" fill="none"/>
<text x="71.8" y="738.5" font-size="10.5" text-anchor="middle" fill="#231f20">P</text>
<text x="95.2" y="732.2" font-size="19.5" fill="#231f20" textLength="163.1" lengthAdjust="spacingAndGlyphs">Ribitol-phosphate</text>
<polygon points="337.80,716.80 340.74,722.75 347.31,723.71 342.56,728.35 343.68,734.89 337.80,731.80 331.92,734.89 333.04,728.35 328.29,723.71 334.86,722.75" fill="#f7941d" stroke="#5a3a10" stroke-width="0.6" stroke-linejoin="miter"/>
<text x="361.2" y="732.2" font-size="19.5" fill="#231f20" textLength="57.1" lengthAdjust="spacingAndGlyphs">Xylose</text>
<path d="M555.0 726.0L563.8 717.2L572.5 726.0Z" fill="#3c4da0"/><path d="M555.0 726.0L563.8 717.2L572.5 726.0L563.8 734.8Z" fill="none" stroke="#414042" stroke-width="0.7"/>
<text x="586.5" y="732.2" font-size="19.5" fill="#231f20" textLength="112.7" lengthAdjust="spacingAndGlyphs">Glucuronate</text>
<defs>
<filter id="b06" x="-50%" y="-50%" width="200%" height="200%"><feGaussianBlur stdDeviation="0.6"/></filter>
<filter id="b1" x="-50%" y="-50%" width="200%" height="200%"><feGaussianBlur stdDeviation="1"/></filter>
<filter id="b15" x="-50%" y="-50%" width="200%" height="200%"><feGaussianBlur stdDeviation="1.5"/></filter>
<filter id="b2" x="-50%" y="-50%" width="200%" height="200%"><feGaussianBlur stdDeviation="2"/></filter>
<filter id="b3" x="-50%" y="-50%" width="200%" height="200%"><feGaussianBlur stdDeviation="3"/></filter>
<filter id="b5" x="-50%" y="-50%" width="200%" height="200%"><feGaussianBlur stdDeviation="5"/></filter>
</defs>
<text x="-1" y="801.4" font-size="28" font-weight="bold" fill="#231f20" textLength="27.5" lengthAdjust="spacingAndGlyphs">d.</text>
<text x="147.2" y="810.0" font-size="22.5" fill="#231f20" textLength="57.6" lengthAdjust="spacingAndGlyphs">NiNTA</text>
<text x="154.0" y="837.2" font-size="22.5" fill="#231f20" textLength="44.8" lengthAdjust="spacingAndGlyphs">resin</text>
<text x="293.2" y="810.0" font-size="22.5" fill="#231f20" textLength="50.0" lengthAdjust="spacingAndGlyphs">DEAE</text>
<text x="276.0" y="837.2" font-size="22.5" fill="#231f20" textLength="83.2" lengthAdjust="spacingAndGlyphs">cellulose</text>
<path d="M148.2 853.8H204.2M241.5 853.8H394.3" stroke="#231f20" stroke-width="1.2"/>
<text transform="translate(159.9 962.0) rotate(-90)" font-size="18.2" fill="#231f20" textLength="47.5" lengthAdjust="spacingAndGlyphs">media</text>
<text transform="translate(181.9 962.0) rotate(-90)" font-size="18.2" fill="#231f20" textLength="96.0" lengthAdjust="spacingAndGlyphs">flowthrough</text>
<text transform="translate(203.8 962.0) rotate(-90)" font-size="18.2" fill="#231f20" textLength="47.5" lengthAdjust="spacingAndGlyphs">eluate</text>
<text transform="translate(225.9 962.0) rotate(-90)" font-size="18.2" fill="#231f20" textLength="67.5" lengthAdjust="spacingAndGlyphs">standard</text>
<text transform="translate(245.6 962.0) rotate(-90)" font-size="18.2" fill="#231f20" textLength="41.5" lengthAdjust="spacingAndGlyphs">input</text>
<text transform="translate(269.8 962.0) rotate(-90)" font-size="18.2" fill="#231f20" textLength="34.0" lengthAdjust="spacingAndGlyphs">void</text>
<text transform="translate(291.6 962.0) rotate(-90)" font-size="18.2" fill="#231f20" textLength="40.0" lengthAdjust="spacingAndGlyphs">wash</text>
<text transform="translate(313.5 962.0) rotate(-90)" font-size="18.2" fill="#231f20" textLength="29.5" lengthAdjust="spacingAndGlyphs">100</text>
<text transform="translate(335.4 962.0) rotate(-90)" font-size="18.2" fill="#231f20" textLength="29.5" lengthAdjust="spacingAndGlyphs">150</text>
<text transform="translate(357.3 962.0) rotate(-90)" font-size="18.2" fill="#231f20" textLength="29.5" lengthAdjust="spacingAndGlyphs">200</text>
<text transform="translate(379.2 962.0) rotate(-90)" font-size="18.2" fill="#231f20" textLength="29.5" lengthAdjust="spacingAndGlyphs">300</text>
<text transform="translate(401.1 962.0) rotate(-90)" font-size="18.2" fill="#231f20" textLength="29.5" lengthAdjust="spacingAndGlyphs">500</text>
<text x="414.0" y="934.0" font-size="21.5" fill="#231f20" textLength="44.0" lengthAdjust="spacingAndGlyphs">NaCl</text>
<text x="412.0" y="958.5" font-size="21.5" fill="#231f20" textLength="48.0" lengthAdjust="spacingAndGlyphs">(mM)</text>
<text x="95.2" y="934.8" font-size="17.5" fill="#231f20" textLength="30.8" lengthAdjust="spacingAndGlyphs">MW</text>
<text x="91.2" y="955.5" font-size="17.5" fill="#231f20" textLength="38.8" lengthAdjust="spacingAndGlyphs">(kDa)</text>
<linearGradient id="gd1" x1="0" y1="0" x2="0" y2="1"><stop offset="0" stop-color="#dadada"/><stop offset="0.45" stop-color="#d1d1d1"/><stop offset="0.85" stop-color="#c2c2c2"/><stop offset="1" stop-color="#b9b9b9"/></linearGradient>
<rect x="145.1" y="965.8" width="264.4" height="98.70000000000005" fill="url(#gd1)"/>
<g clip-path="url(#clipd1)">
<clipPath id="clipd1"><rect x="145.1" y="965.8" width="264.4" height="98.70000000000005"/></clipPath>
<rect x="145.0" y="966.0" width="17.0" height="98.0" rx="0.0" fill="#c0c0c0" fill-opacity="0.5" filter="url(#b3)"/>
<rect x="189.0" y="966.0" width="19.0" height="98.0" rx="0.0" fill="#c0c0c0" fill-opacity="0.5" filter="url(#b3)"/>
<rect x="211.0" y="966.0" width="18.0" height="98.0" rx="0.0" fill="#e2e2e2" fill-opacity="0.8" filter="url(#b2)"/>
<rect x="162.3" y="966.0" width="2.4" height="98.0" rx="0.0" fill="#e6e6e6" fill-opacity="0.5" filter="url(#b15)"/>
<rect x="186.3" y="966.0" width="2.4" height="98.0" rx="0.0" fill="#e6e6e6" fill-opacity="0.5" filter="url(#b15)"/>
<rect x="229.3" y="966.0" width="2.4" height="98.0" rx="0.0" fill="#e6e6e6" fill-opacity="0.5" filter="url(#b15)"/>
<rect x="251.3" y="966.0" width="2.4" height="98.0" rx="0.0" fill="#e6e6e6" fill-opacity="0.5" filter="url(#b15)"/>
<rect x="315.3" y="966.0" width="2.4" height="98.0" rx="0.0" fill="#e6e6e6" fill-opacity="0.5" filter="url(#b15)"/>
<rect x="336.3" y="966.0" width="2.4" height="98.0" rx="0.0" fill="#e6e6e6" fill-opacity="0.5" filter="url(#b15)"/>
<rect x="358.3" y="966.0" width="2.4" height="98.0" rx="0.0" fill="#e6e6e6" fill-opacity="0.5" filter="url(#b15)"/>
<rect x="380.3" y="966.0" width="2.4" height="98.0" rx="0.0" fill="#e6e6e6" fill-opacity="0.5" filter="url(#b15)"/>
<rect x="404.8" y="966.0" width="2.4" height="98.0" rx="0.0" fill="#e6e6e6" fill-opacity="0.5" filter="url(#b15)"/>
<rect x="146.0" y="1010.0" width="16.0" height="10.0" rx="2.0" fill="#4a4a4a" fill-opacity="1.0" filter="url(#b15)"/>
<rect x="146.0" y="1016.0" width="16.0" height="15.0" rx="3.0" fill="#707070" fill-opacity="1.0" filter="url(#b2)"/>
<rect x="146.0" y="1030.0" width="16.0" height="30.0" rx="3.2" fill="#ababab" fill-opacity="1.0" filter="url(#b3)"/>
<rect x="167.0" y="1008.0" width="18.0" height="22.0" rx="3.6" fill="#c4c4c4" fill-opacity="1.0" filter="url(#b2)"/>
<rect x="190.0" y="1009.5" width="18.0" height="21.5" rx="3.6" fill="#0a0a0a" fill-opacity="1.0" filter="url(#b1)"/>
<rect x="190.0" y="1030.0" width="18.0" height="26.0" rx="3.6" fill="#959595" fill-opacity="1.0" filter="url(#b3)"/>
<rect x="233.0" y="1009.0" width="17.0" height="21.0" rx="3.4" fill="#9c9c9c" fill-opacity="1.0" filter="url(#b2)"/>
<rect x="298.0" y="1011.0" width="16.0" height="20.0" rx="3.2" fill="#ababab" fill-opacity="1.0" filter="url(#b2)"/>
<rect x="318.0" y="1009.0" width="17.0" height="21.0" rx="3.4" fill="#b2b2b2" fill-opacity="1.0" filter="url(#b2)"/>
<rect x="340.0" y="1011.0" width="18.0" height="19.0" rx="3.6" fill="#cbcbcb" fill-opacity="1.0" filter="url(#b2)"/>
<rect x="361.0" y="1010.0" width="18.0" height="26.0" rx="3.6" fill="#6a6a6a" fill-opacity="1.0" filter="url(#b2)"/>
<rect x="362.0" y="1036.0" width="16.0" height="12.0" rx="2.4" fill="#b4b4b4" fill-opacity="1.0" filter="url(#b3)"/>
<rect x="384.0" y="1018.0" width="20.0" height="15.0" rx="3.0" fill="#8e8e8e" fill-opacity="1.0" filter="url(#b2)"/>
<rect x="384.0" y="1011.0" width="20.0" height="11.0" rx="2.2" fill="#141414" fill-opacity="1.0" filter="url(#b1)"/>
<rect x="146.0" y="1059.8" width="12.0" height="2.5" rx="0.0" fill="#1a1a1a" fill-opacity="0.95" filter="url(#b06)"/>
<rect x="166.0" y="1060.2" width="15.0" height="2.3" rx="0.0" fill="#333" fill-opacity="0.8" filter="url(#b06)"/>
<rect x="190.0" y="1060.2" width="15.0" height="2.3" rx="0.0" fill="#333" fill-opacity="0.8" filter="url(#b06)"/>
<rect x="211.5" y="982.2" width="17.0" height="2.2" rx="1.0" fill="#4a4a4a" fill-opacity="1" filter="url(#b06)"/>
<rect x="211.5" y="1008.4" width="17.0" height="2.2" rx="1.0" fill="#4a4a4a" fill-opacity="1" filter="url(#b06)"/>
<rect x="211.5" y="1033.6" width="17.0" height="2.2" rx="1.0" fill="#4a4a4a" fill-opacity="1" filter="url(#b06)"/>
<rect x="211.5" y="1052.6" width="17.0" height="3.8" rx="1.0" fill="#0d0d0d" fill-opacity="1" filter="url(#b06)"/>
</g>
<rect x="145.1" y="965.8" width="264.4" height="98.7" fill="none" stroke="#3b3b3b" stroke-width="1.4"/>
<text x="99.6" y="990.1" font-size="17.8" fill="#231f20" textLength="29.0" lengthAdjust="spacingAndGlyphs">250</text>
<path d="M129.6 984.5H145.0" stroke="#6d6e71" stroke-width="1.1"/>
<text x="99.6" y="1016.4" font-size="17.8" fill="#231f20" textLength="29.0" lengthAdjust="spacingAndGlyphs">150</text>
<path d="M129.6 1010.8H145.0" stroke="#6d6e71" stroke-width="1.1"/>
<text x="99.6" y="1040.9" font-size="17.8" fill="#231f20" textLength="29.0" lengthAdjust="spacingAndGlyphs">100</text>
<path d="M129.6 1035.3H145.0" stroke="#6d6e71" stroke-width="1.1"/>
<text x="109.8" y="1060.8" font-size="17.8" fill="#231f20" textLength="18.8" lengthAdjust="spacingAndGlyphs">75</text>
<path d="M129.6 1055.2H145.0" stroke="#6d6e71" stroke-width="1.1"/>
<rect x="145.1" y="1069.2" width="264.4" height="98.9" fill="#dedede"/>
<rect x="146.5" y="1101.2" width="17.5" height="17.9" rx="3.5" fill="#050505" fill-opacity="1.0" filter="url(#b1)"/>
<rect x="169.5" y="1105.8" width="17.0" height="10.1" rx="2.0" fill="#7a7a7a" fill-opacity="1.0" filter="url(#b2)"/>
<rect x="191.8" y="1100.0" width="19.4" height="21.0" rx="3.9" fill="#050505" fill-opacity="1.0" filter="url(#b1)"/>
<rect x="235.2" y="1105.5" width="16.8" height="13.6" rx="2.7" fill="#080808" fill-opacity="1.0" filter="url(#b15)"/>
<rect x="321.0" y="1112.5" width="16.0" height="6.2" rx="1.2" fill="#8a8a8a" fill-opacity="1.0" filter="url(#b15)"/>
<rect x="342.0" y="1105.8" width="16.2" height="15.2" rx="3.0" fill="#0a0a0a" fill-opacity="1.0" filter="url(#b15)"/>
<rect x="362.8" y="1102.3" width="18.7" height="18.7" rx="3.7" fill="#050505" fill-opacity="1.0" filter="url(#b1)"/>
<rect x="385.0" y="1101.2" width="21.0" height="21.0" rx="4.2" fill="#050505" fill-opacity="1.0" filter="url(#b1)"/>
<rect x="146.5" y="1121.0" width="17.5" height="21.0" rx="3.5" fill="#d4d4d4" fill-opacity="1.0" filter="url(#b3)"/>
<rect x="191.8" y="1121.0" width="19.4" height="21.0" rx="3.9" fill="#d4d4d4" fill-opacity="1.0" filter="url(#b3)"/>
<rect x="235.2" y="1121.0" width="16.8" height="21.0" rx="3.4" fill="#d4d4d4" fill-opacity="1.0" filter="url(#b3)"/>
<rect x="342.0" y="1121.0" width="16.2" height="21.0" rx="3.2" fill="#d4d4d4" fill-opacity="1.0" filter="url(#b3)"/>
<rect x="362.8" y="1121.0" width="18.7" height="21.0" rx="3.7" fill="#d4d4d4" fill-opacity="1.0" filter="url(#b3)"/>
<rect x="385.0" y="1121.0" width="21.0" height="21.0" rx="4.2" fill="#d4d4d4" fill-opacity="1.0" filter="url(#b3)"/>
<rect x="213.5" y="1090.6" width="16.3" height="2.4" rx="1.0" fill="#555" fill-opacity="1" filter="url(#b06)"/>
<rect x="213.5" y="1116.8" width="16.3" height="2.4" rx="1.0" fill="#555" fill-opacity="1" filter="url(#b06)"/>
<rect x="213.5" y="1142.0" width="16.3" height="2.4" rx="1.0" fill="#555" fill-opacity="1" filter="url(#b06)"/>
<rect x="213.5" y="1159.8" width="16.3" height="4.0" rx="1.0" fill="#0d0d0d" fill-opacity="1" filter="url(#b06)"/>
<rect x="145.1" y="1069.2" width="264.4" height="98.9" fill="none" stroke="#3b3b3b" stroke-width="1.4"/>
<text x="99.6" y="1097.9" font-size="17.8" fill="#231f20" textLength="29.0" lengthAdjust="spacingAndGlyphs">250</text>
<path d="M129.6 1092.3H145.0" stroke="#6d6e71" stroke-width="1.1"/>
<text x="99.6" y="1123.1" font-size="17.8" fill="#231f20" textLength="29.0" lengthAdjust="spacingAndGlyphs">150</text>
<path d="M129.6 1117.5H145.0" stroke="#6d6e71" stroke-width="1.1"/>
<text x="99.6" y="1148.3" font-size="17.8" fill="#231f20" textLength="29.0" lengthAdjust="spacingAndGlyphs">100</text>
<path d="M129.6 1142.7H145.0" stroke="#6d6e71" stroke-width="1.1"/>
<text x="109.8" y="1168.9" font-size="17.8" fill="#231f20" textLength="18.8" lengthAdjust="spacingAndGlyphs">75</text>
<path d="M129.6 1163.3H145.0" stroke="#6d6e71" stroke-width="1.1"/>
<rect x="145.1" y="1172.7" width="264.4" height="99.1" fill="#dedede"/>
<rect x="150.5" y="1212.3" width="17.5" height="15.2" rx="3.0" fill="#080808" fill-opacity="1.0" filter="url(#b15)"/>
<rect x="172.7" y="1214.7" width="17.5" height="5.8" rx="1.2" fill="#b8b8b8" fill-opacity="1.0" filter="url(#b15)"/>
<rect x="194.8" y="1212.3" width="18.7" height="18.7" rx="3.7" fill="#050505" fill-opacity="1.0" filter="url(#b1)"/>
<rect x="235.7" y="1213.5" width="16.3" height="8.5" rx="1.7" fill="#151515" fill-opacity="1.0" filter="url(#b15)"/>
<rect x="235.7" y="1220.0" width="16.3" height="11.0" rx="2.2" fill="#8a8a8a" fill-opacity="1.0" filter="url(#b2)"/>
<rect x="255.5" y="1215.0" width="14.0" height="10.0" rx="2.0" fill="#c4c4c4" fill-opacity="1.0" filter="url(#b2)"/>
<rect x="297.5" y="1213.5" width="16.3" height="18.7" rx="3.3" fill="#8a8a8a" fill-opacity="1.0" filter="url(#b2)"/>
<rect x="318.5" y="1212.3" width="15.2" height="12.9" rx="2.6" fill="#2a2a2a" fill-opacity="1.0" filter="url(#b15)"/>
<rect x="339.5" y="1214.0" width="15.2" height="10.0" rx="2.0" fill="#bdbdbd" fill-opacity="1.0" filter="url(#b2)"/>
<rect x="360.5" y="1212.3" width="17.5" height="9.7" rx="1.9" fill="#0a0a0a" fill-opacity="1.0" filter="url(#b15)"/>
<rect x="360.5" y="1220.0" width="17.5" height="12.0" rx="2.4" fill="#555" fill-opacity="1.0" filter="url(#b2)"/>
<rect x="381.5" y="1210.0" width="22.2" height="19.8" rx="4.0" fill="#050505" fill-opacity="1.0" filter="url(#b1)"/>
<rect x="382.0" y="1226.0" width="21.0" height="10.0" rx="2.0" fill="#6a6a6a" fill-opacity="1.0" filter="url(#b2)"/>
<rect x="215.1" y="1188.7" width="7.9" height="3.0" rx="1.0" fill="#111" fill-opacity="1" filter="url(#b06)"/>
<rect x="225.0" y="1188.7" width="7.9" height="3.0" rx="1.0" fill="#111" fill-opacity="1" filter="url(#b06)"/>
<rect x="215.1" y="1211.5" width="7.9" height="3.0" rx="1.0" fill="#111" fill-opacity="1" filter="url(#b06)"/>
<rect x="225.0" y="1211.5" width="7.9" height="3.0" rx="1.0" fill="#111" fill-opacity="1" filter="url(#b06)"/>
<rect x="215.1" y="1234.2" width="7.9" height="3.0" rx="1.0" fill="#111" fill-opacity="1" filter="url(#b06)"/>
<rect x="225.0" y="1234.2" width="7.9" height="3.0" rx="1.0" fill="#111" fill-opacity="1" filter="url(#b06)"/>
<rect x="215.1" y="1250.0" width="7.9" height="4.0" rx="1.0" fill="#0d0d0d" fill-opacity="1" filter="url(#b06)"/>
<rect x="225.0" y="1250.0" width="7.9" height="4.0" rx="1.0" fill="#0d0d0d" fill-opacity="1" filter="url(#b06)"/>
<rect x="145.1" y="1172.7" width="264.4" height="99.1" fill="none" stroke="#3b3b3b" stroke-width="1.4"/>
<text x="99.6" y="1195.2" font-size="17.8" fill="#231f20" textLength="29.0" lengthAdjust="spacingAndGlyphs">250</text>
<path d="M129.6 1189.6H145.0" stroke="#6d6e71" stroke-width="1.1"/>
<text x="99.6" y="1221.4" font-size="17.8" fill="#231f20" textLength="29.0" lengthAdjust="spacingAndGlyphs">150</text>
<path d="M129.6 1215.8H145.0" stroke="#6d6e71" stroke-width="1.1"/>
<text x="99.6" y="1241.4" font-size="17.8" fill="#231f20" textLength="29.0" lengthAdjust="spacingAndGlyphs">100</text>
<path d="M129.6 1235.8H145.0" stroke="#6d6e71" stroke-width="1.1"/>
<text x="109.8" y="1259.6" font-size="17.8" fill="#231f20" textLength="18.8" lengthAdjust="spacingAndGlyphs">75</text>
<path d="M129.6 1254.0H145.0" stroke="#6d6e71" stroke-width="1.1"/>
<rect x="145.1" y="1276.8" width="264.4" height="98.7" fill="#e0e0e0"/>
<rect x="154.0" y="1307.8" width="17.5" height="21.0" rx="3.5" fill="#2a2a2a" fill-opacity="1.0" filter="url(#b2)"/>
<rect x="175.0" y="1312.5" width="17.5" height="14.0" rx="2.8" fill="#8a8a8a" fill-opacity="1.0" filter="url(#b2)"/>
<rect x="197.2" y="1306.7" width="17.5" height="23.3" rx="3.5" fill="#050505" fill-opacity="1.0" filter="url(#b1)"/>
<rect x="197.2" y="1330.0" width="17.5" height="15.0" rx="3.0" fill="#b0b0b0" fill-opacity="1.0" filter="url(#b3)"/>
<rect x="236.8" y="1309.0" width="17.5" height="19.8" rx="3.5" fill="#050505" fill-opacity="1.0" filter="url(#b1)"/>
<rect x="236.8" y="1328.0" width="17.5" height="12.0" rx="2.4" fill="#c0c0c0" fill-opacity="1.0" filter="url(#b3)"/>
<rect x="318.5" y="1318.3" width="17.0" height="10.5" rx="2.1" fill="#3a3a3a" fill-opacity="1.0" filter="url(#b15)"/>
<rect x="339.5" y="1313.7" width="16.3" height="17.3" rx="3.3" fill="#4a4a4a" fill-opacity="1.0" filter="url(#b2)"/>
<rect x="339.5" y="1331.0" width="16.3" height="14.0" rx="2.8" fill="#b8b8b8" fill-opacity="1.0" filter="url(#b3)"/>
<rect x="360.5" y="1311.3" width="17.5" height="18.7" rx="3.5" fill="#7a7a7a" fill-opacity="1.0" filter="url(#b2)"/>
<rect x="381.5" y="1310.2" width="21.0" height="17.5" rx="3.5" fill="#2a2a2a" fill-opacity="1.0" filter="url(#b2)"/>
<rect x="217.0" y="1300.8" width="6.9" height="2.4" rx="1.0" fill="#333" fill-opacity="1" filter="url(#b06)"/>
<rect x="225.9" y="1300.8" width="7.0" height="2.4" rx="1.0" fill="#333" fill-opacity="1" filter="url(#b06)"/>
<rect x="217.0" y="1325.3" width="6.9" height="2.4" rx="1.0" fill="#333" fill-opacity="1" filter="url(#b06)"/>
<rect x="225.9" y="1325.3" width="7.0" height="2.4" rx="1.0" fill="#333" fill-opacity="1" filter="url(#b06)"/>
<rect x="217.0" y="1347.9" width="6.9" height="2.4" rx="1.0" fill="#333" fill-opacity="1" filter="url(#b06)"/>
<rect x="225.9" y="1347.9" width="7.0" height="2.4" rx="1.0" fill="#333" fill-opacity="1" filter="url(#b06)"/>
<rect x="217.0" y="1365.8" width="6.9" height="4.0" rx="1.0" fill="#0d0d0d" fill-opacity="1" filter="url(#b06)"/>
<rect x="225.9" y="1365.8" width="7.0" height="4.0" rx="1.0" fill="#0d0d0d" fill-opacity="1" filter="url(#b06)"/>
<rect x="145.1" y="1276.8" width="264.4" height="98.7" fill="none" stroke="#3b3b3b" stroke-width="1.4"/>
<text x="99.6" y="1307.9" font-size="17.8" fill="#231f20" textLength="29.0" lengthAdjust="spacingAndGlyphs">250</text>
<path d="M129.6 1302.3H145.0" stroke="#6d6e71" stroke-width="1.1"/>
<text x="99.6" y="1333.4" font-size="17.8" fill="#231f20" textLength="29.0" lengthAdjust="spacingAndGlyphs">150</text>
<path d="M129.6 1327.8H145.0" stroke="#6d6e71" stroke-width="1.1"/>
<text x="99.6" y="1354.4" font-size="17.8" fill="#231f20" textLength="29.0" lengthAdjust="spacingAndGlyphs">100</text>
<path d="M129.6 1348.8H145.0" stroke="#6d6e71" stroke-width="1.1"/>
<text x="109.8" y="1374.4" font-size="17.8" fill="#231f20" textLength="18.8" lengthAdjust="spacingAndGlyphs">75</text>
<path d="M129.6 1368.8H145.0" stroke="#6d6e71" stroke-width="1.1"/>
<text x="412.0" y="1009.0" font-size="19" fill="#231f20" textLength="92.5" lengthAdjust="spacingAndGlyphs">Coomassie</text>
<text x="428.6" y="1031.2" font-size="19" fill="#231f20" textLength="59.0" lengthAdjust="spacingAndGlyphs">stained</text>
<text x="412.3" y="1113.0" font-size="19" fill="#231f20" textLength="93.3" lengthAdjust="spacingAndGlyphs">Matriglycan</text>
<text x="436.0" y="1134.6" font-size="19" fill="#231f20" textLength="46.6" lengthAdjust="spacingAndGlyphs">(IIH6)</text>
<text x="412.0" y="1205.5" font-size="19" fill="#231f20" textLength="106.8" lengthAdjust="spacingAndGlyphs">Dystroglycan</text>
<text x="423.0" y="1227.8" font-size="19" fill="#231f20" textLength="84.8" lengthAdjust="spacingAndGlyphs">N-terminal</text>
<text x="443.0" y="1249.5" font-size="19" fill="#231f20" textLength="45.6" lengthAdjust="spacingAndGlyphs">(1D9)</text>
<text x="412.2" y="1320.5" font-size="19" fill="#231f20" textLength="64.6" lengthAdjust="spacingAndGlyphs">Laminin</text>
<text x="412.2" y="1341.5" font-size="19" fill="#231f20" textLength="64.6" lengthAdjust="spacingAndGlyphs">Overlay</text>
<text x="578.2" y="801.6" font-size="31" font-weight="bold" fill="#231f20" textLength="25" lengthAdjust="spacingAndGlyphs">e.</text>
<text transform="translate(677.6 1006.1) rotate(-90)" font-size="17.5" fill="#231f20" textLength="74.7" lengthAdjust="spacingAndGlyphs">Unreacted</text>
<text x="592.7" y="993.1" font-size="16.5" fill="#231f20" textLength="58.5" lengthAdjust="spacingAndGlyphs">UDP-Xyl</text>
<text x="580.4" y="1006.1" font-size="16.5" fill="#231f20" textLength="70.2" lengthAdjust="spacingAndGlyphs">UDP-GlcA</text>
<path d="M691.0 987.5H700.6" stroke="#444" stroke-width="1.05"/>
<path d="M691.0 1000.8H700.6" stroke="#444" stroke-width="1.05"/>
<path d="M712.5 987.5H722.1" stroke="#444" stroke-width="1.05"/>
<path d="M712.5 1000.8H722.1M717.3 996.0V1005.6" stroke="#333" stroke-width="1.05"/>
<path d="M733.5 987.5H743.1M738.3 982.7V992.3" stroke="#333" stroke-width="1.05"/>
<path d="M733.5 1000.8H743.1" stroke="#444" stroke-width="1.05"/>
<path d="M754.4 987.5H764.0M759.2 982.7V992.3" stroke="#333" stroke-width="1.05"/>
<path d="M754.4 1000.8H764.0M759.2 996.0V1005.6" stroke="#333" stroke-width="1.05"/>
<rect x="658.7" y="1011.6" width="110.6" height="238.7" fill="#e3e3e3"/>
<rect x="746.0" y="1086.0" width="19.0" height="10.0" rx="2.0" fill="#c8c8c8" fill-opacity="1.0" filter="url(#b2)"/>
<rect x="745.0" y="1094.0" width="20.5" height="16.0" rx="3.2" fill="#060606" fill-opacity="1.0" filter="url(#b1)"/>
<rect x="746.0" y="1110.0" width="19.0" height="18.0" rx="3.6" fill="#c4c4c4" fill-opacity="1.0" filter="url(#b2)"/>
<rect x="716.0" y="1020.0" width="3.0" height="4.0" rx="0.6" fill="#b0b0b0" fill-opacity="1.0" filter="url(#b1)"/>
<rect x="658.7" y="1011.6" width="110.6" height="238.7" fill="none" stroke="#58595b" stroke-width="1.2"/>
<text x="613.9" y="1030.5" font-size="16" fill="#231f20" textLength="26.9" lengthAdjust="spacingAndGlyphs">MW</text>
<text x="608.3" y="1050.5" font-size="16" fill="#231f20" textLength="37.1" lengthAdjust="spacingAndGlyphs">(kDa)</text>
<text x="617.8" y="1075.2" font-size="18.5" fill="#231f20" textLength="29.4" lengthAdjust="spacingAndGlyphs">250</text>
<path d="M647.5 1068.2H658.7" stroke="#6d6e71" stroke-width="1.1"/>
<text x="617.8" y="1105.3" font-size="18.5" fill="#231f20" textLength="29.4" lengthAdjust="spacingAndGlyphs">150</text>
<path d="M647.5 1098.3H658.7" stroke="#6d6e71" stroke-width="1.1"/>
<text x="617.8" y="1131.8" font-size="18.5" fill="#231f20" textLength="29.4" lengthAdjust="spacingAndGlyphs">100</text>
<path d="M647.5 1124.8H658.7" stroke="#6d6e71" stroke-width="1.1"/>
<text x="627.9" y="1153.0" font-size="18.5" fill="#231f20" textLength="19.3" lengthAdjust="spacingAndGlyphs">75</text>
<path d="M647.5 1146.0H658.7" stroke="#6d6e71" stroke-width="1.1"/>
<text x="627.9" y="1187.2" font-size="18.5" fill="#231f20" textLength="19.3" lengthAdjust="spacingAndGlyphs">50</text>
<path d="M647.5 1180.2H658.7" stroke="#6d6e71" stroke-width="1.1"/>
<text x="627.9" y="1212.9" font-size="18.5" fill="#231f20" textLength="19.3" lengthAdjust="spacingAndGlyphs">37</text>
<path d="M647.5 1205.9H658.7" stroke="#6d6e71" stroke-width="1.1"/>
<text x="627.9" y="1245.0" font-size="18.5" fill="#231f20" textLength="19.3" lengthAdjust="spacingAndGlyphs">25</text>
<path d="M647.5 1238.0H658.7" stroke="#6d6e71" stroke-width="1.1"/>
<text x="669.3" y="1265.2" font-size="17.7" fill="#231f20" textLength="89.3" lengthAdjust="spacingAndGlyphs">Matriglycan</text>
<text x="692.0" y="1286.0" font-size="17.7" fill="#231f20" textLength="43.8" lengthAdjust="spacingAndGlyphs">(IIH6)</text>
<text transform="translate(851.1 1006.1) rotate(-90)" font-size="17.5" fill="#231f20" textLength="74.7" lengthAdjust="spacingAndGlyphs">Unreacted</text>
<path d="M865.8 987.5H875.4" stroke="#444" stroke-width="1.05"/>
<path d="M865.8 1000.8H875.4" stroke="#444" stroke-width="1.05"/>
<path d="M886.0 987.5H895.6" stroke="#444" stroke-width="1.05"/>
<path d="M886.0 1000.8H895.6M890.8 996.0V1005.6" stroke="#333" stroke-width="1.05"/>
<path d="M906.4 987.5H916.0M911.2 982.7V992.3" stroke="#333" stroke-width="1.05"/>
<path d="M906.4 1000.8H916.0" stroke="#444" stroke-width="1.05"/>
<path d="M927.6 987.5H937.2M932.4 982.7V992.3" stroke="#333" stroke-width="1.05"/>
<path d="M927.6 1000.8H937.2M932.4 996.0V1005.6" stroke="#333" stroke-width="1.05"/>
<rect x="832.5" y="1011.6" width="110.8" height="238.7" fill="#e3e3e3"/>
<rect x="921.5" y="1094.4" width="19.1" height="15.1" rx="3.0" fill="#050505" fill-opacity="1.0" filter="url(#b1)"/>
<rect x="923.0" y="1108.5" width="16.0" height="7.5" rx="1.5" fill="#a8a8a8" fill-opacity="1.0" filter="url(#b2)"/>
<rect x="832.5" y="1011.6" width="110.8" height="238.7" fill="none" stroke="#58595b" stroke-width="1.2"/>
<text x="788.4" y="1037.6" font-size="16" fill="#231f20" textLength="28.6" lengthAdjust="spacingAndGlyphs">MW</text>
<text x="782.9" y="1057.0" font-size="16" fill="#231f20" textLength="39.0" lengthAdjust="spacingAndGlyphs">(kDa)</text>
<text x="792.2" y="1075.8" font-size="18.5" fill="#231f20" textLength="29.4" lengthAdjust="spacingAndGlyphs">250</text>
<path d="M822.0 1068.8H832.5" stroke="#6d6e71" stroke-width="1.1"/>
<text x="792.2" y="1104.1" font-size="18.5" fill="#231f20" textLength="29.4" lengthAdjust="spacingAndGlyphs">150</text>
<path d="M822.0 1097.1H832.5" stroke="#6d6e71" stroke-width="1.1"/>
<text x="792.2" y="1130.1" font-size="18.5" fill="#231f20" textLength="29.4" lengthAdjust="spacingAndGlyphs">100</text>
<path d="M822.0 1123.1H832.5" stroke="#6d6e71" stroke-width="1.1"/>
<text x="802.3" y="1151.2" font-size="18.5" fill="#231f20" textLength="19.3" lengthAdjust="spacingAndGlyphs">75</text>
<path d="M822.0 1144.2H832.5" stroke="#6d6e71" stroke-width="1.1"/>
<text x="802.3" y="1182.9" font-size="18.5" fill="#231f20" textLength="19.3" lengthAdjust="spacingAndGlyphs">50</text>
<path d="M822.0 1175.9H832.5" stroke="#6d6e71" stroke-width="1.1"/>
<text x="802.3" y="1205.0" font-size="18.5" fill="#231f20" textLength="19.3" lengthAdjust="spacingAndGlyphs">37</text>
<path d="M822.0 1198.0H832.5" stroke="#6d6e71" stroke-width="1.1"/>
<text x="802.3" y="1234.5" font-size="18.5" fill="#231f20" textLength="19.3" lengthAdjust="spacingAndGlyphs">25</text>
<path d="M822.0 1227.5H832.5" stroke="#6d6e71" stroke-width="1.1"/>
<text x="857.6" y="1265.2" font-size="17.7" fill="#231f20" textLength="61.0" lengthAdjust="spacingAndGlyphs">Laminin</text>
<text x="860.5" y="1286.0" font-size="17.7" fill="#231f20" textLength="60.3" lengthAdjust="spacingAndGlyphs">Overlay</text>
<text transform="translate(1036.2 1006.1) rotate(-90)" font-size="17.5" fill="#231f20" textLength="75.0" lengthAdjust="spacingAndGlyphs">Unreacted</text>
<path d="M1049.5 987.0H1059.0" stroke="#444" stroke-width="1.05"/>
<path d="M1049.5 1000.5H1059.0" stroke="#444" stroke-width="1.05"/>
<path d="M1071.0 987.0H1080.5" stroke="#444" stroke-width="1.05"/>
<path d="M1071.0 1000.5H1080.5M1075.8 995.7V1005.3" stroke="#333" stroke-width="1.05"/>
<path d="M1092.0 987.0H1101.5M1096.8 982.2V991.8" stroke="#333" stroke-width="1.05"/>
<path d="M1092.0 1000.5H1101.5" stroke="#444" stroke-width="1.05"/>
<path d="M1113.2 987.0H1122.8M1118.0 982.2V991.8" stroke="#333" stroke-width="1.05"/>
<path d="M1113.2 1000.5H1122.8M1118.0 995.7V1005.3" stroke="#333" stroke-width="1.05"/>
<rect x="1014.6" y="1011.6" width="110.2" height="238.6" fill="#e0e0e0"/>
<rect x="1017.2" y="1131.0" width="16.3" height="64.0" rx="3.3" fill="#d4d4d4" fill-opacity="1.0" filter="url(#b3)"/>
<rect x="1018.2" y="1149.7" width="14.3" height="11.6" rx="2.3" fill="#cbcbcb" fill-opacity="1.0" filter="url(#b2)"/>
<rect x="1018.2" y="1175.3" width="14.3" height="11.6" rx="2.3" fill="#d2d2d2" fill-opacity="1.0" filter="url(#b2)"/>
<rect x="1017.2" y="1101.0" width="16.3" height="30.0" rx="3.3" fill="#3c3c3c" fill-opacity="1.0" filter="url(#b15)"/>
<rect x="1018.2" y="1107.0" width="14.3" height="20.0" rx="2.9" fill="#1e1e1e" fill-opacity="1.0" filter="url(#b2)"/>
<rect x="1016.2" y="1220.8" width="18.3" height="4.8" rx="1.0" fill="#6a6a6a" fill-opacity="1.0" filter="url(#b1)"/>
<rect x="1017.2" y="1230.0" width="16.3" height="2.5" rx="0.5" fill="#d0d0d0" fill-opacity="1.0" filter="url(#b1)"/>
<rect x="1038.7" y="1131.0" width="16.3" height="64.0" rx="3.3" fill="#d4d4d4" fill-opacity="1.0" filter="url(#b3)"/>
<rect x="1039.7" y="1149.7" width="14.3" height="11.6" rx="2.3" fill="#cbcbcb" fill-opacity="1.0" filter="url(#b2)"/>
<rect x="1039.7" y="1175.3" width="14.3" height="11.6" rx="2.3" fill="#d2d2d2" fill-opacity="1.0" filter="url(#b2)"/>
<rect x="1038.7" y="1101.0" width="16.3" height="30.0" rx="3.3" fill="#3c3c3c" fill-opacity="1.0" filter="url(#b15)"/>
<rect x="1039.7" y="1107.0" width="14.3" height="20.0" rx="2.9" fill="#1e1e1e" fill-opacity="1.0" filter="url(#b2)"/>
<rect x="1037.7" y="1221.7" width="18.3" height="4.8" rx="1.0" fill="#6a6a6a" fill-opacity="1.0" filter="url(#b1)"/>
<rect x="1038.7" y="1230.9" width="16.3" height="2.5" rx="0.5" fill="#d0d0d0" fill-opacity="1.0" filter="url(#b1)"/>
<rect x="1060.2" y="1131.0" width="17.4" height="64.0" rx="3.5" fill="#d4d4d4" fill-opacity="1.0" filter="url(#b3)"/>
<rect x="1061.2" y="1149.7" width="15.4" height="11.6" rx="2.3" fill="#cbcbcb" fill-opacity="1.0" filter="url(#b2)"/>
<rect x="1061.2" y="1175.3" width="15.4" height="11.6" rx="2.3" fill="#d2d2d2" fill-opacity="1.0" filter="url(#b2)"/>
<rect x="1060.2" y="1101.0" width="17.4" height="30.0" rx="3.5" fill="#3c3c3c" fill-opacity="1.0" filter="url(#b15)"/>
<rect x="1061.2" y="1107.0" width="15.4" height="20.0" rx="3.1" fill="#1e1e1e" fill-opacity="1.0" filter="url(#b2)"/>
<rect x="1059.2" y="1222.6" width="19.4" height="4.8" rx="1.0" fill="#6a6a6a" fill-opacity="1.0" filter="url(#b1)"/>
<rect x="1060.2" y="1231.8" width="17.4" height="2.5" rx="0.5" fill="#d0d0d0" fill-opacity="1.0" filter="url(#b1)"/>
<rect x="1082.3" y="1131.0" width="17.4" height="64.0" rx="3.5" fill="#d4d4d4" fill-opacity="1.0" filter="url(#b3)"/>
<rect x="1083.3" y="1149.7" width="15.4" height="11.6" rx="2.3" fill="#cbcbcb" fill-opacity="1.0" filter="url(#b2)"/>
<rect x="1083.3" y="1175.3" width="15.4" height="11.6" rx="2.3" fill="#d2d2d2" fill-opacity="1.0" filter="url(#b2)"/>
<rect x="1082.3" y="1101.0" width="17.4" height="30.0" rx="3.5" fill="#3c3c3c" fill-opacity="1.0" filter="url(#b15)"/>
<rect x="1083.3" y="1107.0" width="15.4" height="20.0" rx="3.1" fill="#1e1e1e" fill-opacity="1.0" filter="url(#b2)"/>
<rect x="1081.3" y="1223.5" width="19.4" height="4.8" rx="1.0" fill="#6a6a6a" fill-opacity="1.0" filter="url(#b1)"/>
<rect x="1082.3" y="1232.7" width="17.4" height="2.5" rx="0.5" fill="#d0d0d0" fill-opacity="1.0" filter="url(#b1)"/>
<rect x="1104.3" y="1131.0" width="17.5" height="64.0" rx="3.5" fill="#d4d4d4" fill-opacity="1.0" filter="url(#b3)"/>
<rect x="1105.3" y="1149.7" width="15.5" height="11.6" rx="2.3" fill="#cbcbcb" fill-opacity="1.0" filter="url(#b2)"/>
<rect x="1105.3" y="1175.3" width="15.5" height="11.6" rx="2.3" fill="#d2d2d2" fill-opacity="1.0" filter="url(#b2)"/>
<rect x="1104.3" y="1101.0" width="17.5" height="30.0" rx="3.5" fill="#3c3c3c" fill-opacity="1.0" filter="url(#b15)"/>
<rect x="1105.3" y="1107.0" width="15.5" height="20.0" rx="3.1" fill="#1e1e1e" fill-opacity="1.0" filter="url(#b2)"/>
<rect x="1103.3" y="1224.4" width="19.5" height="4.8" rx="1.0" fill="#6a6a6a" fill-opacity="1.0" filter="url(#b1)"/>
<rect x="1104.3" y="1233.6" width="17.5" height="2.5" rx="0.5" fill="#d0d0d0" fill-opacity="1.0" filter="url(#b1)"/>
<rect x="1014.6" y="1011.6" width="110.2" height="238.6" fill="none" stroke="#58595b" stroke-width="1.2"/>
<text x="968.8" y="1038.8" font-size="16" fill="#231f20" textLength="28.8" lengthAdjust="spacingAndGlyphs">MW</text>
<text x="965.0" y="1058.0" font-size="16" fill="#231f20" textLength="37.5" lengthAdjust="spacingAndGlyphs">(kDa)</text>
<text x="973.8" y="1078.2" font-size="18.5" fill="#231f20" textLength="29.4" lengthAdjust="spacingAndGlyphs">250</text>
<path d="M1004.0 1071.2H1014.6" stroke="#6d6e71" stroke-width="1.1"/>
<text x="973.8" y="1105.0" font-size="18.5" fill="#231f20" textLength="29.4" lengthAdjust="spacingAndGlyphs">150</text>
<path d="M1004.0 1098.0H1014.6" stroke="#6d6e71" stroke-width="1.1"/>
<text x="973.8" y="1128.2" font-size="18.5" fill="#231f20" textLength="29.4" lengthAdjust="spacingAndGlyphs">100</text>
<path d="M1004.0 1121.2H1014.6" stroke="#6d6e71" stroke-width="1.1"/>
<text x="983.9" y="1147.8" font-size="18.5" fill="#231f20" textLength="19.3" lengthAdjust="spacingAndGlyphs">75</text>
<path d="M1004.0 1140.8H1014.6" stroke="#6d6e71" stroke-width="1.1"/>
<text x="983.9" y="1177.0" font-size="18.5" fill="#231f20" textLength="19.3" lengthAdjust="spacingAndGlyphs">50</text>
<path d="M1004.0 1170.0H1014.6" stroke="#6d6e71" stroke-width="1.1"/>
<text x="983.9" y="1200.3" font-size="18.5" fill="#231f20" textLength="19.3" lengthAdjust="spacingAndGlyphs">37</text>
<path d="M1004.0 1193.3H1014.6" stroke="#6d6e71" stroke-width="1.1"/>
<text x="983.9" y="1228.5" font-size="18.5" fill="#231f20" textLength="19.3" lengthAdjust="spacingAndGlyphs">25</text>
<path d="M1004.0 1221.5H1014.6" stroke="#6d6e71" stroke-width="1.1"/>
<text x="1130.6" y="1120.5" font-size="23.5" fill="#231f20" font-family="Liberation Serif" textLength="7.2" lengthAdjust="spacingAndGlyphs">}</text>
<text x="1142.8" y="1122.7" font-size="29" fill="#231f20" font-family="Liberation Serif" textLength="15.8" lengthAdjust="spacingAndGlyphs">α</text>
<text x="1158.0" y="1122.3" font-size="26" fill="#231f20" textLength="43.5" lengthAdjust="spacingAndGlyphs">-DG</text>
<path d="M1125.3 1223.4L1140.2 1215.4Q1135.8 1223.4 1140.2 1231.4Z" fill="#231f20"/>
<text x="1143.4" y="1231.4" font-size="25.5" fill="#231f20" font-family="Liberation Serif" textLength="12.8" lengthAdjust="spacingAndGlyphs">β</text>
<text x="1156.6" y="1231.3" font-size="24.7" fill="#231f20" textLength="42.2" lengthAdjust="spacingAndGlyphs">-DG</text>
<text x="997.9" y="1265.2" font-size="17.7" fill="#231f20" textLength="143.1" lengthAdjust="spacingAndGlyphs">Core Dystroglycan</text>
<text x="1032.9" y="1286.0" font-size="17.7" fill="#231f20" textLength="73.8" lengthAdjust="spacingAndGlyphs">(AF6868)</text>
</svg>
</body></html>
